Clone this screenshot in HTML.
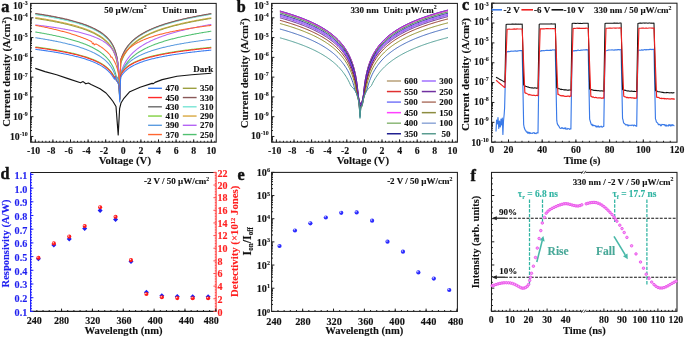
<!DOCTYPE html>
<html><head><meta charset="utf-8"><style>
html,body{margin:0;padding:0;background:#fff;}
svg{display:block;font-family:"Liberation Serif",serif;font-weight:bold;filter:blur(0.3px);}
</style></head><body>
<svg width="685" height="339" viewBox="0 0 685 339">
<defs>
<clipPath id="ca"><rect x="30.6" y="3.4" width="185.60" height="138.80"/></clipPath>
<clipPath id="cb"><rect x="271.6" y="3.4" width="185.80" height="138.80"/></clipPath>
<clipPath id="cc"><rect x="491.6" y="3.2" width="185.40" height="139.00"/></clipPath>
</defs>
<rect width="685" height="339" fill="#fff"/>
<g clip-path="url(#ca)">
<polyline points="35.3,13.9 36.18,14.03 37.06,14.17 37.94,14.3 38.82,14.44 39.7,14.58 40.58,14.71 41.46,14.86 42.34,15 43.22,15.14 44.1,15.29 44.98,15.44 45.86,15.59 46.74,15.74 47.62,15.89 48.5,16.04 49.38,16.2 50.26,16.36 51.14,16.52 52.02,16.68 52.9,16.85 53.78,17.02 54.66,17.19 55.54,17.36 56.42,17.53 57.3,17.71 58.18,17.89 59.06,18.07 59.94,18.25 60.82,18.44 61.7,18.63 62.58,18.82 63.46,19.02 64.34,19.22 65.22,19.42 66.1,19.63 66.98,19.84 67.86,20.05 68.74,20.26 69.62,20.48 70.5,20.71 71.38,20.93 72.26,21.17 73.14,21.4 74.02,21.64 74.9,21.89 75.78,22.14 76.66,22.4 77.54,22.66 78.42,22.92 79.3,23.19 80.18,23.47 81.06,23.76 81.94,24.05 82.82,24.35 83.7,24.65 84.58,24.96 85.46,25.28 86.34,25.61 87.22,25.95 88.1,26.3 88.98,26.65 89.86,27.02 90.74,27.4 91.62,27.79 92.5,28.19 93.38,28.61 94.26,29.04 95.14,29.48 96.02,29.94 96.9,30.42 97.78,30.92 98.66,31.44 99.54,31.98 100.42,32.54 101.3,33.14 102.18,33.76 103.06,34.41 103.94,35.1 104.82,35.83 105.7,36.6 106.58,37.42 107.46,38.3 108.34,39.25 109.22,40.28 110.1,41.39 110.98,42.61 111.86,43.97 112.74,45.49 113.62,47.22 114.5,49.22 115.38,51.6 116.26,54.55 117.14,58.39 118.02,63.96 118.9,74.17 119.78,97 120.66,60.41 121.54,57.82 122.42,55.6 123.3,53.65 124.18,51.92 125.06,50.36 125.94,48.94 126.82,47.64 127.7,46.44 128.58,45.33 129.46,44.29 130.34,43.31 131.22,42.4 132.1,41.53 132.98,40.71 133.86,39.93 134.74,39.18 135.62,38.47 136.5,37.8 137.38,37.15 138.26,36.52 139.14,35.92 140.02,35.34 140.9,34.78 141.78,34.25 142.66,33.73 143.54,33.22 144.42,32.73 145.3,32.26 146.18,31.8 147.06,31.36 147.94,30.92 148.82,30.5 149.7,30.09 150.58,29.69 151.46,29.3 152.34,28.92 153.22,28.54 154.1,28.18 154.98,27.83 155.86,27.48 156.74,27.14 157.62,26.81 158.5,26.48 159.38,26.16 160.26,25.85 161.14,25.54 162.02,25.24 162.9,24.95 163.78,24.66 164.66,24.38 165.54,24.1 166.42,23.82 167.3,23.55 168.18,23.29 169.06,23.03 169.94,22.77 170.82,22.52 171.7,22.27 172.58,22.03 173.46,21.79 174.34,21.55 175.22,21.32 176.1,21.09 176.98,20.86 177.86,20.64 178.74,20.42 179.62,20.2 180.5,19.99 181.38,19.78 182.26,19.57 183.14,19.36 184.02,19.16 184.9,18.96 185.78,18.76 186.66,18.56 187.54,18.37 188.42,18.18 189.3,17.99 190.18,17.81 191.06,17.62 191.94,17.44 192.82,17.26 193.7,17.08 194.58,16.91 195.46,16.73 196.34,16.56 197.22,16.39 198.1,16.23 198.98,16.06 199.86,15.89 200.74,15.73 201.62,15.57 202.5,15.41 203.38,15.25 204.26,15.1 205.14,14.94 206.02,14.79 206.9,14.64 207.78,14.49 208.66,14.34 209.54,14.19 210.42,14.04 211.3,13.9" fill="none" stroke="#6a6a6a" stroke-width="1.05" stroke-linejoin="round" />
<polyline points="35.3,14.6 36.18,14.73 37.06,14.87 37.94,15 38.82,15.14 39.7,15.28 40.58,15.41 41.46,15.56 42.34,15.7 43.22,15.84 44.1,15.99 44.98,16.14 45.86,16.29 46.74,16.44 47.62,16.59 48.5,16.74 49.38,16.9 50.26,17.06 51.14,17.22 52.02,17.38 52.9,17.55 53.78,17.72 54.66,17.89 55.54,18.06 56.42,18.23 57.3,18.41 58.18,18.59 59.06,18.77 59.94,18.95 60.82,19.14 61.7,19.33 62.58,19.52 63.46,19.72 64.34,19.92 65.22,20.12 66.1,20.33 66.98,20.54 67.86,20.75 68.74,20.96 69.62,21.18 70.5,21.41 71.38,21.63 72.26,21.87 73.14,22.1 74.02,22.34 74.9,22.59 75.78,22.84 76.66,23.1 77.54,23.36 78.42,23.62 79.3,23.89 80.18,24.17 81.06,24.46 81.94,24.75 82.82,25.05 83.7,25.35 84.58,25.66 85.46,25.98 86.34,26.31 87.22,26.65 88.1,27 88.98,27.35 89.86,27.72 90.74,28.1 91.62,28.49 92.5,28.89 93.38,29.31 94.26,29.74 95.14,30.18 96.02,30.64 96.9,31.12 97.78,31.62 98.66,32.14 99.54,32.68 100.42,33.24 101.3,33.84 102.18,34.46 103.06,35.11 103.94,35.8 104.82,36.53 105.7,37.3 106.58,38.12 107.46,39 108.34,39.95 109.22,40.98 110.1,42.09 110.98,43.31 111.86,44.67 112.74,46.19 113.62,47.92 114.5,49.92 115.38,52.3 116.26,55.25 117.14,59.09 118.02,64.66 118.9,74.87 119.78,98 120.66,60.81 121.54,58.22 122.42,56 123.3,54.05 124.18,52.32 125.06,50.76 125.94,49.34 126.82,48.04 127.7,46.84 128.58,45.73 129.46,44.69 130.34,43.71 131.22,42.8 132.1,41.93 132.98,41.11 133.86,40.33 134.74,39.58 135.62,38.87 136.5,38.2 137.38,37.55 138.26,36.92 139.14,36.32 140.02,35.74 140.9,35.18 141.78,34.65 142.66,34.13 143.54,33.62 144.42,33.13 145.3,32.66 146.18,32.2 147.06,31.76 147.94,31.32 148.82,30.9 149.7,30.49 150.58,30.09 151.46,29.7 152.34,29.32 153.22,28.94 154.1,28.58 154.98,28.23 155.86,27.88 156.74,27.54 157.62,27.21 158.5,26.88 159.38,26.56 160.26,26.25 161.14,25.94 162.02,25.64 162.9,25.35 163.78,25.06 164.66,24.78 165.54,24.5 166.42,24.22 167.3,23.95 168.18,23.69 169.06,23.43 169.94,23.17 170.82,22.92 171.7,22.67 172.58,22.43 173.46,22.19 174.34,21.95 175.22,21.72 176.1,21.49 176.98,21.26 177.86,21.04 178.74,20.82 179.62,20.6 180.5,20.39 181.38,20.18 182.26,19.97 183.14,19.76 184.02,19.56 184.9,19.36 185.78,19.16 186.66,18.96 187.54,18.77 188.42,18.58 189.3,18.39 190.18,18.21 191.06,18.02 191.94,17.84 192.82,17.66 193.7,17.48 194.58,17.31 195.46,17.13 196.34,16.96 197.22,16.79 198.1,16.63 198.98,16.46 199.86,16.29 200.74,16.13 201.62,15.97 202.5,15.81 203.38,15.65 204.26,15.5 205.14,15.34 206.02,15.19 206.9,15.04 207.78,14.89 208.66,14.74 209.54,14.59 210.42,14.44 211.3,14.3" fill="none" stroke="#78e4d4" stroke-width="1.05" stroke-linejoin="round" />
<polyline points="35.3,13.4 36.18,13.53 37.06,13.67 37.94,13.8 38.82,13.94 39.7,14.08 40.58,14.21 41.46,14.36 42.34,14.5 43.22,14.64 44.1,14.79 44.98,14.94 45.86,15.09 46.74,15.24 47.62,15.39 48.5,15.54 49.38,15.7 50.26,15.86 51.14,16.02 52.02,16.18 52.9,16.35 53.78,16.52 54.66,16.69 55.54,16.86 56.42,17.03 57.3,17.21 58.18,17.39 59.06,17.57 59.94,17.75 60.82,17.94 61.7,18.13 62.58,18.32 63.46,18.52 64.34,18.72 65.22,18.92 66.1,19.13 66.98,19.34 67.86,19.55 68.74,19.76 69.62,19.98 70.5,20.21 71.38,20.43 72.26,20.67 73.14,20.9 74.02,21.14 74.9,21.39 75.78,21.64 76.66,21.9 77.54,22.16 78.42,22.42 79.3,22.69 80.18,22.97 81.06,23.26 81.94,23.55 82.82,23.85 83.7,24.15 84.58,24.46 85.46,24.78 86.34,25.11 87.22,25.45 88.1,25.8 88.98,26.15 89.86,26.52 90.74,26.9 91.62,27.29 92.5,27.69 93.38,28.11 94.26,28.54 95.14,28.98 96.02,29.44 96.9,29.92 97.78,30.42 98.66,30.94 99.54,31.48 100.42,32.04 101.3,32.64 102.18,33.26 103.06,33.91 103.94,34.6 104.82,35.33 105.7,36.1 106.58,36.92 107.46,37.8 108.34,38.75 109.22,39.78 110.1,40.89 110.98,42.11 111.86,43.47 112.74,44.99 113.62,46.72 114.5,48.72 115.38,51.1 116.26,54.05 117.14,57.89 118.02,63.46 118.9,73.67 119.78,99 120.66,60.11 121.54,57.52 122.42,55.3 123.3,53.35 124.18,51.62 125.06,50.06 125.94,48.64 126.82,47.34 127.7,46.14 128.58,45.03 129.46,43.99 130.34,43.01 131.22,42.1 132.1,41.23 132.98,40.41 133.86,39.63 134.74,38.88 135.62,38.17 136.5,37.5 137.38,36.85 138.26,36.22 139.14,35.62 140.02,35.04 140.9,34.48 141.78,33.95 142.66,33.43 143.54,32.92 144.42,32.43 145.3,31.96 146.18,31.5 147.06,31.06 147.94,30.62 148.82,30.2 149.7,29.79 150.58,29.39 151.46,29 152.34,28.62 153.22,28.24 154.1,27.88 154.98,27.53 155.86,27.18 156.74,26.84 157.62,26.51 158.5,26.18 159.38,25.86 160.26,25.55 161.14,25.24 162.02,24.94 162.9,24.65 163.78,24.36 164.66,24.08 165.54,23.8 166.42,23.52 167.3,23.25 168.18,22.99 169.06,22.73 169.94,22.47 170.82,22.22 171.7,21.97 172.58,21.73 173.46,21.49 174.34,21.25 175.22,21.02 176.1,20.79 176.98,20.56 177.86,20.34 178.74,20.12 179.62,19.9 180.5,19.69 181.38,19.48 182.26,19.27 183.14,19.06 184.02,18.86 184.9,18.66 185.78,18.46 186.66,18.26 187.54,18.07 188.42,17.88 189.3,17.69 190.18,17.51 191.06,17.32 191.94,17.14 192.82,16.96 193.7,16.78 194.58,16.61 195.46,16.43 196.34,16.26 197.22,16.09 198.1,15.93 198.98,15.76 199.86,15.59 200.74,15.43 201.62,15.27 202.5,15.11 203.38,14.95 204.26,14.8 205.14,14.64 206.02,14.49 206.9,14.34 207.78,14.19 208.66,14.04 209.54,13.89 210.42,13.74 211.3,13.6" fill="none" stroke="#8a5858" stroke-width="1.05" stroke-linejoin="round" />
<polyline points="35.3,17.6 36.18,17.73 37.06,17.87 37.94,18 38.82,18.14 39.7,18.28 40.58,18.41 41.46,18.56 42.34,18.7 43.22,18.84 44.1,18.99 44.98,19.14 45.86,19.29 46.74,19.44 47.62,19.59 48.5,19.74 49.38,19.9 50.26,20.06 51.14,20.22 52.02,20.38 52.9,20.55 53.78,20.72 54.66,20.89 55.54,21.06 56.42,21.23 57.3,21.41 58.18,21.59 59.06,21.77 59.94,21.95 60.82,22.14 61.7,22.33 62.58,22.52 63.46,22.72 64.34,22.92 65.22,23.12 66.1,23.33 66.98,23.54 67.86,23.75 68.74,23.96 69.62,24.18 70.5,24.41 71.38,24.63 72.26,24.87 73.14,25.1 74.02,25.34 74.9,25.59 75.78,25.84 76.66,26.1 77.54,26.36 78.42,26.62 79.3,26.89 80.18,27.17 81.06,27.46 81.94,27.75 82.82,28.05 83.7,28.35 84.58,28.66 85.46,28.98 86.34,29.31 87.22,29.65 88.1,30 88.98,30.35 89.86,30.72 90.74,31.1 91.62,31.49 92.5,31.89 93.38,32.31 94.26,32.74 95.14,33.18 96.02,33.64 96.9,34.12 97.78,34.62 98.66,35.14 99.54,35.68 100.42,36.24 101.3,36.84 102.18,37.46 103.06,38.11 103.94,38.8 104.82,39.53 105.7,40.3 106.58,41.12 107.46,42 108.34,42.95 109.22,43.98 110.1,45.09 110.98,46.31 111.86,47.67 112.74,49.19 113.62,50.92 114.5,52.92 115.38,55.3 116.26,58.25 117.14,62.09 118.02,67.66 118.9,76.56 119.78,97 120.66,63.02 121.54,60.5 122.42,58.34 123.3,56.44 124.18,54.76 125.06,53.25 125.94,51.87 126.82,50.61 127.7,49.44 128.58,48.36 129.46,47.34 130.34,46.4 131.22,45.5 132.1,44.66 132.98,43.86 133.86,43.1 134.74,42.38 135.62,41.69 136.5,41.03 137.38,40.4 138.26,39.79 139.14,39.21 140.02,38.65 140.9,38.1 141.78,37.58 142.66,37.08 143.54,36.59 144.42,36.11 145.3,35.65 146.18,35.2 147.06,34.77 147.94,34.35 148.82,33.94 149.7,33.54 150.58,33.15 151.46,32.77 152.34,32.4 153.22,32.04 154.1,31.68 154.98,31.34 155.86,31 156.74,30.67 157.62,30.35 158.5,30.03 159.38,29.72 160.26,29.42 161.14,29.12 162.02,28.83 162.9,28.54 163.78,28.26 164.66,27.98 165.54,27.71 166.42,27.45 167.3,27.18 168.18,26.93 169.06,26.67 169.94,26.43 170.82,26.18 171.7,25.94 172.58,25.7 173.46,25.47 174.34,25.24 175.22,25.01 176.1,24.79 176.98,24.57 177.86,24.35 178.74,24.14 179.62,23.93 180.5,23.72 181.38,23.51 182.26,23.31 183.14,23.11 184.02,22.91 184.9,22.72 185.78,22.53 186.66,22.34 187.54,22.15 188.42,21.96 189.3,21.78 190.18,21.6 191.06,21.42 191.94,21.24 192.82,21.07 193.7,20.9 194.58,20.73 195.46,20.56 196.34,20.39 197.22,20.22 198.1,20.06 198.98,19.9 199.86,19.74 200.74,19.58 201.62,19.42 202.5,19.27 203.38,19.12 204.26,18.96 205.14,18.81 206.02,18.66 206.9,18.52 207.78,18.37 208.66,18.23 209.54,18.08 210.42,17.94 211.3,17.8" fill="none" stroke="#d8a840" stroke-width="1.05" stroke-linejoin="round" />
<polyline points="35.3,18.4 36.18,18.53 37.06,18.67 37.94,18.8 38.82,18.94 39.7,19.08 40.58,19.21 41.46,19.36 42.34,19.5 43.22,19.64 44.1,19.79 44.98,19.94 45.86,20.09 46.74,20.24 47.62,20.39 48.5,20.54 49.38,20.7 50.26,20.86 51.14,21.02 52.02,21.18 52.9,21.35 53.78,21.52 54.66,21.69 55.54,21.86 56.42,22.03 57.3,22.21 58.18,22.39 59.06,22.57 59.94,22.75 60.82,22.94 61.7,23.13 62.58,23.32 63.46,23.52 64.34,23.72 65.22,23.92 66.1,24.13 66.98,24.34 67.86,24.55 68.74,24.76 69.62,24.98 70.5,25.21 71.38,25.43 72.26,25.67 73.14,25.9 74.02,26.14 74.9,26.39 75.78,26.64 76.66,26.9 77.54,27.16 78.42,27.42 79.3,27.69 80.18,27.97 81.06,28.26 81.94,28.55 82.82,28.85 83.7,29.15 84.58,29.46 85.46,29.78 86.34,30.11 87.22,30.45 88.1,30.8 88.98,31.15 89.86,31.52 90.74,31.9 91.62,32.29 92.5,32.69 93.38,33.11 94.26,33.54 95.14,33.98 96.02,34.44 96.9,34.92 97.78,35.42 98.66,35.94 99.54,36.48 100.42,37.04 101.3,37.64 102.18,38.26 103.06,38.91 103.94,39.6 104.82,40.33 105.7,41.1 106.58,41.92 107.46,42.8 108.34,43.75 109.22,44.78 110.1,45.89 110.98,47.11 111.86,48.47 112.74,49.99 113.62,51.72 114.5,53.72 115.38,56.1 116.26,59.05 117.14,62.89 118.02,68.46 118.9,76.8 119.78,98 120.66,63.62 121.54,61.1 122.42,58.94 123.3,57.04 124.18,55.36 125.06,53.85 125.94,52.47 126.82,51.21 127.7,50.04 128.58,48.96 129.46,47.94 130.34,47 131.22,46.1 132.1,45.26 132.98,44.46 133.86,43.7 134.74,42.98 135.62,42.29 136.5,41.63 137.38,41 138.26,40.39 139.14,39.81 140.02,39.25 140.9,38.7 141.78,38.18 142.66,37.68 143.54,37.19 144.42,36.71 145.3,36.25 146.18,35.8 147.06,35.37 147.94,34.95 148.82,34.54 149.7,34.14 150.58,33.75 151.46,33.37 152.34,33 153.22,32.64 154.1,32.28 154.98,31.94 155.86,31.6 156.74,31.27 157.62,30.95 158.5,30.63 159.38,30.32 160.26,30.02 161.14,29.72 162.02,29.43 162.9,29.14 163.78,28.86 164.66,28.58 165.54,28.31 166.42,28.05 167.3,27.78 168.18,27.53 169.06,27.27 169.94,27.03 170.82,26.78 171.7,26.54 172.58,26.3 173.46,26.07 174.34,25.84 175.22,25.61 176.1,25.39 176.98,25.17 177.86,24.95 178.74,24.74 179.62,24.53 180.5,24.32 181.38,24.11 182.26,23.91 183.14,23.71 184.02,23.51 184.9,23.32 185.78,23.13 186.66,22.94 187.54,22.75 188.42,22.56 189.3,22.38 190.18,22.2 191.06,22.02 191.94,21.84 192.82,21.67 193.7,21.5 194.58,21.33 195.46,21.16 196.34,20.99 197.22,20.82 198.1,20.66 198.98,20.5 199.86,20.34 200.74,20.18 201.62,20.02 202.5,19.87 203.38,19.72 204.26,19.56 205.14,19.41 206.02,19.26 206.9,19.12 207.78,18.97 208.66,18.83 209.54,18.68 210.42,18.54 211.3,18.4" fill="none" stroke="#9ca040" stroke-width="1.05" stroke-linejoin="round" />
<polyline points="35.3,24.9 36.18,25 37.06,25.11 37.94,25.22 38.82,25.33 39.7,25.44 40.58,25.55 41.46,25.66 42.34,25.77 43.22,25.89 44.1,26 44.98,26.12 45.86,26.24 46.74,26.36 47.62,26.48 48.5,26.6 49.38,26.73 50.26,26.85 51.14,26.98 52.02,27.11 52.9,27.24 53.78,27.37 54.66,27.51 55.54,27.64 56.42,27.78 57.3,27.92 58.18,28.06 59.06,28.21 59.94,28.35 60.82,28.5 61.7,28.65 62.58,28.81 63.46,28.96 64.34,29.12 65.22,29.28 66.1,29.44 66.98,29.61 67.86,29.78 68.74,29.95 69.62,30.12 70.5,30.3 71.38,30.48 72.26,30.66 73.14,30.85 74.02,31.04 74.9,31.24 75.78,31.44 76.66,31.64 77.54,31.84 78.42,32.06 79.3,32.27 80.18,32.49 81.06,32.72 81.94,32.95 82.82,33.18 83.7,33.43 84.58,33.67 85.46,33.93 86.34,34.19 87.22,34.46 88.1,34.73 88.98,35.02 89.86,35.31 90.74,35.61 91.62,35.92 92.5,36.23 93.38,36.56 94.26,36.91 95.14,37.26 96.02,37.62 96.9,38 97.78,38.4 98.66,38.81 99.54,39.24 100.42,39.69 101.3,40.16 102.18,40.65 103.06,41.17 103.94,41.71 104.82,42.29 105.7,42.9 106.58,43.56 107.46,44.25 108.34,45.01 109.22,45.82 110.1,46.7 110.98,47.67 111.86,48.75 112.74,49.95 113.62,51.32 114.5,52.91 115.38,54.8 116.26,57.14 117.14,60.19 118.02,64.6 118.9,72.7 119.78,99 120.66,73.5 121.54,70.76 122.42,68.41 123.3,66.36 124.18,64.53 125.06,62.88 125.94,61.39 126.82,60.02 127.7,58.75 128.58,57.57 129.46,56.48 130.34,55.45 131.22,54.48 132.1,53.56 132.98,52.7 133.86,51.87 134.74,51.09 135.62,50.34 136.5,49.62 137.38,48.94 138.26,48.28 139.14,47.64 140.02,47.03 140.9,46.45 141.78,45.88 142.66,45.33 143.54,44.8 144.42,44.28 145.3,43.78 146.18,43.3 147.06,42.83 147.94,42.37 148.82,41.92 149.7,41.49 150.58,41.07 151.46,40.65 152.34,40.25 153.22,39.86 154.1,39.47 154.98,39.1 155.86,38.73 156.74,38.38 157.62,38.02 158.5,37.68 159.38,37.34 160.26,37.01 161.14,36.69 162.02,36.37 162.9,36.06 163.78,35.76 164.66,35.46 165.54,35.16 166.42,34.87 167.3,34.59 168.18,34.31 169.06,34.03 169.94,33.76 170.82,33.5 171.7,33.24 172.58,32.98 173.46,32.73 174.34,32.48 175.22,32.23 176.1,31.99 176.98,31.75 177.86,31.51 178.74,31.28 179.62,31.05 180.5,30.82 181.38,30.6 182.26,30.38 183.14,30.16 184.02,29.95 184.9,29.74 185.78,29.53 186.66,29.32 187.54,29.12 188.42,28.92 189.3,28.72 190.18,28.52 191.06,28.33 191.94,28.14 192.82,27.95 193.7,27.76 194.58,27.58 195.46,27.39 196.34,27.21 197.22,27.03 198.1,26.85 198.98,26.68 199.86,26.51 200.74,26.33 201.62,26.16 202.5,26 203.38,25.83 204.26,25.66 205.14,25.5 206.02,25.34 206.9,25.18 207.78,25.02 208.66,24.86 209.54,24.71 210.42,24.55 211.3,24.4" fill="none" stroke="#b464f4" stroke-width="1.05" stroke-linejoin="round" />
<polyline points="35.3,25.3 36.18,25.47 37.06,25.63 37.94,25.8 38.82,25.98 39.7,26.15 40.58,26.33 41.46,26.5 42.34,26.68 43.22,26.86 44.1,27.05 44.98,27.23 45.86,27.42 46.74,27.6 47.62,27.79 48.5,27.99 49.38,28.18 50.26,28.38 51.14,28.58 52.02,28.78 52.9,28.98 53.78,29.18 54.66,29.39 55.54,29.6 56.42,29.81 57.3,30.03 58.18,30.25 59.06,30.47 59.94,30.69 60.82,30.92 61.7,31.15 62.58,31.38 63.46,31.61 64.34,31.85 65.22,32.09 66.1,32.34 66.98,32.59 67.86,32.84 68.74,33.09 69.62,33.35 70.5,33.62 71.38,33.88 72.26,34.16 73.14,34.43 74.02,34.71 74.9,35 75.78,35.29 76.66,35.58 77.54,35.88 78.42,36.19 79.3,36.5 80.18,36.81 81.06,37.14 81.94,37.47 82.82,37.8 83.7,38.15 84.58,38.5 85.46,38.85 86.34,39.22 87.22,39.59 88.1,39.97 88.98,40.37 89.86,40.77 90.74,41.18 91.62,41.6 92.5,43.83 93.38,43.08 94.26,44.93 95.14,44.21 96.02,43.89 96.9,44.39 97.78,44.91 98.66,45.45 99.54,46 100.42,46.58 101.3,47.17 102.18,47.79 103.06,48.44 103.94,49.12 104.82,49.83 105.7,50.57 106.58,51.36 107.46,52.19 108.34,53.07 109.22,54.01 110.1,55.01 110.98,57.29 111.86,56.97 112.74,58.56 113.62,59.98 114.5,61.59 115.38,63.42 116.26,65.58 117.14,68.22 118.02,71.69 118.9,76.29 119.78,99 120.66,60.29 121.54,58.34 122.42,56.67 123.3,55.21 124.18,53.91 125.06,52.74 125.94,51.68 126.82,50.71 127.7,49.81 128.58,48.97 129.46,48.19 130.34,47.46 131.22,46.77 132.1,46.12 132.98,45.51 133.86,44.92 134.74,44.36 135.62,43.83 136.5,43.32 137.38,42.83 138.26,42.37 139.14,41.92 140.02,41.48 140.9,41.06 141.78,40.66 142.66,40.27 143.54,39.89 144.42,39.53 145.3,39.17 146.18,38.83 147.06,38.49 147.94,38.17 148.82,37.85 149.7,37.54 150.58,37.24 151.46,36.95 152.34,36.66 153.22,36.38 154.1,36.11 154.98,35.84 155.86,35.58 156.74,35.33 157.62,35.08 158.5,34.84 159.38,34.6 160.26,34.36 161.14,34.13 162.02,33.91 162.9,33.69 163.78,33.47 164.66,33.26 165.54,33.05 166.42,32.84 167.3,32.64 168.18,32.44 169.06,32.25 169.94,32.05 170.82,31.86 171.7,31.68 172.58,31.5 173.46,31.32 174.34,31.14 175.22,30.96 176.1,30.79 176.98,30.62 177.86,30.45 178.74,30.29 179.62,30.13 180.5,29.96 181.38,29.81 182.26,29.65 183.14,29.5 184.02,29.34 184.9,29.19 185.78,29.05 186.66,28.9 187.54,28.75 188.42,28.61 189.3,28.47 190.18,28.33 191.06,28.19 191.94,28.06 192.82,27.92 193.7,27.79 194.58,27.66 195.46,27.53 196.34,27.4 197.22,27.27 198.1,27.14 198.98,27.02 199.86,26.9 200.74,26.77 201.62,26.65 202.5,26.53 203.38,26.41 204.26,26.3 205.14,26.18 206.02,26.07 206.9,25.95 207.78,25.84 208.66,25.73 209.54,25.62 210.42,25.51 211.3,25.4" fill="none" stroke="#ff6630" stroke-width="1.05" stroke-linejoin="round" />
<polyline points="35.3,32 36.18,32.14 37.06,32.29 37.94,32.44 38.82,32.58 39.7,32.73 40.58,32.88 41.46,33.04 42.34,33.19 43.22,33.35 44.1,33.51 44.98,33.67 45.86,33.83 46.74,34 47.62,34.16 48.5,34.33 49.38,34.5 50.26,34.67 51.14,34.85 52.02,35.02 52.9,35.2 53.78,35.39 54.66,35.57 55.54,35.76 56.42,35.95 57.3,36.14 58.18,36.33 59.06,36.53 59.94,36.73 60.82,36.93 61.7,37.14 62.58,37.35 63.46,37.56 64.34,37.78 65.22,38 66.1,38.22 66.98,38.45 67.86,38.68 68.74,38.91 69.62,39.15 70.5,39.39 71.38,39.64 72.26,39.89 73.14,40.15 74.02,40.41 74.9,40.68 75.78,40.95 76.66,41.23 77.54,41.51 78.42,41.8 79.3,42.1 80.18,42.4 81.06,42.71 81.94,43.02 82.82,43.35 83.7,43.68 84.58,44.02 85.46,44.36 86.34,44.72 87.22,45.09 88.1,45.47 88.98,45.85 89.86,46.25 90.74,46.66 91.62,47.09 92.5,47.52 93.38,47.98 94.26,48.44 95.14,48.93 96.02,49.43 96.9,49.95 97.78,50.49 98.66,51.05 99.54,51.64 100.42,52.25 101.3,52.89 102.18,53.57 103.06,54.28 103.94,55.02 104.82,55.82 105.7,56.66 106.58,57.55 107.46,58.51 108.34,59.54 109.22,60.65 110.1,61.86 110.98,63.19 111.86,64.66 112.74,66.31 113.62,68.19 114.5,70.37 115.38,72.95 116.26,76.04 117.14,77.3 118.02,79.11 118.9,82.44 119.78,99 120.66,75.13 121.54,72.68 122.42,70.58 123.3,68.74 124.18,67.11 125.06,65.63 125.94,64.3 126.82,63.07 127.7,61.94 128.58,60.88 129.46,59.9 130.34,58.98 131.22,58.11 132.1,57.29 132.98,56.52 133.86,55.78 134.74,55.08 135.62,54.41 136.5,53.77 137.38,53.15 138.26,52.56 139.14,52 140.02,51.45 140.9,50.92 141.78,50.42 142.66,49.92 143.54,49.45 144.42,48.99 145.3,48.54 146.18,48.11 147.06,47.69 147.94,47.28 148.82,46.88 149.7,46.49 150.58,46.11 151.46,45.74 152.34,45.38 153.22,45.03 154.1,44.69 154.98,44.35 155.86,44.02 156.74,43.7 157.62,43.39 158.5,43.08 159.38,42.78 160.26,42.49 161.14,42.2 162.02,41.91 162.9,41.63 163.78,41.36 164.66,41.09 165.54,40.83 166.42,40.57 167.3,40.32 168.18,40.07 169.06,39.82 169.94,39.58 170.82,39.34 171.7,39.11 172.58,38.88 173.46,38.65 174.34,38.43 175.22,38.2 176.1,37.99 176.98,37.77 177.86,37.56 178.74,37.36 179.62,37.15 180.5,36.95 181.38,36.75 182.26,36.55 183.14,36.36 184.02,36.17 184.9,35.98 185.78,35.79 186.66,35.61 187.54,35.42 188.42,35.24 189.3,35.07 190.18,34.89 191.06,34.72 191.94,34.54 192.82,34.38 193.7,34.21 194.58,34.04 195.46,33.88 196.34,33.72 197.22,33.55 198.1,33.4 198.98,33.24 199.86,33.08 200.74,32.93 201.62,32.78 202.5,32.63 203.38,32.48 204.26,32.33 205.14,32.18 206.02,32.04 206.9,31.9 207.78,31.75 208.66,31.61 209.54,31.47 210.42,31.34 211.3,31.2" fill="none" stroke="#50c070" stroke-width="1.05" stroke-linejoin="round" />
<polyline points="35.3,37.7 36.18,37.83 37.06,37.97 37.94,38.11 38.82,38.24 39.7,38.38 40.58,38.53 41.46,38.67 42.34,38.81 43.22,38.96 44.1,39.11 44.98,39.26 45.86,39.41 46.74,39.56 47.62,39.72 48.5,39.87 49.38,40.03 50.26,40.19 51.14,40.36 52.02,40.52 52.9,40.69 53.78,40.86 54.66,41.03 55.54,41.21 56.42,41.38 57.3,41.56 58.18,41.74 59.06,41.93 59.94,42.11 60.82,42.3 61.7,42.5 62.58,42.69 63.46,42.89 64.34,43.09 65.22,43.3 66.1,43.51 66.98,43.72 67.86,43.93 68.74,44.15 69.62,44.37 70.5,44.6 71.38,44.83 72.26,45.07 73.14,45.31 74.02,45.55 74.9,45.8 75.78,46.05 76.66,46.31 77.54,46.58 78.42,46.85 79.3,47.12 80.18,47.4 81.06,47.69 81.94,47.99 82.82,48.29 83.7,48.6 84.58,48.92 85.46,49.24 86.34,49.57 87.22,49.92 88.1,50.27 88.98,50.63 89.86,51 90.74,51.39 91.62,51.78 92.5,52.19 93.38,52.61 94.26,53.05 95.14,53.5 96.02,53.96 96.9,54.45 97.78,54.96 98.66,55.48 99.54,56.03 100.42,56.6 101.3,57.2 102.18,57.83 103.06,58.49 103.94,59.19 104.82,59.93 105.7,60.71 106.58,61.55 107.46,62.44 108.34,63.4 109.22,64.44 110.1,65.57 110.98,66.81 111.86,68.18 112.74,69.72 113.62,71.48 114.5,73.51 115.38,75.92 116.26,76.87 117.14,78.04 118.02,79.73 118.9,82.84 119.78,100 120.66,74.19 121.54,72.24 122.42,70.57 123.3,69.11 124.18,67.81 125.06,66.64 125.94,65.58 126.82,64.61 127.7,63.71 128.58,62.87 129.46,62.09 130.34,61.36 131.22,60.67 132.1,60.02 132.98,59.41 133.86,58.82 134.74,58.26 135.62,57.73 136.5,57.22 137.38,56.73 138.26,56.27 139.14,55.82 140.02,55.38 140.9,54.96 141.78,54.56 142.66,54.17 143.54,53.79 144.42,53.43 145.3,53.07 146.18,52.73 147.06,52.39 147.94,52.07 148.82,51.75 149.7,51.44 150.58,51.14 151.46,50.85 152.34,50.56 153.22,50.28 154.1,50.01 154.98,49.74 155.86,49.48 156.74,49.23 157.62,48.98 158.5,48.74 159.38,48.5 160.26,48.26 161.14,48.03 162.02,47.81 162.9,47.59 163.78,47.37 164.66,47.16 165.54,46.95 166.42,46.74 167.3,46.54 168.18,46.34 169.06,46.15 169.94,45.95 170.82,45.76 171.7,45.58 172.58,45.4 173.46,45.22 174.34,45.04 175.22,44.86 176.1,44.69 176.98,44.52 177.86,44.35 178.74,44.19 179.62,44.03 180.5,43.86 181.38,43.71 182.26,43.55 183.14,43.4 184.02,43.24 184.9,43.09 185.78,42.95 186.66,42.8 187.54,42.65 188.42,42.51 189.3,42.37 190.18,42.23 191.06,42.09 191.94,41.96 192.82,41.82 193.7,41.69 194.58,41.56 195.46,41.43 196.34,41.3 197.22,41.17 198.1,41.04 198.98,40.92 199.86,40.8 200.74,40.67 201.62,40.55 202.5,40.43 203.38,40.31 204.26,40.2 205.14,40.08 206.02,39.97 206.9,39.85 207.78,39.74 208.66,39.63 209.54,39.52 210.42,39.41 211.3,39.3" fill="none" stroke="#5c9ce0" stroke-width="1.05" stroke-linejoin="round" />
<polyline points="35.3,46.9 36.18,47.01 37.06,47.13 37.94,47.25 38.82,47.36 39.7,47.48 40.58,47.6 41.46,47.72 42.34,47.85 43.22,47.97 44.1,48.1 44.98,48.22 45.86,48.35 46.74,48.48 47.62,48.62 48.5,48.75 49.38,48.88 50.26,49.02 51.14,49.16 52.02,49.3 52.9,49.44 53.78,49.59 54.66,49.73 55.54,49.88 56.42,50.03 57.3,50.18 58.18,50.34 59.06,50.49 59.94,50.65 60.82,50.81 61.7,50.98 62.58,51.14 63.46,51.31 64.34,51.49 65.22,51.66 66.1,51.84 66.98,52.02 67.86,52.2 68.74,52.39 69.62,52.58 70.5,52.77 71.38,52.96 72.26,53.16 73.14,53.37 74.02,53.58 74.9,53.79 75.78,54 76.66,54.22 77.54,54.45 78.42,54.68 79.3,54.91 80.18,55.15 81.06,55.4 81.94,55.65 82.82,55.9 83.7,56.17 84.58,56.44 85.46,56.71 86.34,57 87.22,57.29 88.1,57.59 88.98,57.89 89.86,58.21 90.74,58.54 91.62,58.87 92.5,59.22 93.38,59.58 94.26,59.95 95.14,60.33 96.02,60.73 96.9,61.14 97.78,61.57 98.66,62.02 99.54,62.49 100.42,62.97 101.3,63.48 102.18,64.02 103.06,64.58 103.94,65.17 104.82,65.8 105.7,66.47 106.58,67.18 107.46,67.94 108.34,68.75 109.22,69.64 110.1,70.6 110.98,71.65 111.86,72.82 112.74,74.13 113.62,75.62 114.5,77.35 115.38,76.12 116.26,79.88 117.14,80.88 118.02,82.32 118.9,84.96 119.78,100 120.66,74.43 121.54,72.92 122.42,71.62 123.3,70.49 124.18,69.48 125.06,68.57 125.94,67.74 126.82,66.98 127.7,66.28 128.58,65.63 129.46,65.03 130.34,64.46 131.22,63.92 132.1,63.42 132.98,62.94 133.86,62.48 134.74,62.05 135.62,61.64 136.5,61.24 137.38,60.86 138.26,60.5 139.14,60.15 140.02,59.81 140.9,59.48 141.78,59.17 142.66,58.87 143.54,58.57 144.42,58.29 145.3,58.01 146.18,57.74 147.06,57.48 147.94,57.23 148.82,56.98 149.7,56.74 150.58,56.51 151.46,56.28 152.34,56.06 153.22,55.84 154.1,55.63 154.98,55.42 155.86,55.22 156.74,55.02 157.62,54.83 158.5,54.64 159.38,54.45 160.26,54.27 161.14,54.09 162.02,53.92 162.9,53.75 163.78,53.58 164.66,53.41 165.54,53.25 166.42,53.09 167.3,52.93 168.18,52.78 169.06,52.62 169.94,52.48 170.82,52.33 171.7,52.18 172.58,52.04 173.46,51.9 174.34,51.76 175.22,51.63 176.1,51.49 176.98,51.36 177.86,51.23 178.74,51.1 179.62,50.98 180.5,50.85 181.38,50.73 182.26,50.61 183.14,50.49 184.02,50.37 184.9,50.25 185.78,50.14 186.66,50.02 187.54,49.91 188.42,49.8 189.3,49.69 190.18,49.58 191.06,49.47 191.94,49.37 192.82,49.26 193.7,49.16 194.58,49.06 195.46,48.95 196.34,48.85 197.22,48.75 198.1,48.66 198.98,48.56 199.86,48.46 200.74,48.37 201.62,48.27 202.5,48.18 203.38,48.09 204.26,48 205.14,47.91 206.02,47.82 206.9,47.73 207.78,47.64 208.66,47.56 209.54,47.47 210.42,47.38 211.3,47.3" fill="none" stroke="#80d040" stroke-width="1.05" stroke-linejoin="round" />
<polyline points="35.3,47.5 36.18,47.61 37.06,47.73 37.94,47.85 38.82,47.96 39.7,48.08 40.58,48.2 41.46,48.32 42.34,48.45 43.22,48.57 44.1,48.7 44.98,48.82 45.86,48.95 46.74,49.08 47.62,49.22 48.5,49.35 49.38,49.48 50.26,49.62 51.14,49.76 52.02,49.9 52.9,50.04 53.78,50.19 54.66,50.33 55.54,50.48 56.42,50.63 57.3,50.78 58.18,50.94 59.06,51.09 59.94,51.25 60.82,51.41 61.7,51.58 62.58,51.74 63.46,51.91 64.34,52.09 65.22,52.26 66.1,52.44 66.98,52.62 67.86,52.8 68.74,52.99 69.62,53.18 70.5,53.37 71.38,53.56 72.26,53.76 73.14,53.97 74.02,54.18 74.9,54.39 75.78,54.6 76.66,54.82 77.54,55.05 78.42,55.28 79.3,55.51 80.18,55.75 81.06,56 81.94,56.25 82.82,56.5 83.7,56.77 84.58,57.04 85.46,57.31 86.34,57.6 87.22,57.89 88.1,58.19 88.98,58.49 89.86,58.81 90.74,59.14 91.62,59.47 92.5,59.82 93.38,60.18 94.26,60.55 95.14,60.93 96.02,61.33 96.9,61.74 97.78,62.17 98.66,62.62 99.54,63.09 100.42,63.57 101.3,64.08 102.18,64.62 103.06,65.18 103.94,65.77 104.82,66.4 105.7,67.07 106.58,67.78 107.46,68.54 108.34,69.35 109.22,70.24 110.1,71.2 110.98,72.25 111.86,73.42 112.74,74.73 113.62,76.22 114.5,77.95 115.38,76.3 116.26,80.06 117.14,81.06 118.02,82.5 118.9,85.14 119.78,99 120.66,75.03 121.54,73.52 122.42,72.22 123.3,71.09 124.18,70.08 125.06,69.17 125.94,68.34 126.82,67.58 127.7,66.88 128.58,66.23 129.46,65.63 130.34,65.06 131.22,64.52 132.1,64.02 132.98,63.54 133.86,63.08 134.74,62.65 135.62,62.24 136.5,61.84 137.38,61.46 138.26,61.1 139.14,60.75 140.02,60.41 140.9,60.08 141.78,59.77 142.66,59.47 143.54,59.17 144.42,58.89 145.3,58.61 146.18,58.34 147.06,58.08 147.94,57.83 148.82,57.58 149.7,57.34 150.58,57.11 151.46,56.88 152.34,56.66 153.22,56.44 154.1,56.23 154.98,56.02 155.86,55.82 156.74,55.62 157.62,55.43 158.5,55.24 159.38,55.05 160.26,54.87 161.14,54.69 162.02,54.52 162.9,54.35 163.78,54.18 164.66,54.01 165.54,53.85 166.42,53.69 167.3,53.53 168.18,53.38 169.06,53.22 169.94,53.08 170.82,52.93 171.7,52.78 172.58,52.64 173.46,52.5 174.34,52.36 175.22,52.23 176.1,52.09 176.98,51.96 177.86,51.83 178.74,51.7 179.62,51.58 180.5,51.45 181.38,51.33 182.26,51.21 183.14,51.09 184.02,50.97 184.9,50.85 185.78,50.74 186.66,50.62 187.54,50.51 188.42,50.4 189.3,50.29 190.18,50.18 191.06,50.07 191.94,49.97 192.82,49.86 193.7,49.76 194.58,49.66 195.46,49.55 196.34,49.45 197.22,49.35 198.1,49.26 198.98,49.16 199.86,49.06 200.74,48.97 201.62,48.87 202.5,48.78 203.38,48.69 204.26,48.6 205.14,48.51 206.02,48.42 206.9,48.33 207.78,48.24 208.66,48.16 209.54,48.07 210.42,47.98 211.3,47.9" fill="none" stroke="#ff2a2a" stroke-width="1.05" stroke-linejoin="round" />
<polyline points="35.3,49.3 36.18,49.41 37.06,49.53 37.94,49.65 38.82,49.76 39.7,49.88 40.58,50 41.46,50.12 42.34,50.25 43.22,50.37 44.1,50.5 44.98,50.62 45.86,50.75 46.74,50.88 47.62,51.02 48.5,51.15 49.38,51.28 50.26,51.42 51.14,51.56 52.02,51.7 52.9,51.84 53.78,51.99 54.66,52.13 55.54,52.28 56.42,52.43 57.3,52.58 58.18,52.74 59.06,52.89 59.94,53.05 60.82,53.21 61.7,53.38 62.58,53.54 63.46,53.71 64.34,53.89 65.22,54.06 66.1,54.24 66.98,54.42 67.86,54.6 68.74,54.79 69.62,54.98 70.5,55.17 71.38,55.36 72.26,55.56 73.14,55.77 74.02,55.98 74.9,56.19 75.78,56.4 76.66,56.62 77.54,56.85 78.42,57.08 79.3,57.31 80.18,57.55 81.06,57.8 81.94,58.05 82.82,58.3 83.7,58.57 84.58,58.84 85.46,59.11 86.34,59.4 87.22,59.69 88.1,59.99 88.98,60.29 89.86,60.61 90.74,60.94 91.62,61.27 92.5,61.62 93.38,61.98 94.26,62.35 95.14,62.73 96.02,63.13 96.9,63.54 97.78,63.97 98.66,64.42 99.54,64.89 100.42,65.37 101.3,65.88 102.18,66.42 103.06,66.98 103.94,67.57 104.82,68.2 105.7,68.87 106.58,69.58 107.46,70.34 108.34,71.15 109.22,72.04 110.1,73 110.98,74.05 111.86,75.22 112.74,76.53 113.62,78.02 114.5,79.22 115.38,76.84 116.26,80.6 117.14,81.6 118.02,83.04 118.9,85.68 119.78,102 120.66,77.23 121.54,75.72 122.42,74.42 123.3,73.29 124.18,72.28 125.06,71.37 125.94,70.54 126.82,69.78 127.7,69.08 128.58,68.43 129.46,67.83 130.34,67.26 131.22,66.72 132.1,66.22 132.98,65.74 133.86,65.28 134.74,64.85 135.62,64.44 136.5,64.04 137.38,63.66 138.26,63.3 139.14,62.95 140.02,62.61 140.9,62.28 141.78,61.97 142.66,61.67 143.54,61.37 144.42,61.09 145.3,60.81 146.18,60.54 147.06,60.28 147.94,60.03 148.82,59.78 149.7,59.54 150.58,59.31 151.46,59.08 152.34,58.86 153.22,58.64 154.1,58.43 154.98,58.22 155.86,58.02 156.74,57.82 157.62,57.63 158.5,57.44 159.38,57.25 160.26,57.07 161.14,56.89 162.02,56.72 162.9,56.55 163.78,56.38 164.66,56.21 165.54,56.05 166.42,55.89 167.3,55.73 168.18,55.58 169.06,55.42 169.94,55.28 170.82,55.13 171.7,54.98 172.58,54.84 173.46,54.7 174.34,54.56 175.22,54.43 176.1,54.29 176.98,54.16 177.86,54.03 178.74,53.9 179.62,53.78 180.5,53.65 181.38,53.53 182.26,53.41 183.14,53.29 184.02,53.17 184.9,53.05 185.78,52.94 186.66,52.82 187.54,52.71 188.42,52.6 189.3,52.49 190.18,52.38 191.06,52.27 191.94,52.17 192.82,52.06 193.7,51.96 194.58,51.86 195.46,51.75 196.34,51.65 197.22,51.55 198.1,51.46 198.98,51.36 199.86,51.26 200.74,51.17 201.62,51.07 202.5,50.98 203.38,50.89 204.26,50.8 205.14,50.71 206.02,50.62 206.9,50.53 207.78,50.44 208.66,50.36 209.54,50.27 210.42,50.18 211.3,50.1" fill="none" stroke="#3c7cf0" stroke-width="1.05" stroke-linejoin="round" />
<polyline points="35.3,68.4 45,71.6 56.6,74.8 68,78.6 80.5,82.8 83.1,81.6 85.8,83.8 88.4,83 91.1,84.5 100,88.8 106,93 110,97.7 113,101.5 116,106.5 118.2,134.9 119.6,108.7 121,103 123.9,98.3 129.8,91.7 140.1,87.3 152,83.4 153.5,83.6 155,82.4 162.2,79.6 177,76.3 191.7,74.7 211.3,73.2" fill="none" stroke="#151515" stroke-width="1.15" stroke-linejoin="round" />
</g>
<rect x="30.6" y="3.4" width="185.6" height="138.8" fill="none" stroke="#1e1e1e" stroke-width="1.05"/>
<line x1="30.6" y1="140.87" x2="32" y2="140.87" stroke="#1e1e1e" stroke-width="1.0" />
<line x1="30.6" y1="139.54" x2="32" y2="139.54" stroke="#1e1e1e" stroke-width="1.0" />
<line x1="30.6" y1="138.4" x2="32" y2="138.4" stroke="#1e1e1e" stroke-width="1.0" />
<line x1="30.6" y1="137.39" x2="32" y2="137.39" stroke="#1e1e1e" stroke-width="1.0" />
<line x1="30.6" y1="136.48" x2="33.4" y2="136.48" stroke="#1e1e1e" stroke-width="1.0" />
<line x1="30.6" y1="130.53" x2="32" y2="130.53" stroke="#1e1e1e" stroke-width="1.0" />
<line x1="30.6" y1="127.04" x2="32" y2="127.04" stroke="#1e1e1e" stroke-width="1.0" />
<line x1="30.6" y1="124.57" x2="32" y2="124.57" stroke="#1e1e1e" stroke-width="1.0" />
<line x1="30.6" y1="122.65" x2="32" y2="122.65" stroke="#1e1e1e" stroke-width="1.0" />
<line x1="30.6" y1="121.09" x2="32" y2="121.09" stroke="#1e1e1e" stroke-width="1.0" />
<line x1="30.6" y1="119.76" x2="32" y2="119.76" stroke="#1e1e1e" stroke-width="1.0" />
<line x1="30.6" y1="118.62" x2="32" y2="118.62" stroke="#1e1e1e" stroke-width="1.0" />
<line x1="30.6" y1="117.61" x2="32" y2="117.61" stroke="#1e1e1e" stroke-width="1.0" />
<line x1="30.6" y1="116.7" x2="33.4" y2="116.7" stroke="#1e1e1e" stroke-width="1.0" />
<line x1="30.6" y1="110.75" x2="32" y2="110.75" stroke="#1e1e1e" stroke-width="1.0" />
<line x1="30.6" y1="107.26" x2="32" y2="107.26" stroke="#1e1e1e" stroke-width="1.0" />
<line x1="30.6" y1="104.79" x2="32" y2="104.79" stroke="#1e1e1e" stroke-width="1.0" />
<line x1="30.6" y1="102.87" x2="32" y2="102.87" stroke="#1e1e1e" stroke-width="1.0" />
<line x1="30.6" y1="101.31" x2="32" y2="101.31" stroke="#1e1e1e" stroke-width="1.0" />
<line x1="30.6" y1="99.98" x2="32" y2="99.98" stroke="#1e1e1e" stroke-width="1.0" />
<line x1="30.6" y1="98.84" x2="32" y2="98.84" stroke="#1e1e1e" stroke-width="1.0" />
<line x1="30.6" y1="97.83" x2="32" y2="97.83" stroke="#1e1e1e" stroke-width="1.0" />
<line x1="30.6" y1="96.92" x2="33.4" y2="96.92" stroke="#1e1e1e" stroke-width="1.0" />
<line x1="30.6" y1="90.97" x2="32" y2="90.97" stroke="#1e1e1e" stroke-width="1.0" />
<line x1="30.6" y1="87.48" x2="32" y2="87.48" stroke="#1e1e1e" stroke-width="1.0" />
<line x1="30.6" y1="85.01" x2="32" y2="85.01" stroke="#1e1e1e" stroke-width="1.0" />
<line x1="30.6" y1="83.09" x2="32" y2="83.09" stroke="#1e1e1e" stroke-width="1.0" />
<line x1="30.6" y1="81.53" x2="32" y2="81.53" stroke="#1e1e1e" stroke-width="1.0" />
<line x1="30.6" y1="80.2" x2="32" y2="80.2" stroke="#1e1e1e" stroke-width="1.0" />
<line x1="30.6" y1="79.06" x2="32" y2="79.06" stroke="#1e1e1e" stroke-width="1.0" />
<line x1="30.6" y1="78.05" x2="32" y2="78.05" stroke="#1e1e1e" stroke-width="1.0" />
<line x1="30.6" y1="77.14" x2="33.4" y2="77.14" stroke="#1e1e1e" stroke-width="1.0" />
<line x1="30.6" y1="71.19" x2="32" y2="71.19" stroke="#1e1e1e" stroke-width="1.0" />
<line x1="30.6" y1="67.7" x2="32" y2="67.7" stroke="#1e1e1e" stroke-width="1.0" />
<line x1="30.6" y1="65.23" x2="32" y2="65.23" stroke="#1e1e1e" stroke-width="1.0" />
<line x1="30.6" y1="63.31" x2="32" y2="63.31" stroke="#1e1e1e" stroke-width="1.0" />
<line x1="30.6" y1="61.75" x2="32" y2="61.75" stroke="#1e1e1e" stroke-width="1.0" />
<line x1="30.6" y1="60.42" x2="32" y2="60.42" stroke="#1e1e1e" stroke-width="1.0" />
<line x1="30.6" y1="59.28" x2="32" y2="59.28" stroke="#1e1e1e" stroke-width="1.0" />
<line x1="30.6" y1="58.27" x2="32" y2="58.27" stroke="#1e1e1e" stroke-width="1.0" />
<line x1="30.6" y1="57.36" x2="33.4" y2="57.36" stroke="#1e1e1e" stroke-width="1.0" />
<line x1="30.6" y1="51.41" x2="32" y2="51.41" stroke="#1e1e1e" stroke-width="1.0" />
<line x1="30.6" y1="47.92" x2="32" y2="47.92" stroke="#1e1e1e" stroke-width="1.0" />
<line x1="30.6" y1="45.45" x2="32" y2="45.45" stroke="#1e1e1e" stroke-width="1.0" />
<line x1="30.6" y1="43.53" x2="32" y2="43.53" stroke="#1e1e1e" stroke-width="1.0" />
<line x1="30.6" y1="41.97" x2="32" y2="41.97" stroke="#1e1e1e" stroke-width="1.0" />
<line x1="30.6" y1="40.64" x2="32" y2="40.64" stroke="#1e1e1e" stroke-width="1.0" />
<line x1="30.6" y1="39.5" x2="32" y2="39.5" stroke="#1e1e1e" stroke-width="1.0" />
<line x1="30.6" y1="38.49" x2="32" y2="38.49" stroke="#1e1e1e" stroke-width="1.0" />
<line x1="30.6" y1="37.58" x2="33.4" y2="37.58" stroke="#1e1e1e" stroke-width="1.0" />
<line x1="30.6" y1="31.63" x2="32" y2="31.63" stroke="#1e1e1e" stroke-width="1.0" />
<line x1="30.6" y1="28.14" x2="32" y2="28.14" stroke="#1e1e1e" stroke-width="1.0" />
<line x1="30.6" y1="25.67" x2="32" y2="25.67" stroke="#1e1e1e" stroke-width="1.0" />
<line x1="30.6" y1="23.75" x2="32" y2="23.75" stroke="#1e1e1e" stroke-width="1.0" />
<line x1="30.6" y1="22.19" x2="32" y2="22.19" stroke="#1e1e1e" stroke-width="1.0" />
<line x1="30.6" y1="20.86" x2="32" y2="20.86" stroke="#1e1e1e" stroke-width="1.0" />
<line x1="30.6" y1="19.72" x2="32" y2="19.72" stroke="#1e1e1e" stroke-width="1.0" />
<line x1="30.6" y1="18.71" x2="32" y2="18.71" stroke="#1e1e1e" stroke-width="1.0" />
<line x1="30.6" y1="17.8" x2="33.4" y2="17.8" stroke="#1e1e1e" stroke-width="1.0" />
<line x1="30.6" y1="11.85" x2="32" y2="11.85" stroke="#1e1e1e" stroke-width="1.0" />
<line x1="30.6" y1="8.36" x2="32" y2="8.36" stroke="#1e1e1e" stroke-width="1.0" />
<line x1="30.6" y1="5.89" x2="32" y2="5.89" stroke="#1e1e1e" stroke-width="1.0" />
<line x1="30.6" y1="3.97" x2="32" y2="3.97" stroke="#1e1e1e" stroke-width="1.0" />
<line x1="31.78" y1="142.2" x2="31.78" y2="140.8" stroke="#1e1e1e" stroke-width="1.0" />
<line x1="35.3" y1="142.2" x2="35.3" y2="140.8" stroke="#1e1e1e" stroke-width="1.0" />
<line x1="38.82" y1="142.2" x2="38.82" y2="140.8" stroke="#1e1e1e" stroke-width="1.0" />
<line x1="42.34" y1="142.2" x2="42.34" y2="140.8" stroke="#1e1e1e" stroke-width="1.0" />
<line x1="45.86" y1="142.2" x2="45.86" y2="140.8" stroke="#1e1e1e" stroke-width="1.0" />
<line x1="49.38" y1="142.2" x2="49.38" y2="140.8" stroke="#1e1e1e" stroke-width="1.0" />
<line x1="52.9" y1="142.2" x2="52.9" y2="140.8" stroke="#1e1e1e" stroke-width="1.0" />
<line x1="56.42" y1="142.2" x2="56.42" y2="140.8" stroke="#1e1e1e" stroke-width="1.0" />
<line x1="59.94" y1="142.2" x2="59.94" y2="140.8" stroke="#1e1e1e" stroke-width="1.0" />
<line x1="63.46" y1="142.2" x2="63.46" y2="140.8" stroke="#1e1e1e" stroke-width="1.0" />
<line x1="66.98" y1="142.2" x2="66.98" y2="140.8" stroke="#1e1e1e" stroke-width="1.0" />
<line x1="70.5" y1="142.2" x2="70.5" y2="140.8" stroke="#1e1e1e" stroke-width="1.0" />
<line x1="74.02" y1="142.2" x2="74.02" y2="140.8" stroke="#1e1e1e" stroke-width="1.0" />
<line x1="77.54" y1="142.2" x2="77.54" y2="140.8" stroke="#1e1e1e" stroke-width="1.0" />
<line x1="81.06" y1="142.2" x2="81.06" y2="140.8" stroke="#1e1e1e" stroke-width="1.0" />
<line x1="84.58" y1="142.2" x2="84.58" y2="140.8" stroke="#1e1e1e" stroke-width="1.0" />
<line x1="88.1" y1="142.2" x2="88.1" y2="140.8" stroke="#1e1e1e" stroke-width="1.0" />
<line x1="91.62" y1="142.2" x2="91.62" y2="140.8" stroke="#1e1e1e" stroke-width="1.0" />
<line x1="95.14" y1="142.2" x2="95.14" y2="140.8" stroke="#1e1e1e" stroke-width="1.0" />
<line x1="98.66" y1="142.2" x2="98.66" y2="140.8" stroke="#1e1e1e" stroke-width="1.0" />
<line x1="102.18" y1="142.2" x2="102.18" y2="140.8" stroke="#1e1e1e" stroke-width="1.0" />
<line x1="105.7" y1="142.2" x2="105.7" y2="140.8" stroke="#1e1e1e" stroke-width="1.0" />
<line x1="109.22" y1="142.2" x2="109.22" y2="140.8" stroke="#1e1e1e" stroke-width="1.0" />
<line x1="112.74" y1="142.2" x2="112.74" y2="140.8" stroke="#1e1e1e" stroke-width="1.0" />
<line x1="116.26" y1="142.2" x2="116.26" y2="140.8" stroke="#1e1e1e" stroke-width="1.0" />
<line x1="119.78" y1="142.2" x2="119.78" y2="140.8" stroke="#1e1e1e" stroke-width="1.0" />
<line x1="123.3" y1="142.2" x2="123.3" y2="140.8" stroke="#1e1e1e" stroke-width="1.0" />
<line x1="126.82" y1="142.2" x2="126.82" y2="140.8" stroke="#1e1e1e" stroke-width="1.0" />
<line x1="130.34" y1="142.2" x2="130.34" y2="140.8" stroke="#1e1e1e" stroke-width="1.0" />
<line x1="133.86" y1="142.2" x2="133.86" y2="140.8" stroke="#1e1e1e" stroke-width="1.0" />
<line x1="137.38" y1="142.2" x2="137.38" y2="140.8" stroke="#1e1e1e" stroke-width="1.0" />
<line x1="140.9" y1="142.2" x2="140.9" y2="140.8" stroke="#1e1e1e" stroke-width="1.0" />
<line x1="144.42" y1="142.2" x2="144.42" y2="140.8" stroke="#1e1e1e" stroke-width="1.0" />
<line x1="147.94" y1="142.2" x2="147.94" y2="140.8" stroke="#1e1e1e" stroke-width="1.0" />
<line x1="151.46" y1="142.2" x2="151.46" y2="140.8" stroke="#1e1e1e" stroke-width="1.0" />
<line x1="154.98" y1="142.2" x2="154.98" y2="140.8" stroke="#1e1e1e" stroke-width="1.0" />
<line x1="158.5" y1="142.2" x2="158.5" y2="140.8" stroke="#1e1e1e" stroke-width="1.0" />
<line x1="162.02" y1="142.2" x2="162.02" y2="140.8" stroke="#1e1e1e" stroke-width="1.0" />
<line x1="165.54" y1="142.2" x2="165.54" y2="140.8" stroke="#1e1e1e" stroke-width="1.0" />
<line x1="169.06" y1="142.2" x2="169.06" y2="140.8" stroke="#1e1e1e" stroke-width="1.0" />
<line x1="172.58" y1="142.2" x2="172.58" y2="140.8" stroke="#1e1e1e" stroke-width="1.0" />
<line x1="176.1" y1="142.2" x2="176.1" y2="140.8" stroke="#1e1e1e" stroke-width="1.0" />
<line x1="179.62" y1="142.2" x2="179.62" y2="140.8" stroke="#1e1e1e" stroke-width="1.0" />
<line x1="183.14" y1="142.2" x2="183.14" y2="140.8" stroke="#1e1e1e" stroke-width="1.0" />
<line x1="186.66" y1="142.2" x2="186.66" y2="140.8" stroke="#1e1e1e" stroke-width="1.0" />
<line x1="190.18" y1="142.2" x2="190.18" y2="140.8" stroke="#1e1e1e" stroke-width="1.0" />
<line x1="193.7" y1="142.2" x2="193.7" y2="140.8" stroke="#1e1e1e" stroke-width="1.0" />
<line x1="197.22" y1="142.2" x2="197.22" y2="140.8" stroke="#1e1e1e" stroke-width="1.0" />
<line x1="200.74" y1="142.2" x2="200.74" y2="140.8" stroke="#1e1e1e" stroke-width="1.0" />
<line x1="204.26" y1="142.2" x2="204.26" y2="140.8" stroke="#1e1e1e" stroke-width="1.0" />
<line x1="207.78" y1="142.2" x2="207.78" y2="140.8" stroke="#1e1e1e" stroke-width="1.0" />
<line x1="211.3" y1="142.2" x2="211.3" y2="140.8" stroke="#1e1e1e" stroke-width="1.0" />
<line x1="214.82" y1="142.2" x2="214.82" y2="140.8" stroke="#1e1e1e" stroke-width="1.0" />
<line x1="35.3" y1="142.2" x2="35.3" y2="139.4" stroke="#1e1e1e" stroke-width="1.0" />
<line x1="52.9" y1="142.2" x2="52.9" y2="139.4" stroke="#1e1e1e" stroke-width="1.0" />
<line x1="70.5" y1="142.2" x2="70.5" y2="139.4" stroke="#1e1e1e" stroke-width="1.0" />
<line x1="88.1" y1="142.2" x2="88.1" y2="139.4" stroke="#1e1e1e" stroke-width="1.0" />
<line x1="105.7" y1="142.2" x2="105.7" y2="139.4" stroke="#1e1e1e" stroke-width="1.0" />
<line x1="123.3" y1="142.2" x2="123.3" y2="139.4" stroke="#1e1e1e" stroke-width="1.0" />
<line x1="140.9" y1="142.2" x2="140.9" y2="139.4" stroke="#1e1e1e" stroke-width="1.0" />
<line x1="158.5" y1="142.2" x2="158.5" y2="139.4" stroke="#1e1e1e" stroke-width="1.0" />
<line x1="176.1" y1="142.2" x2="176.1" y2="139.4" stroke="#1e1e1e" stroke-width="1.0" />
<line x1="193.7" y1="142.2" x2="193.7" y2="139.4" stroke="#1e1e1e" stroke-width="1.0" />
<line x1="211.3" y1="142.2" x2="211.3" y2="139.4" stroke="#1e1e1e" stroke-width="1.0" />
<text x="27.6" y="21.11" font-size="9.8" text-anchor="end" fill="#111" stroke="#111" stroke-width="0.12">10<tspan font-size="5.88" dy="-3.9">-4</tspan></text>
<text x="27.6" y="40.89" font-size="9.8" text-anchor="end" fill="#111" stroke="#111" stroke-width="0.12">10<tspan font-size="5.88" dy="-3.9">-5</tspan></text>
<text x="27.6" y="60.67" font-size="9.8" text-anchor="end" fill="#111" stroke="#111" stroke-width="0.12">10<tspan font-size="5.88" dy="-3.9">-6</tspan></text>
<text x="27.6" y="80.45" font-size="9.8" text-anchor="end" fill="#111" stroke="#111" stroke-width="0.12">10<tspan font-size="5.88" dy="-3.9">-7</tspan></text>
<text x="27.6" y="100.23" font-size="9.8" text-anchor="end" fill="#111" stroke="#111" stroke-width="0.12">10<tspan font-size="5.88" dy="-3.9">-8</tspan></text>
<text x="27.6" y="120.01" font-size="9.8" text-anchor="end" fill="#111" stroke="#111" stroke-width="0.12">10<tspan font-size="5.88" dy="-3.9">-9</tspan></text>
<text x="27.6" y="139.79" font-size="9.8" text-anchor="end" fill="#111" stroke="#111" stroke-width="0.12">10<tspan font-size="5.88" dy="-3.9">-10</tspan></text>
<text x="27.6" y="8.91" font-size="9.8" text-anchor="end" fill="#111" stroke="#111" stroke-width="0.12">10<tspan font-size="5.88" dy="-3.9">-3</tspan></text>
<text x="35.3" y="154.2" font-size="9.8" text-anchor="middle" fill="#111" stroke="#111" stroke-width="0.12" >10</text>
<text x="30.2" y="154.2" font-size="9.8" text-anchor="end" fill="#111" stroke="#111" stroke-width="0.12" >-</text>
<text x="52.9" y="154.2" font-size="9.8" text-anchor="middle" fill="#111" stroke="#111" stroke-width="0.12" >8</text>
<text x="50.25" y="154.2" font-size="9.8" text-anchor="end" fill="#111" stroke="#111" stroke-width="0.12" >-</text>
<text x="70.5" y="154.2" font-size="9.8" text-anchor="middle" fill="#111" stroke="#111" stroke-width="0.12" >6</text>
<text x="67.85" y="154.2" font-size="9.8" text-anchor="end" fill="#111" stroke="#111" stroke-width="0.12" >-</text>
<text x="88.1" y="154.2" font-size="9.8" text-anchor="middle" fill="#111" stroke="#111" stroke-width="0.12" >4</text>
<text x="85.45" y="154.2" font-size="9.8" text-anchor="end" fill="#111" stroke="#111" stroke-width="0.12" >-</text>
<text x="105.7" y="154.2" font-size="9.8" text-anchor="middle" fill="#111" stroke="#111" stroke-width="0.12" >2</text>
<text x="103.05" y="154.2" font-size="9.8" text-anchor="end" fill="#111" stroke="#111" stroke-width="0.12" >-</text>
<text x="123.3" y="154.2" font-size="9.8" text-anchor="middle" fill="#111" stroke="#111" stroke-width="0.12" >0</text>
<text x="140.9" y="154.2" font-size="9.8" text-anchor="middle" fill="#111" stroke="#111" stroke-width="0.12" >2</text>
<text x="158.5" y="154.2" font-size="9.8" text-anchor="middle" fill="#111" stroke="#111" stroke-width="0.12" >4</text>
<text x="176.1" y="154.2" font-size="9.8" text-anchor="middle" fill="#111" stroke="#111" stroke-width="0.12" >6</text>
<text x="193.7" y="154.2" font-size="9.8" text-anchor="middle" fill="#111" stroke="#111" stroke-width="0.12" >8</text>
<text x="211.3" y="154.2" font-size="9.8" text-anchor="middle" fill="#111" stroke="#111" stroke-width="0.12" >10</text>
<text x="124.9" y="163.7" font-size="10.85" text-anchor="middle" fill="#111" stroke="#111" stroke-width="0.12" >Voltage (V)</text>
<text x="0" y="0" font-size="10.7" text-anchor="middle" fill="#111" stroke="#111" stroke-width="0.12" transform="translate(10,71.7) rotate(-90)">Current density (A/cm<tspan font-size="6.5" dy="-3.6">2</tspan><tspan dy="3.6">)</tspan></text>
<text x="1.2" y="11.9" font-size="16.2" text-anchor="start" fill="#111" stroke="#111" stroke-width="0.45" >a</text>
<text x="104.2" y="12.7" font-size="9" text-anchor="start" fill="#111" stroke="#111" stroke-width="0.12" >50 µW/cm<tspan font-size="5.8" dy="-3.4">2</tspan></text>
<text x="162.3" y="12.7" font-size="9" text-anchor="start" fill="#111" stroke="#111" stroke-width="0.12" >Unit: nm</text>
<text x="213.2" y="71.6" font-size="9" text-anchor="end" fill="#111" stroke="#111" stroke-width="0.12" >Dark</text>
<line x1="148.1" y1="88.3" x2="161.9" y2="88.3" stroke="#3c7cf0" stroke-width="1.4" />
<text x="165.4" y="91.4" font-size="9" text-anchor="start" fill="#111" stroke="#111" stroke-width="0.12" >470</text>
<line x1="148.1" y1="97.55" x2="161.9" y2="97.55" stroke="#ff2a2a" stroke-width="1.4" />
<text x="165.4" y="100.65" font-size="9" text-anchor="start" fill="#111" stroke="#111" stroke-width="0.12" >450</text>
<line x1="148.1" y1="106.8" x2="161.9" y2="106.8" stroke="#6a6a6a" stroke-width="1.4" />
<text x="165.4" y="109.9" font-size="9" text-anchor="start" fill="#111" stroke="#111" stroke-width="0.12" >430</text>
<line x1="148.1" y1="116.05" x2="161.9" y2="116.05" stroke="#80d040" stroke-width="1.4" />
<text x="165.4" y="119.15" font-size="9" text-anchor="start" fill="#111" stroke="#111" stroke-width="0.12" >410</text>
<line x1="148.1" y1="125.3" x2="161.9" y2="125.3" stroke="#5c9ce0" stroke-width="1.4" />
<text x="165.4" y="128.4" font-size="9" text-anchor="start" fill="#111" stroke="#111" stroke-width="0.12" >390</text>
<line x1="148.1" y1="134.55" x2="161.9" y2="134.55" stroke="#ff6630" stroke-width="1.4" />
<text x="165.4" y="137.65" font-size="9" text-anchor="start" fill="#111" stroke="#111" stroke-width="0.12" >370</text>
<line x1="182.8" y1="88.3" x2="196.6" y2="88.3" stroke="#9ca040" stroke-width="1.4" />
<text x="200.1" y="91.4" font-size="9" text-anchor="start" fill="#111" stroke="#111" stroke-width="0.12" >350</text>
<line x1="182.8" y1="97.55" x2="196.6" y2="97.55" stroke="#8a5858" stroke-width="1.4" />
<text x="200.1" y="100.65" font-size="9" text-anchor="start" fill="#111" stroke="#111" stroke-width="0.12" >330</text>
<line x1="182.8" y1="106.8" x2="196.6" y2="106.8" stroke="#78e4d4" stroke-width="1.4" />
<text x="200.1" y="109.9" font-size="9" text-anchor="start" fill="#111" stroke="#111" stroke-width="0.12" >310</text>
<line x1="182.8" y1="116.05" x2="196.6" y2="116.05" stroke="#d8a840" stroke-width="1.4" />
<text x="200.1" y="119.15" font-size="9" text-anchor="start" fill="#111" stroke="#111" stroke-width="0.12" >290</text>
<line x1="182.8" y1="125.3" x2="196.6" y2="125.3" stroke="#b464f4" stroke-width="1.4" />
<text x="200.1" y="128.4" font-size="9" text-anchor="start" fill="#111" stroke="#111" stroke-width="0.12" >270</text>
<line x1="182.8" y1="134.55" x2="196.6" y2="134.55" stroke="#50c070" stroke-width="1.4" />
<text x="200.1" y="137.65" font-size="9" text-anchor="start" fill="#111" stroke="#111" stroke-width="0.12" >250</text>
<g clip-path="url(#cb)">
<polyline points="279.92,11.2 280.8,11.44 281.68,11.69 282.56,11.94 283.44,12.2 284.32,12.45 285.2,12.71 286.08,12.97 286.96,13.24 287.84,13.51 288.72,13.78 289.6,14.05 290.48,14.33 291.36,14.61 292.24,14.9 293.12,15.19 294,15.48 294.88,15.78 295.76,16.08 296.64,16.39 297.52,16.7 298.4,17.01 299.28,17.33 300.16,17.65 301.04,17.98 301.92,18.31 302.8,18.65 303.68,19 304.56,19.34 305.44,19.7 306.32,20.06 307.2,20.43 308.08,20.8 308.96,21.18 309.84,21.56 310.72,21.95 311.6,22.35 312.48,22.76 313.36,23.17 314.24,23.59 315.12,24.03 316,24.46 316.88,24.91 317.76,25.37 318.64,25.83 319.52,26.31 320.4,26.8 321.28,27.3 322.16,27.8 323.04,28.33 323.92,28.86 324.8,29.41 325.68,29.97 326.56,30.54 327.44,31.13 328.32,31.74 329.2,32.36 330.08,33.01 330.96,33.67 331.84,34.35 332.72,35.05 333.6,35.78 334.48,36.53 335.36,37.31 336.24,38.11 337.12,38.95 338,39.82 338.88,40.72 339.76,41.66 340.64,42.65 341.52,43.68 342.4,44.76 343.28,45.89 344.16,47.09 345.04,48.36 345.92,49.7 346.8,51.13 347.68,52.66 348.56,54.3 349.44,56.07 350.32,58 351.2,60.11 352.08,62.44 352.96,65.05 353.84,68.01 354.72,71.43 355.6,75.46 356.48,80.41 357.36,86.78 358.24,95.27 359.12,100.64 360,104 360.88,102.61 361.76,102.61 362.64,99.47 363.52,94.33 364.4,86.04 365.28,80.01 366.16,75.28 367.04,71.39 367.92,68.07 368.8,65.19 369.68,62.64 370.56,60.36 371.44,58.29 372.32,56.39 373.2,54.65 374.08,53.03 374.96,51.52 375.84,50.11 376.72,48.79 377.6,47.53 378.48,46.35 379.36,45.22 380.24,44.15 381.12,43.13 382,42.16 382.88,41.22 383.76,40.33 384.64,39.46 385.52,38.63 386.4,37.83 387.28,37.06 388.16,36.32 389.04,35.6 389.92,34.9 390.8,34.22 391.68,33.56 392.56,32.92 393.44,32.3 394.32,31.7 395.2,31.11 396.08,30.54 396.96,29.98 397.84,29.44 398.72,28.91 399.6,28.39 400.48,27.88 401.36,27.39 402.24,26.9 403.12,26.43 404,25.96 404.88,25.51 405.76,25.06 406.64,24.62 407.52,24.2 408.4,23.78 409.28,23.36 410.16,22.96 411.04,22.56 411.92,22.17 412.8,21.79 413.68,21.41 414.56,21.04 415.44,20.67 416.32,20.31 417.2,19.96 418.08,19.61 418.96,19.27 419.84,18.93 420.72,18.6 421.6,18.27 422.48,17.95 423.36,17.63 424.24,17.32 425.12,17.01 426,16.71 426.88,16.41 427.76,16.11 428.64,15.82 429.52,15.53 430.4,15.24 431.28,14.96 432.16,14.68 433.04,14.41 433.92,14.14 434.8,13.87 435.68,13.61 436.56,13.35 437.44,13.09 438.32,12.83 439.2,12.58 440.08,12.33 440.96,12.08 441.84,11.84 442.72,11.6 443.6,11.36 444.48,11.12 445.36,10.89 446.24,10.66 447.12,10.43 448,10.2" fill="none" stroke="#b8a078" stroke-width="0.95" stroke-linejoin="round" />
<polyline points="279.92,11.1 280.8,11.34 281.68,11.59 282.56,11.84 283.44,12.1 284.32,12.35 285.2,12.61 286.08,12.87 286.96,13.14 287.84,13.41 288.72,13.68 289.6,13.95 290.48,14.23 291.36,14.51 292.24,14.8 293.12,15.09 294,15.38 294.88,15.68 295.76,15.98 296.64,16.29 297.52,16.6 298.4,16.91 299.28,17.23 300.16,17.55 301.04,17.88 301.92,18.21 302.8,18.55 303.68,18.9 304.56,19.24 305.44,19.6 306.32,19.96 307.2,20.33 308.08,20.7 308.96,21.08 309.84,21.46 310.72,21.85 311.6,22.25 312.48,22.66 313.36,23.07 314.24,23.49 315.12,23.93 316,24.36 316.88,24.81 317.76,25.27 318.64,25.73 319.52,26.21 320.4,26.7 321.28,27.2 322.16,27.7 323.04,28.23 323.92,28.76 324.8,29.31 325.68,29.87 326.56,30.44 327.44,31.03 328.32,31.64 329.2,32.26 330.08,32.91 330.96,33.57 331.84,34.25 332.72,34.95 333.6,35.68 334.48,36.43 335.36,37.21 336.24,38.01 337.12,38.85 338,39.72 338.88,40.62 339.76,41.56 340.64,42.55 341.52,43.58 342.4,44.66 343.28,45.79 344.16,46.99 345.04,48.26 345.92,49.6 346.8,51.03 347.68,52.56 348.56,54.2 349.44,55.97 350.32,57.9 351.2,60.01 352.08,62.34 352.96,64.95 353.84,67.91 354.72,71.33 355.6,75.36 356.48,80.31 357.36,86.68 358.24,95.23 359.12,100.6 360,105.2 360.88,102.57 361.76,102.57 362.64,99.43 363.52,94.23 364.4,85.94 365.28,79.91 366.16,75.18 367.04,71.29 367.92,67.97 368.8,65.09 369.68,62.54 370.56,60.26 371.44,58.19 372.32,56.29 373.2,54.55 374.08,52.93 374.96,51.42 375.84,50.01 376.72,48.69 377.6,47.43 378.48,46.25 379.36,45.12 380.24,44.05 381.12,43.03 382,42.06 382.88,41.12 383.76,40.23 384.64,39.36 385.52,38.53 386.4,37.73 387.28,36.96 388.16,36.22 389.04,35.5 389.92,34.8 390.8,34.12 391.68,33.46 392.56,32.82 393.44,32.2 394.32,31.6 395.2,31.01 396.08,30.44 396.96,29.88 397.84,29.34 398.72,28.81 399.6,28.29 400.48,27.78 401.36,27.29 402.24,26.8 403.12,26.33 404,25.86 404.88,25.41 405.76,24.96 406.64,24.52 407.52,24.1 408.4,23.68 409.28,23.26 410.16,22.86 411.04,22.46 411.92,22.07 412.8,21.69 413.68,21.31 414.56,20.94 415.44,20.57 416.32,20.21 417.2,19.86 418.08,19.51 418.96,19.17 419.84,18.83 420.72,18.5 421.6,18.17 422.48,17.85 423.36,17.53 424.24,17.22 425.12,16.91 426,16.61 426.88,16.31 427.76,16.01 428.64,15.72 429.52,15.43 430.4,15.14 431.28,14.86 432.16,14.58 433.04,14.31 433.92,14.04 434.8,13.77 435.68,13.51 436.56,13.25 437.44,12.99 438.32,12.73 439.2,12.48 440.08,12.23 440.96,11.98 441.84,11.74 442.72,11.5 443.6,11.26 444.48,11.02 445.36,10.79 446.24,10.56 447.12,10.33 448,10.1" fill="none" stroke="#e03030" stroke-width="0.95" stroke-linejoin="round" />
<polyline points="279.92,11 280.8,11.24 281.68,11.49 282.56,11.74 283.44,12 284.32,12.25 285.2,12.51 286.08,12.77 286.96,13.04 287.84,13.31 288.72,13.58 289.6,13.85 290.48,14.13 291.36,14.41 292.24,14.7 293.12,14.99 294,15.28 294.88,15.58 295.76,15.88 296.64,16.19 297.52,16.5 298.4,16.81 299.28,17.13 300.16,17.45 301.04,17.78 301.92,18.11 302.8,18.45 303.68,18.8 304.56,19.14 305.44,19.5 306.32,19.86 307.2,20.23 308.08,20.6 308.96,20.98 309.84,21.36 310.72,21.75 311.6,22.15 312.48,22.56 313.36,22.97 314.24,23.39 315.12,23.83 316,24.26 316.88,24.71 317.76,25.17 318.64,25.63 319.52,26.11 320.4,26.6 321.28,27.1 322.16,27.6 323.04,28.13 323.92,28.66 324.8,29.21 325.68,29.77 326.56,30.34 327.44,30.93 328.32,31.54 329.2,32.16 330.08,32.81 330.96,33.47 331.84,34.15 332.72,34.85 333.6,35.58 334.48,36.33 335.36,37.11 336.24,37.91 337.12,38.75 338,39.62 338.88,40.52 339.76,41.46 340.64,42.45 341.52,43.48 342.4,44.56 343.28,45.69 344.16,46.89 345.04,48.16 345.92,49.5 346.8,50.93 347.68,52.46 348.56,54.1 349.44,55.87 350.32,57.8 351.2,59.91 352.08,62.24 352.96,64.85 353.84,67.81 354.72,71.23 355.6,75.26 356.48,80.21 357.36,86.58 358.24,95.2 359.12,100.57 360,106.4 360.88,102.54 361.76,102.54 362.64,99.4 363.52,94.13 364.4,85.84 365.28,79.81 366.16,75.08 367.04,71.19 367.92,67.87 368.8,64.99 369.68,62.44 370.56,60.16 371.44,58.09 372.32,56.19 373.2,54.45 374.08,52.83 374.96,51.32 375.84,49.91 376.72,48.59 377.6,47.33 378.48,46.15 379.36,45.02 380.24,43.95 381.12,42.93 382,41.96 382.88,41.02 383.76,40.13 384.64,39.26 385.52,38.43 386.4,37.63 387.28,36.86 388.16,36.12 389.04,35.4 389.92,34.7 390.8,34.02 391.68,33.36 392.56,32.72 393.44,32.1 394.32,31.5 395.2,30.91 396.08,30.34 396.96,29.78 397.84,29.24 398.72,28.71 399.6,28.19 400.48,27.68 401.36,27.19 402.24,26.7 403.12,26.23 404,25.76 404.88,25.31 405.76,24.86 406.64,24.42 407.52,24 408.4,23.58 409.28,23.16 410.16,22.76 411.04,22.36 411.92,21.97 412.8,21.59 413.68,21.21 414.56,20.84 415.44,20.47 416.32,20.11 417.2,19.76 418.08,19.41 418.96,19.07 419.84,18.73 420.72,18.4 421.6,18.07 422.48,17.75 423.36,17.43 424.24,17.12 425.12,16.81 426,16.51 426.88,16.21 427.76,15.91 428.64,15.62 429.52,15.33 430.4,15.04 431.28,14.76 432.16,14.48 433.04,14.21 433.92,13.94 434.8,13.67 435.68,13.41 436.56,13.15 437.44,12.89 438.32,12.63 439.2,12.38 440.08,12.13 440.96,11.88 441.84,11.64 442.72,11.4 443.6,11.16 444.48,10.92 445.36,10.69 446.24,10.46 447.12,10.23 448,10" fill="none" stroke="#5a3cff" stroke-width="0.95" stroke-linejoin="round" />
<polyline points="279.92,11.7 280.8,11.94 281.68,12.19 282.56,12.44 283.44,12.7 284.32,12.95 285.2,13.21 286.08,13.47 286.96,13.74 287.84,14.01 288.72,14.28 289.6,14.55 290.48,14.83 291.36,15.11 292.24,15.4 293.12,15.69 294,15.98 294.88,16.28 295.76,16.58 296.64,16.89 297.52,17.2 298.4,17.51 299.28,17.83 300.16,18.15 301.04,18.48 301.92,18.81 302.8,19.15 303.68,19.5 304.56,19.84 305.44,20.2 306.32,20.56 307.2,20.93 308.08,21.3 308.96,21.68 309.84,22.06 310.72,22.45 311.6,22.85 312.48,23.26 313.36,23.67 314.24,24.09 315.12,24.53 316,24.96 316.88,25.41 317.76,25.87 318.64,26.33 319.52,26.81 320.4,27.3 321.28,27.8 322.16,28.3 323.04,28.83 323.92,29.36 324.8,29.91 325.68,30.47 326.56,31.04 327.44,31.63 328.32,32.24 329.2,32.86 330.08,33.51 330.96,34.17 331.84,34.85 332.72,35.55 333.6,36.28 334.48,37.03 335.36,37.81 336.24,38.61 337.12,39.45 338,40.32 338.88,41.22 339.76,42.16 340.64,43.15 341.52,44.18 342.4,45.26 343.28,46.39 344.16,47.59 345.04,48.86 345.92,50.2 346.8,51.63 347.68,53.16 348.56,54.8 349.44,56.57 350.32,58.5 351.2,60.61 352.08,62.94 352.96,65.55 353.84,68.51 354.72,71.93 355.6,75.96 356.48,80.91 357.36,87.28 358.24,95.44 359.12,100.81 360,107.6 360.88,102.78 361.76,102.78 362.64,99.64 363.52,94.83 364.4,86.54 365.28,80.51 366.16,75.78 367.04,71.89 367.92,68.57 368.8,65.69 369.68,63.14 370.56,60.86 371.44,58.79 372.32,56.89 373.2,55.15 374.08,53.53 374.96,52.02 375.84,50.61 376.72,49.29 377.6,48.03 378.48,46.85 379.36,45.72 380.24,44.65 381.12,43.63 382,42.66 382.88,41.72 383.76,40.83 384.64,39.96 385.52,39.13 386.4,38.33 387.28,37.56 388.16,36.82 389.04,36.1 389.92,35.4 390.8,34.72 391.68,34.06 392.56,33.42 393.44,32.8 394.32,32.2 395.2,31.61 396.08,31.04 396.96,30.48 397.84,29.94 398.72,29.41 399.6,28.89 400.48,28.38 401.36,27.89 402.24,27.4 403.12,26.93 404,26.46 404.88,26.01 405.76,25.56 406.64,25.12 407.52,24.7 408.4,24.28 409.28,23.86 410.16,23.46 411.04,23.06 411.92,22.67 412.8,22.29 413.68,21.91 414.56,21.54 415.44,21.17 416.32,20.81 417.2,20.46 418.08,20.11 418.96,19.77 419.84,19.43 420.72,19.1 421.6,18.77 422.48,18.45 423.36,18.13 424.24,17.82 425.12,17.51 426,17.21 426.88,16.91 427.76,16.61 428.64,16.32 429.52,16.03 430.4,15.74 431.28,15.46 432.16,15.18 433.04,14.91 433.92,14.64 434.8,14.37 435.68,14.11 436.56,13.85 437.44,13.59 438.32,13.33 439.2,13.08 440.08,12.83 440.96,12.58 441.84,12.34 442.72,12.1 443.6,11.86 444.48,11.62 445.36,11.39 446.24,11.16 447.12,10.93 448,10.7" fill="none" stroke="#e020e0" stroke-width="0.95" stroke-linejoin="round" />
<polyline points="279.92,12.8 280.8,13.04 281.68,13.29 282.56,13.54 283.44,13.8 284.32,14.05 285.2,14.31 286.08,14.57 286.96,14.84 287.84,15.11 288.72,15.38 289.6,15.65 290.48,15.93 291.36,16.21 292.24,16.5 293.12,16.79 294,17.08 294.88,17.38 295.76,17.68 296.64,17.99 297.52,18.3 298.4,18.61 299.28,18.93 300.16,19.25 301.04,19.58 301.92,19.91 302.8,20.25 303.68,20.6 304.56,20.94 305.44,21.3 306.32,21.66 307.2,22.03 308.08,22.4 308.96,22.78 309.84,23.16 310.72,23.55 311.6,23.95 312.48,24.36 313.36,24.77 314.24,25.19 315.12,25.63 316,26.06 316.88,26.51 317.76,26.97 318.64,27.43 319.52,27.91 320.4,28.4 321.28,28.9 322.16,29.4 323.04,29.93 323.92,30.46 324.8,31.01 325.68,31.57 326.56,32.14 327.44,32.73 328.32,33.34 329.2,33.96 330.08,34.61 330.96,35.27 331.84,35.95 332.72,36.65 333.6,37.38 334.48,38.13 335.36,38.91 336.24,39.71 337.12,40.55 338,41.42 338.88,42.32 339.76,43.26 340.64,44.25 341.52,45.28 342.4,46.36 343.28,47.49 344.16,48.69 345.04,49.96 345.92,51.3 346.8,52.73 347.68,54.26 348.56,55.9 349.44,57.67 350.32,59.6 351.2,61.71 352.08,64.04 352.96,66.65 353.84,69.61 354.72,73.03 355.6,77.06 356.48,82.01 357.36,88.38 358.24,95.83 359.12,101.2 360,108.8 360.88,103.2 361.76,103.2 362.64,100.06 363.52,95.36 364.4,87.74 365.28,81.71 366.16,76.98 367.04,73.09 367.92,69.77 368.8,66.89 369.68,64.34 370.56,62.06 371.44,59.99 372.32,58.09 373.2,56.35 374.08,54.73 374.96,53.22 375.84,51.81 376.72,50.49 377.6,49.23 378.48,48.05 379.36,46.92 380.24,45.85 381.12,44.83 382,43.86 382.88,42.92 383.76,42.03 384.64,41.16 385.52,40.33 386.4,39.53 387.28,38.76 388.16,38.02 389.04,37.3 389.92,36.6 390.8,35.92 391.68,35.26 392.56,34.62 393.44,34 394.32,33.4 395.2,32.81 396.08,32.24 396.96,31.68 397.84,31.14 398.72,30.61 399.6,30.09 400.48,29.58 401.36,29.09 402.24,28.6 403.12,28.13 404,27.66 404.88,27.21 405.76,26.76 406.64,26.32 407.52,25.9 408.4,25.48 409.28,25.06 410.16,24.66 411.04,24.26 411.92,23.87 412.8,23.49 413.68,23.11 414.56,22.74 415.44,22.37 416.32,22.01 417.2,21.66 418.08,21.31 418.96,20.97 419.84,20.63 420.72,20.3 421.6,19.97 422.48,19.65 423.36,19.33 424.24,19.02 425.12,18.71 426,18.41 426.88,18.11 427.76,17.81 428.64,17.52 429.52,17.23 430.4,16.94 431.28,16.66 432.16,16.38 433.04,16.11 433.92,15.84 434.8,15.57 435.68,15.31 436.56,15.05 437.44,14.79 438.32,14.53 439.2,14.28 440.08,14.03 440.96,13.78 441.84,13.54 442.72,13.3 443.6,13.06 444.48,12.82 445.36,12.59 446.24,12.36 447.12,12.13 448,11.9" fill="none" stroke="#2a7a2a" stroke-width="0.95" stroke-linejoin="round" />
<polyline points="279.92,14.2 280.8,14.44 281.68,14.69 282.56,14.94 283.44,15.2 284.32,15.45 285.2,15.71 286.08,15.97 286.96,16.24 287.84,16.51 288.72,16.78 289.6,17.05 290.48,17.33 291.36,17.61 292.24,17.9 293.12,18.19 294,18.48 294.88,18.78 295.76,19.08 296.64,19.39 297.52,19.7 298.4,20.01 299.28,20.33 300.16,20.65 301.04,20.98 301.92,21.31 302.8,21.65 303.68,22 304.56,22.34 305.44,22.7 306.32,23.06 307.2,23.43 308.08,23.8 308.96,24.18 309.84,24.56 310.72,24.95 311.6,25.35 312.48,25.76 313.36,26.17 314.24,26.59 315.12,27.03 316,27.46 316.88,27.91 317.76,28.37 318.64,28.83 319.52,29.31 320.4,29.8 321.28,30.3 322.16,30.8 323.04,31.33 323.92,31.86 324.8,32.41 325.68,32.97 326.56,33.54 327.44,34.13 328.32,34.74 329.2,35.36 330.08,36.01 330.96,36.67 331.84,37.35 332.72,38.05 333.6,38.78 334.48,39.53 335.36,40.31 336.24,41.11 337.12,41.95 338,42.82 338.88,43.72 339.76,44.66 340.64,45.65 341.52,46.68 342.4,47.76 343.28,48.89 344.16,50.09 345.04,51.36 345.92,52.7 346.8,54.13 347.68,55.66 348.56,57.3 349.44,59.07 350.32,61 351.2,63.11 352.08,65.44 352.96,68.05 353.84,71.01 354.72,74.43 355.6,78.46 356.48,83.41 357.36,89.78 358.24,96.32 359.12,101.69 360,110 360.88,103.66 361.76,103.66 362.64,100.52 363.52,95.82 364.4,89.04 365.28,83.01 366.16,78.28 367.04,74.39 367.92,71.07 368.8,68.19 369.68,65.64 370.56,63.36 371.44,61.29 372.32,59.39 373.2,57.65 374.08,56.03 374.96,54.52 375.84,53.11 376.72,51.79 377.6,50.53 378.48,49.35 379.36,48.22 380.24,47.15 381.12,46.13 382,45.16 382.88,44.22 383.76,43.33 384.64,42.46 385.52,41.63 386.4,40.83 387.28,40.06 388.16,39.32 389.04,38.6 389.92,37.9 390.8,37.22 391.68,36.56 392.56,35.92 393.44,35.3 394.32,34.7 395.2,34.11 396.08,33.54 396.96,32.98 397.84,32.44 398.72,31.91 399.6,31.39 400.48,30.88 401.36,30.39 402.24,29.9 403.12,29.43 404,28.96 404.88,28.51 405.76,28.06 406.64,27.62 407.52,27.2 408.4,26.78 409.28,26.36 410.16,25.96 411.04,25.56 411.92,25.17 412.8,24.79 413.68,24.41 414.56,24.04 415.44,23.67 416.32,23.31 417.2,22.96 418.08,22.61 418.96,22.27 419.84,21.93 420.72,21.6 421.6,21.27 422.48,20.95 423.36,20.63 424.24,20.32 425.12,20.01 426,19.71 426.88,19.41 427.76,19.11 428.64,18.82 429.52,18.53 430.4,18.24 431.28,17.96 432.16,17.68 433.04,17.41 433.92,17.14 434.8,16.87 435.68,16.61 436.56,16.35 437.44,16.09 438.32,15.83 439.2,15.58 440.08,15.33 440.96,15.08 441.84,14.84 442.72,14.6 443.6,14.36 444.48,14.12 445.36,13.89 446.24,13.66 447.12,13.43 448,13.2" fill="none" stroke="#1a1a80" stroke-width="0.95" stroke-linejoin="round" />
<polyline points="279.92,15.3 280.8,15.54 281.68,15.79 282.56,16.04 283.44,16.3 284.32,16.55 285.2,16.81 286.08,17.07 286.96,17.34 287.84,17.61 288.72,17.88 289.6,18.15 290.48,18.43 291.36,18.71 292.24,19 293.12,19.29 294,19.58 294.88,19.88 295.76,20.18 296.64,20.49 297.52,20.8 298.4,21.11 299.28,21.43 300.16,21.75 301.04,22.08 301.92,22.41 302.8,22.75 303.68,23.1 304.56,23.44 305.44,23.8 306.32,24.16 307.2,24.53 308.08,24.9 308.96,25.28 309.84,25.66 310.72,26.05 311.6,26.45 312.48,26.86 313.36,27.27 314.24,27.69 315.12,28.13 316,28.56 316.88,29.01 317.76,29.47 318.64,29.93 319.52,30.41 320.4,30.9 321.28,31.4 322.16,31.9 323.04,32.43 323.92,32.96 324.8,33.51 325.68,34.07 326.56,34.64 327.44,35.23 328.32,35.84 329.2,36.46 330.08,37.11 330.96,37.77 331.84,38.45 332.72,39.15 333.6,39.88 334.48,40.63 335.36,41.41 336.24,42.21 337.12,43.05 338,43.92 338.88,44.82 339.76,45.76 340.64,46.75 341.52,47.78 342.4,48.86 343.28,49.99 344.16,51.19 345.04,52.46 345.92,53.8 346.8,55.23 347.68,56.76 348.56,58.4 349.44,60.17 350.32,62.1 351.2,64.21 352.08,66.54 352.96,69.15 353.84,72.11 354.72,75.53 355.6,79.56 356.48,84.51 357.36,90.88 358.24,96.7 359.12,102.07 360,111.2 360.88,104.04 361.76,104.04 362.64,100.9 363.52,96.2 364.4,90.14 365.28,84.11 366.16,79.38 367.04,75.49 367.92,72.17 368.8,69.29 369.68,66.74 370.56,64.46 371.44,62.39 372.32,60.49 373.2,58.75 374.08,57.13 374.96,55.62 375.84,54.21 376.72,52.89 377.6,51.63 378.48,50.45 379.36,49.32 380.24,48.25 381.12,47.23 382,46.26 382.88,45.32 383.76,44.43 384.64,43.56 385.52,42.73 386.4,41.93 387.28,41.16 388.16,40.42 389.04,39.7 389.92,39 390.8,38.32 391.68,37.66 392.56,37.02 393.44,36.4 394.32,35.8 395.2,35.21 396.08,34.64 396.96,34.08 397.84,33.54 398.72,33.01 399.6,32.49 400.48,31.98 401.36,31.49 402.24,31 403.12,30.53 404,30.06 404.88,29.61 405.76,29.16 406.64,28.72 407.52,28.3 408.4,27.88 409.28,27.46 410.16,27.06 411.04,26.66 411.92,26.27 412.8,25.89 413.68,25.51 414.56,25.14 415.44,24.77 416.32,24.41 417.2,24.06 418.08,23.71 418.96,23.37 419.84,23.03 420.72,22.7 421.6,22.37 422.48,22.05 423.36,21.73 424.24,21.42 425.12,21.11 426,20.81 426.88,20.51 427.76,20.21 428.64,19.92 429.52,19.63 430.4,19.34 431.28,19.06 432.16,18.78 433.04,18.51 433.92,18.24 434.8,17.97 435.68,17.71 436.56,17.45 437.44,17.19 438.32,16.93 439.2,16.68 440.08,16.43 440.96,16.18 441.84,15.94 442.72,15.7 443.6,15.46 444.48,15.22 445.36,14.99 446.24,14.76 447.12,14.53 448,14.3" fill="none" stroke="#8a40ff" stroke-width="0.95" stroke-linejoin="round" />
<polyline points="279.92,16.4 280.8,16.64 281.68,16.89 282.56,17.14 283.44,17.4 284.32,17.65 285.2,17.91 286.08,18.17 286.96,18.44 287.84,18.71 288.72,18.98 289.6,19.25 290.48,19.53 291.36,19.81 292.24,20.1 293.12,20.39 294,20.68 294.88,20.98 295.76,21.28 296.64,21.59 297.52,21.9 298.4,22.21 299.28,22.53 300.16,22.85 301.04,23.18 301.92,23.51 302.8,23.85 303.68,24.2 304.56,24.54 305.44,24.9 306.32,25.26 307.2,25.63 308.08,26 308.96,26.38 309.84,26.76 310.72,27.15 311.6,27.55 312.48,27.96 313.36,28.37 314.24,28.79 315.12,29.23 316,29.66 316.88,30.11 317.76,30.57 318.64,31.03 319.52,31.51 320.4,32 321.28,32.5 322.16,33 323.04,33.53 323.92,34.06 324.8,34.61 325.68,35.17 326.56,35.74 327.44,36.33 328.32,36.94 329.2,37.56 330.08,38.21 330.96,38.87 331.84,39.55 332.72,40.25 333.6,40.98 334.48,41.73 335.36,42.51 336.24,43.31 337.12,44.15 338,45.02 338.88,45.92 339.76,46.86 340.64,47.85 341.52,48.88 342.4,49.96 343.28,51.09 344.16,52.29 345.04,53.56 345.92,54.9 346.8,56.33 347.68,57.86 348.56,59.5 349.44,61.27 350.32,63.2 351.2,65.31 352.08,67.64 352.96,70.25 353.84,73.21 354.72,76.63 355.6,80.66 356.48,85.61 357.36,91.98 358.24,97.09 359.12,102.46 360,112.4 360.88,104.39 361.76,104.39 362.64,101.25 363.52,96.55 364.4,91.14 365.28,85.11 366.16,80.38 367.04,76.49 367.92,73.17 368.8,70.29 369.68,67.74 370.56,65.46 371.44,63.39 372.32,61.49 373.2,59.75 374.08,58.13 374.96,56.62 375.84,55.21 376.72,53.89 377.6,52.63 378.48,51.45 379.36,50.32 380.24,49.25 381.12,48.23 382,47.26 382.88,46.32 383.76,45.43 384.64,44.56 385.52,43.73 386.4,42.93 387.28,42.16 388.16,41.42 389.04,40.7 389.92,40 390.8,39.32 391.68,38.66 392.56,38.02 393.44,37.4 394.32,36.8 395.2,36.21 396.08,35.64 396.96,35.08 397.84,34.54 398.72,34.01 399.6,33.49 400.48,32.98 401.36,32.49 402.24,32 403.12,31.53 404,31.06 404.88,30.61 405.76,30.16 406.64,29.72 407.52,29.3 408.4,28.88 409.28,28.46 410.16,28.06 411.04,27.66 411.92,27.27 412.8,26.89 413.68,26.51 414.56,26.14 415.44,25.77 416.32,25.41 417.2,25.06 418.08,24.71 418.96,24.37 419.84,24.03 420.72,23.7 421.6,23.37 422.48,23.05 423.36,22.73 424.24,22.42 425.12,22.11 426,21.81 426.88,21.51 427.76,21.21 428.64,20.92 429.52,20.63 430.4,20.34 431.28,20.06 432.16,19.78 433.04,19.51 433.92,19.24 434.8,18.97 435.68,18.71 436.56,18.45 437.44,18.19 438.32,17.93 439.2,17.68 440.08,17.43 440.96,17.18 441.84,16.94 442.72,16.7 443.6,16.46 444.48,16.22 445.36,15.99 446.24,15.76 447.12,15.53 448,15.3" fill="none" stroke="#7a30f0" stroke-width="0.95" stroke-linejoin="round" />
<polyline points="279.92,17.8 280.8,18.04 281.68,18.29 282.56,18.54 283.44,18.8 284.32,19.05 285.2,19.31 286.08,19.57 286.96,19.84 287.84,20.11 288.72,20.38 289.6,20.65 290.48,20.93 291.36,21.21 292.24,21.5 293.12,21.79 294,22.08 294.88,22.38 295.76,22.68 296.64,22.99 297.52,23.3 298.4,23.61 299.28,23.93 300.16,24.25 301.04,24.58 301.92,24.91 302.8,25.25 303.68,25.6 304.56,25.94 305.44,26.3 306.32,26.66 307.2,27.03 308.08,27.4 308.96,27.78 309.84,28.16 310.72,28.55 311.6,28.95 312.48,29.36 313.36,29.77 314.24,30.19 315.12,30.63 316,31.06 316.88,31.51 317.76,31.97 318.64,32.43 319.52,32.91 320.4,33.4 321.28,33.9 322.16,34.4 323.04,34.93 323.92,35.46 324.8,36.01 325.68,36.57 326.56,37.14 327.44,37.73 328.32,38.34 329.2,38.96 330.08,39.61 330.96,40.27 331.84,40.95 332.72,41.65 333.6,42.38 334.48,43.13 335.36,43.91 336.24,44.71 337.12,45.55 338,46.42 338.88,47.32 339.76,48.26 340.64,49.25 341.52,50.28 342.4,51.36 343.28,52.49 344.16,53.69 345.04,54.96 345.92,56.3 346.8,57.73 347.68,59.26 348.56,60.9 349.44,62.67 350.32,64.6 351.2,66.71 352.08,69.04 352.96,71.65 353.84,74.61 354.72,78.03 355.6,82.06 356.48,87.01 357.36,93.38 358.24,97.58 359.12,102.95 360,113.6 360.88,104.85 361.76,104.85 362.64,101.71 363.52,97.01 364.4,92.44 365.28,86.41 366.16,81.68 367.04,77.79 367.92,74.47 368.8,71.59 369.68,69.04 370.56,66.76 371.44,64.69 372.32,62.79 373.2,61.05 374.08,59.43 374.96,57.92 375.84,56.51 376.72,55.19 377.6,53.93 378.48,52.75 379.36,51.62 380.24,50.55 381.12,49.53 382,48.56 382.88,47.62 383.76,46.73 384.64,45.86 385.52,45.03 386.4,44.23 387.28,43.46 388.16,42.72 389.04,42 389.92,41.3 390.8,40.62 391.68,39.96 392.56,39.32 393.44,38.7 394.32,38.1 395.2,37.51 396.08,36.94 396.96,36.38 397.84,35.84 398.72,35.31 399.6,34.79 400.48,34.28 401.36,33.79 402.24,33.3 403.12,32.83 404,32.36 404.88,31.91 405.76,31.46 406.64,31.02 407.52,30.6 408.4,30.18 409.28,29.76 410.16,29.36 411.04,28.96 411.92,28.57 412.8,28.19 413.68,27.81 414.56,27.44 415.44,27.07 416.32,26.71 417.2,26.36 418.08,26.01 418.96,25.67 419.84,25.33 420.72,25 421.6,24.67 422.48,24.35 423.36,24.03 424.24,23.72 425.12,23.41 426,23.11 426.88,22.81 427.76,22.51 428.64,22.22 429.52,21.93 430.4,21.64 431.28,21.36 432.16,21.08 433.04,20.81 433.92,20.54 434.8,20.27 435.68,20.01 436.56,19.75 437.44,19.49 438.32,19.23 439.2,18.98 440.08,18.73 440.96,18.48 441.84,18.24 442.72,18 443.6,17.76 444.48,17.52 445.36,17.29 446.24,17.06 447.12,16.83 448,16.6" fill="none" stroke="#5a1a8a" stroke-width="0.95" stroke-linejoin="round" />
<polyline points="279.92,20.3 280.8,20.54 281.68,20.79 282.56,21.04 283.44,21.3 284.32,21.55 285.2,21.81 286.08,22.07 286.96,22.34 287.84,22.61 288.72,22.88 289.6,23.15 290.48,23.43 291.36,23.71 292.24,24 293.12,24.29 294,24.58 294.88,24.88 295.76,25.18 296.64,25.49 297.52,25.8 298.4,26.11 299.28,26.43 300.16,26.75 301.04,27.08 301.92,27.41 302.8,27.75 303.68,28.1 304.56,28.44 305.44,28.8 306.32,29.16 307.2,29.53 308.08,29.9 308.96,30.28 309.84,30.66 310.72,31.05 311.6,31.45 312.48,31.86 313.36,32.27 314.24,32.69 315.12,33.13 316,33.56 316.88,34.01 317.76,34.47 318.64,34.93 319.52,35.41 320.4,35.9 321.28,36.4 322.16,36.9 323.04,37.43 323.92,37.96 324.8,38.51 325.68,39.07 326.56,39.64 327.44,40.23 328.32,40.84 329.2,41.46 330.08,42.11 330.96,42.77 331.84,43.45 332.72,44.15 333.6,44.88 334.48,45.63 335.36,46.41 336.24,47.21 337.12,48.05 338,48.92 338.88,49.82 339.76,50.76 340.64,51.75 341.52,52.78 342.4,53.86 343.28,54.99 344.16,56.19 345.04,57.46 345.92,58.8 346.8,60.23 347.68,61.76 348.56,63.4 349.44,65.17 350.32,67.1 351.2,69.21 352.08,71.54 352.96,74.15 353.84,77.11 354.72,80.53 355.6,84.56 356.48,89.51 357.36,95.31 358.24,98.45 359.12,103.82 360,114.8 360.88,105.65 361.76,105.65 362.64,102.51 363.52,97.81 364.4,94.74 365.28,88.71 366.16,83.98 367.04,80.09 367.92,76.77 368.8,73.89 369.68,71.34 370.56,69.06 371.44,66.99 372.32,65.09 373.2,63.35 374.08,61.73 374.96,60.22 375.84,58.81 376.72,57.49 377.6,56.23 378.48,55.05 379.36,53.92 380.24,52.85 381.12,51.83 382,50.86 382.88,49.92 383.76,49.03 384.64,48.16 385.52,47.33 386.4,46.53 387.28,45.76 388.16,45.02 389.04,44.3 389.92,43.6 390.8,42.92 391.68,42.26 392.56,41.62 393.44,41 394.32,40.4 395.2,39.81 396.08,39.24 396.96,38.68 397.84,38.14 398.72,37.61 399.6,37.09 400.48,36.58 401.36,36.09 402.24,35.6 403.12,35.13 404,34.66 404.88,34.21 405.76,33.76 406.64,33.32 407.52,32.9 408.4,32.48 409.28,32.06 410.16,31.66 411.04,31.26 411.92,30.87 412.8,30.49 413.68,30.11 414.56,29.74 415.44,29.37 416.32,29.01 417.2,28.66 418.08,28.31 418.96,27.97 419.84,27.63 420.72,27.3 421.6,26.97 422.48,26.65 423.36,26.33 424.24,26.02 425.12,25.71 426,25.41 426.88,25.11 427.76,24.81 428.64,24.52 429.52,24.23 430.4,23.94 431.28,23.66 432.16,23.38 433.04,23.11 433.92,22.84 434.8,22.57 435.68,22.31 436.56,22.05 437.44,21.79 438.32,21.53 439.2,21.28 440.08,21.03 440.96,20.78 441.84,20.54 442.72,20.3 443.6,20.06 444.48,19.82 445.36,19.59 446.24,19.36 447.12,19.13 448,18.9" fill="none" stroke="#8c2c1c" stroke-width="0.95" stroke-linejoin="round" />
<polyline points="279.92,23.5 280.8,23.74 281.68,23.99 282.56,24.24 283.44,24.5 284.32,24.75 285.2,25.01 286.08,25.27 286.96,25.54 287.84,25.81 288.72,26.08 289.6,26.35 290.48,26.63 291.36,26.91 292.24,27.2 293.12,27.49 294,27.78 294.88,28.08 295.76,28.38 296.64,28.69 297.52,29 298.4,29.31 299.28,29.63 300.16,29.95 301.04,30.28 301.92,30.61 302.8,30.95 303.68,31.3 304.56,31.64 305.44,32 306.32,32.36 307.2,32.73 308.08,33.1 308.96,33.48 309.84,33.86 310.72,34.25 311.6,34.65 312.48,35.06 313.36,35.47 314.24,35.89 315.12,36.33 316,36.76 316.88,37.21 317.76,37.67 318.64,38.13 319.52,38.61 320.4,39.1 321.28,39.6 322.16,40.1 323.04,40.63 323.92,41.16 324.8,41.71 325.68,42.27 326.56,42.84 327.44,43.43 328.32,44.04 329.2,44.66 330.08,45.31 330.96,45.97 331.84,46.65 332.72,47.35 333.6,48.08 334.48,48.83 335.36,49.61 336.24,50.41 337.12,51.25 338,52.12 338.88,53.02 339.76,53.96 340.64,54.95 341.52,55.98 342.4,57.06 343.28,58.19 344.16,59.39 345.04,60.66 345.92,62 346.8,63.43 347.68,64.96 348.56,66.6 349.44,68.37 350.32,70.3 351.2,72.41 352.08,74.74 352.96,77.35 353.84,80.31 354.72,83.73 355.6,87.76 356.48,92.71 357.36,96.43 358.24,99.57 359.12,104.94 360,116 360.88,107.02 361.76,107.02 362.64,103.88 363.52,99.18 364.4,96.27 365.28,92.61 366.16,87.88 367.04,83.99 367.92,80.67 368.8,77.79 369.68,75.24 370.56,72.96 371.44,70.89 372.32,68.99 373.2,67.25 374.08,65.63 374.96,64.12 375.84,62.71 376.72,61.39 377.6,60.13 378.48,58.95 379.36,57.82 380.24,56.75 381.12,55.73 382,54.76 382.88,53.82 383.76,52.93 384.64,52.06 385.52,51.23 386.4,50.43 387.28,49.66 388.16,48.92 389.04,48.2 389.92,47.5 390.8,46.82 391.68,46.16 392.56,45.52 393.44,44.9 394.32,44.3 395.2,43.71 396.08,43.14 396.96,42.58 397.84,42.04 398.72,41.51 399.6,40.99 400.48,40.48 401.36,39.99 402.24,39.5 403.12,39.03 404,38.56 404.88,38.11 405.76,37.66 406.64,37.22 407.52,36.8 408.4,36.38 409.28,35.96 410.16,35.56 411.04,35.16 411.92,34.77 412.8,34.39 413.68,34.01 414.56,33.64 415.44,33.27 416.32,32.91 417.2,32.56 418.08,32.21 418.96,31.87 419.84,31.53 420.72,31.2 421.6,30.87 422.48,30.55 423.36,30.23 424.24,29.92 425.12,29.61 426,29.31 426.88,29.01 427.76,28.71 428.64,28.42 429.52,28.13 430.4,27.84 431.28,27.56 432.16,27.28 433.04,27.01 433.92,26.74 434.8,26.47 435.68,26.21 436.56,25.95 437.44,25.69 438.32,25.43 439.2,25.18 440.08,24.93 440.96,24.68 441.84,24.44 442.72,24.2 443.6,23.96 444.48,23.72 445.36,23.49 446.24,23.26 447.12,23.03 448,22.8" fill="none" stroke="#8a8a20" stroke-width="0.95" stroke-linejoin="round" />
<polyline points="279.92,29 280.8,29.24 281.68,29.49 282.56,29.74 283.44,30 284.32,30.25 285.2,30.51 286.08,30.77 286.96,31.04 287.84,31.31 288.72,31.58 289.6,31.85 290.48,32.13 291.36,32.41 292.24,32.7 293.12,32.99 294,33.28 294.88,33.58 295.76,33.88 296.64,34.19 297.52,34.5 298.4,34.81 299.28,35.13 300.16,35.45 301.04,35.78 301.92,36.11 302.8,36.45 303.68,36.8 304.56,37.14 305.44,37.5 306.32,37.86 307.2,38.23 308.08,38.6 308.96,38.98 309.84,39.36 310.72,39.75 311.6,40.15 312.48,40.56 313.36,40.97 314.24,41.39 315.12,41.83 316,42.26 316.88,42.71 317.76,43.17 318.64,43.63 319.52,44.11 320.4,44.6 321.28,45.1 322.16,45.6 323.04,46.13 323.92,46.66 324.8,47.21 325.68,47.77 326.56,48.34 327.44,48.93 328.32,49.54 329.2,50.16 330.08,50.81 330.96,51.47 331.84,52.15 332.72,52.85 333.6,53.58 334.48,54.33 335.36,55.11 336.24,55.91 337.12,56.75 338,57.62 338.88,58.52 339.76,59.46 340.64,60.45 341.52,61.48 342.4,62.56 343.28,63.69 344.16,64.89 345.04,66.16 345.92,67.5 346.8,68.93 347.68,70.46 348.56,72.1 349.44,73.87 350.32,75.8 351.2,77.91 352.08,80.24 352.96,82.85 353.84,85.81 354.72,89.23 355.6,91.79 356.48,93.52 357.36,95.75 358.24,98.9 359.12,104.27 360,117.2 360.88,106.27 361.76,106.27 362.64,103.13 363.52,98.43 364.4,95.53 365.28,93.42 366.16,91.76 367.04,89.29 367.92,85.97 368.8,83.09 369.68,80.54 370.56,78.26 371.44,76.19 372.32,74.29 373.2,72.55 374.08,70.93 374.96,69.42 375.84,68.01 376.72,66.69 377.6,65.43 378.48,64.25 379.36,63.12 380.24,62.05 381.12,61.03 382,60.06 382.88,59.12 383.76,58.23 384.64,57.36 385.52,56.53 386.4,55.73 387.28,54.96 388.16,54.22 389.04,53.5 389.92,52.8 390.8,52.12 391.68,51.46 392.56,50.82 393.44,50.2 394.32,49.6 395.2,49.01 396.08,48.44 396.96,47.88 397.84,47.34 398.72,46.81 399.6,46.29 400.48,45.78 401.36,45.29 402.24,44.8 403.12,44.33 404,43.86 404.88,43.41 405.76,42.96 406.64,42.52 407.52,42.1 408.4,41.68 409.28,41.26 410.16,40.86 411.04,40.46 411.92,40.07 412.8,39.69 413.68,39.31 414.56,38.94 415.44,38.57 416.32,38.21 417.2,37.86 418.08,37.51 418.96,37.17 419.84,36.83 420.72,36.5 421.6,36.17 422.48,35.85 423.36,35.53 424.24,35.22 425.12,34.91 426,34.61 426.88,34.31 427.76,34.01 428.64,33.72 429.52,33.43 430.4,33.14 431.28,32.86 432.16,32.58 433.04,32.31 433.92,32.04 434.8,31.77 435.68,31.51 436.56,31.25 437.44,30.99 438.32,30.73 439.2,30.48 440.08,30.23 440.96,29.98 441.84,29.74 442.72,29.5 443.6,29.26 444.48,29.02 445.36,28.79 446.24,28.56 447.12,28.33 448,28.1" fill="none" stroke="#3c64b8" stroke-width="0.95" stroke-linejoin="round" />
<polyline points="279.92,37.8 280.8,38.04 281.68,38.29 282.56,38.54 283.44,38.8 284.32,39.05 285.2,39.31 286.08,39.57 286.96,39.84 287.84,40.11 288.72,40.38 289.6,40.65 290.48,40.93 291.36,41.21 292.24,41.5 293.12,41.79 294,42.08 294.88,42.38 295.76,42.68 296.64,42.99 297.52,43.3 298.4,43.61 299.28,43.93 300.16,44.25 301.04,44.58 301.92,44.91 302.8,45.25 303.68,45.6 304.56,45.94 305.44,46.3 306.32,46.66 307.2,47.03 308.08,47.4 308.96,47.78 309.84,48.16 310.72,48.55 311.6,48.95 312.48,49.36 313.36,49.77 314.24,50.19 315.12,50.63 316,51.06 316.88,51.51 317.76,51.97 318.64,52.43 319.52,52.91 320.4,53.4 321.28,53.9 322.16,54.4 323.04,54.93 323.92,55.46 324.8,56.01 325.68,56.57 326.56,57.14 327.44,57.73 328.32,58.34 329.2,58.96 330.08,59.61 330.96,60.27 331.84,60.95 332.72,61.65 333.6,62.38 334.48,63.13 335.36,63.91 336.24,64.71 337.12,65.55 338,66.42 338.88,67.32 339.76,68.26 340.64,69.25 341.52,70.28 342.4,71.36 343.28,72.49 344.16,73.69 345.04,74.96 345.92,76.3 346.8,77.73 347.68,79.26 348.56,80.9 349.44,82.67 350.32,84.6 351.2,86.25 352.08,87.07 352.96,87.98 353.84,89.01 354.72,90.21 355.6,91.62 356.48,93.35 357.36,95.58 358.24,98.73 359.12,104.1 360,118.4 360.88,106.31 361.76,106.31 362.64,103.17 363.52,98.47 364.4,95.57 365.28,93.46 366.16,91.8 367.04,90.44 367.92,89.28 368.8,88.27 369.68,87.38 370.56,86.58 371.44,85.59 372.32,83.69 373.2,81.95 374.08,80.33 374.96,78.82 375.84,77.41 376.72,76.09 377.6,74.83 378.48,73.65 379.36,72.52 380.24,71.45 381.12,70.43 382,69.46 382.88,68.52 383.76,67.63 384.64,66.76 385.52,65.93 386.4,65.13 387.28,64.36 388.16,63.62 389.04,62.9 389.92,62.2 390.8,61.52 391.68,60.86 392.56,60.22 393.44,59.6 394.32,59 395.2,58.41 396.08,57.84 396.96,57.28 397.84,56.74 398.72,56.21 399.6,55.69 400.48,55.18 401.36,54.69 402.24,54.2 403.12,53.73 404,53.26 404.88,52.81 405.76,52.36 406.64,51.92 407.52,51.5 408.4,51.08 409.28,50.66 410.16,50.26 411.04,49.86 411.92,49.47 412.8,49.09 413.68,48.71 414.56,48.34 415.44,47.97 416.32,47.61 417.2,47.26 418.08,46.91 418.96,46.57 419.84,46.23 420.72,45.9 421.6,45.57 422.48,45.25 423.36,44.93 424.24,44.62 425.12,44.31 426,44.01 426.88,43.71 427.76,43.41 428.64,43.12 429.52,42.83 430.4,42.54 431.28,42.26 432.16,41.98 433.04,41.71 433.92,41.44 434.8,41.17 435.68,40.91 436.56,40.65 437.44,40.39 438.32,40.13 439.2,39.88 440.08,39.63 440.96,39.38 441.84,39.14 442.72,38.9 443.6,38.66 444.48,38.42 445.36,38.19 446.24,37.96 447.12,37.73 448,37.5" fill="none" stroke="#4a9a90" stroke-width="0.95" stroke-linejoin="round" />
</g>
<rect x="271.6" y="3.4" width="185.8" height="138.8" fill="none" stroke="#1e1e1e" stroke-width="1.05"/>
<line x1="271.6" y1="140.87" x2="273" y2="140.87" stroke="#1e1e1e" stroke-width="1.0" />
<line x1="271.6" y1="139.54" x2="273" y2="139.54" stroke="#1e1e1e" stroke-width="1.0" />
<line x1="271.6" y1="138.4" x2="273" y2="138.4" stroke="#1e1e1e" stroke-width="1.0" />
<line x1="271.6" y1="137.39" x2="273" y2="137.39" stroke="#1e1e1e" stroke-width="1.0" />
<line x1="271.6" y1="136.48" x2="274.4" y2="136.48" stroke="#1e1e1e" stroke-width="1.0" />
<line x1="271.6" y1="130.53" x2="273" y2="130.53" stroke="#1e1e1e" stroke-width="1.0" />
<line x1="271.6" y1="127.04" x2="273" y2="127.04" stroke="#1e1e1e" stroke-width="1.0" />
<line x1="271.6" y1="124.57" x2="273" y2="124.57" stroke="#1e1e1e" stroke-width="1.0" />
<line x1="271.6" y1="122.65" x2="273" y2="122.65" stroke="#1e1e1e" stroke-width="1.0" />
<line x1="271.6" y1="121.09" x2="273" y2="121.09" stroke="#1e1e1e" stroke-width="1.0" />
<line x1="271.6" y1="119.76" x2="273" y2="119.76" stroke="#1e1e1e" stroke-width="1.0" />
<line x1="271.6" y1="118.62" x2="273" y2="118.62" stroke="#1e1e1e" stroke-width="1.0" />
<line x1="271.6" y1="117.61" x2="273" y2="117.61" stroke="#1e1e1e" stroke-width="1.0" />
<line x1="271.6" y1="116.7" x2="274.4" y2="116.7" stroke="#1e1e1e" stroke-width="1.0" />
<line x1="271.6" y1="110.75" x2="273" y2="110.75" stroke="#1e1e1e" stroke-width="1.0" />
<line x1="271.6" y1="107.26" x2="273" y2="107.26" stroke="#1e1e1e" stroke-width="1.0" />
<line x1="271.6" y1="104.79" x2="273" y2="104.79" stroke="#1e1e1e" stroke-width="1.0" />
<line x1="271.6" y1="102.87" x2="273" y2="102.87" stroke="#1e1e1e" stroke-width="1.0" />
<line x1="271.6" y1="101.31" x2="273" y2="101.31" stroke="#1e1e1e" stroke-width="1.0" />
<line x1="271.6" y1="99.98" x2="273" y2="99.98" stroke="#1e1e1e" stroke-width="1.0" />
<line x1="271.6" y1="98.84" x2="273" y2="98.84" stroke="#1e1e1e" stroke-width="1.0" />
<line x1="271.6" y1="97.83" x2="273" y2="97.83" stroke="#1e1e1e" stroke-width="1.0" />
<line x1="271.6" y1="96.92" x2="274.4" y2="96.92" stroke="#1e1e1e" stroke-width="1.0" />
<line x1="271.6" y1="90.97" x2="273" y2="90.97" stroke="#1e1e1e" stroke-width="1.0" />
<line x1="271.6" y1="87.48" x2="273" y2="87.48" stroke="#1e1e1e" stroke-width="1.0" />
<line x1="271.6" y1="85.01" x2="273" y2="85.01" stroke="#1e1e1e" stroke-width="1.0" />
<line x1="271.6" y1="83.09" x2="273" y2="83.09" stroke="#1e1e1e" stroke-width="1.0" />
<line x1="271.6" y1="81.53" x2="273" y2="81.53" stroke="#1e1e1e" stroke-width="1.0" />
<line x1="271.6" y1="80.2" x2="273" y2="80.2" stroke="#1e1e1e" stroke-width="1.0" />
<line x1="271.6" y1="79.06" x2="273" y2="79.06" stroke="#1e1e1e" stroke-width="1.0" />
<line x1="271.6" y1="78.05" x2="273" y2="78.05" stroke="#1e1e1e" stroke-width="1.0" />
<line x1="271.6" y1="77.14" x2="274.4" y2="77.14" stroke="#1e1e1e" stroke-width="1.0" />
<line x1="271.6" y1="71.19" x2="273" y2="71.19" stroke="#1e1e1e" stroke-width="1.0" />
<line x1="271.6" y1="67.7" x2="273" y2="67.7" stroke="#1e1e1e" stroke-width="1.0" />
<line x1="271.6" y1="65.23" x2="273" y2="65.23" stroke="#1e1e1e" stroke-width="1.0" />
<line x1="271.6" y1="63.31" x2="273" y2="63.31" stroke="#1e1e1e" stroke-width="1.0" />
<line x1="271.6" y1="61.75" x2="273" y2="61.75" stroke="#1e1e1e" stroke-width="1.0" />
<line x1="271.6" y1="60.42" x2="273" y2="60.42" stroke="#1e1e1e" stroke-width="1.0" />
<line x1="271.6" y1="59.28" x2="273" y2="59.28" stroke="#1e1e1e" stroke-width="1.0" />
<line x1="271.6" y1="58.27" x2="273" y2="58.27" stroke="#1e1e1e" stroke-width="1.0" />
<line x1="271.6" y1="57.36" x2="274.4" y2="57.36" stroke="#1e1e1e" stroke-width="1.0" />
<line x1="271.6" y1="51.41" x2="273" y2="51.41" stroke="#1e1e1e" stroke-width="1.0" />
<line x1="271.6" y1="47.92" x2="273" y2="47.92" stroke="#1e1e1e" stroke-width="1.0" />
<line x1="271.6" y1="45.45" x2="273" y2="45.45" stroke="#1e1e1e" stroke-width="1.0" />
<line x1="271.6" y1="43.53" x2="273" y2="43.53" stroke="#1e1e1e" stroke-width="1.0" />
<line x1="271.6" y1="41.97" x2="273" y2="41.97" stroke="#1e1e1e" stroke-width="1.0" />
<line x1="271.6" y1="40.64" x2="273" y2="40.64" stroke="#1e1e1e" stroke-width="1.0" />
<line x1="271.6" y1="39.5" x2="273" y2="39.5" stroke="#1e1e1e" stroke-width="1.0" />
<line x1="271.6" y1="38.49" x2="273" y2="38.49" stroke="#1e1e1e" stroke-width="1.0" />
<line x1="271.6" y1="37.58" x2="274.4" y2="37.58" stroke="#1e1e1e" stroke-width="1.0" />
<line x1="271.6" y1="31.63" x2="273" y2="31.63" stroke="#1e1e1e" stroke-width="1.0" />
<line x1="271.6" y1="28.14" x2="273" y2="28.14" stroke="#1e1e1e" stroke-width="1.0" />
<line x1="271.6" y1="25.67" x2="273" y2="25.67" stroke="#1e1e1e" stroke-width="1.0" />
<line x1="271.6" y1="23.75" x2="273" y2="23.75" stroke="#1e1e1e" stroke-width="1.0" />
<line x1="271.6" y1="22.19" x2="273" y2="22.19" stroke="#1e1e1e" stroke-width="1.0" />
<line x1="271.6" y1="20.86" x2="273" y2="20.86" stroke="#1e1e1e" stroke-width="1.0" />
<line x1="271.6" y1="19.72" x2="273" y2="19.72" stroke="#1e1e1e" stroke-width="1.0" />
<line x1="271.6" y1="18.71" x2="273" y2="18.71" stroke="#1e1e1e" stroke-width="1.0" />
<line x1="271.6" y1="17.8" x2="274.4" y2="17.8" stroke="#1e1e1e" stroke-width="1.0" />
<line x1="271.6" y1="11.85" x2="273" y2="11.85" stroke="#1e1e1e" stroke-width="1.0" />
<line x1="271.6" y1="8.36" x2="273" y2="8.36" stroke="#1e1e1e" stroke-width="1.0" />
<line x1="271.6" y1="5.89" x2="273" y2="5.89" stroke="#1e1e1e" stroke-width="1.0" />
<line x1="271.6" y1="3.97" x2="273" y2="3.97" stroke="#1e1e1e" stroke-width="1.0" />
<line x1="272.88" y1="142.2" x2="272.88" y2="140.8" stroke="#1e1e1e" stroke-width="1.0" />
<line x1="276.4" y1="142.2" x2="276.4" y2="140.8" stroke="#1e1e1e" stroke-width="1.0" />
<line x1="279.92" y1="142.2" x2="279.92" y2="140.8" stroke="#1e1e1e" stroke-width="1.0" />
<line x1="283.44" y1="142.2" x2="283.44" y2="140.8" stroke="#1e1e1e" stroke-width="1.0" />
<line x1="286.96" y1="142.2" x2="286.96" y2="140.8" stroke="#1e1e1e" stroke-width="1.0" />
<line x1="290.48" y1="142.2" x2="290.48" y2="140.8" stroke="#1e1e1e" stroke-width="1.0" />
<line x1="294" y1="142.2" x2="294" y2="140.8" stroke="#1e1e1e" stroke-width="1.0" />
<line x1="297.52" y1="142.2" x2="297.52" y2="140.8" stroke="#1e1e1e" stroke-width="1.0" />
<line x1="301.04" y1="142.2" x2="301.04" y2="140.8" stroke="#1e1e1e" stroke-width="1.0" />
<line x1="304.56" y1="142.2" x2="304.56" y2="140.8" stroke="#1e1e1e" stroke-width="1.0" />
<line x1="308.08" y1="142.2" x2="308.08" y2="140.8" stroke="#1e1e1e" stroke-width="1.0" />
<line x1="311.6" y1="142.2" x2="311.6" y2="140.8" stroke="#1e1e1e" stroke-width="1.0" />
<line x1="315.12" y1="142.2" x2="315.12" y2="140.8" stroke="#1e1e1e" stroke-width="1.0" />
<line x1="318.64" y1="142.2" x2="318.64" y2="140.8" stroke="#1e1e1e" stroke-width="1.0" />
<line x1="322.16" y1="142.2" x2="322.16" y2="140.8" stroke="#1e1e1e" stroke-width="1.0" />
<line x1="325.68" y1="142.2" x2="325.68" y2="140.8" stroke="#1e1e1e" stroke-width="1.0" />
<line x1="329.2" y1="142.2" x2="329.2" y2="140.8" stroke="#1e1e1e" stroke-width="1.0" />
<line x1="332.72" y1="142.2" x2="332.72" y2="140.8" stroke="#1e1e1e" stroke-width="1.0" />
<line x1="336.24" y1="142.2" x2="336.24" y2="140.8" stroke="#1e1e1e" stroke-width="1.0" />
<line x1="339.76" y1="142.2" x2="339.76" y2="140.8" stroke="#1e1e1e" stroke-width="1.0" />
<line x1="343.28" y1="142.2" x2="343.28" y2="140.8" stroke="#1e1e1e" stroke-width="1.0" />
<line x1="346.8" y1="142.2" x2="346.8" y2="140.8" stroke="#1e1e1e" stroke-width="1.0" />
<line x1="350.32" y1="142.2" x2="350.32" y2="140.8" stroke="#1e1e1e" stroke-width="1.0" />
<line x1="353.84" y1="142.2" x2="353.84" y2="140.8" stroke="#1e1e1e" stroke-width="1.0" />
<line x1="357.36" y1="142.2" x2="357.36" y2="140.8" stroke="#1e1e1e" stroke-width="1.0" />
<line x1="360.88" y1="142.2" x2="360.88" y2="140.8" stroke="#1e1e1e" stroke-width="1.0" />
<line x1="364.4" y1="142.2" x2="364.4" y2="140.8" stroke="#1e1e1e" stroke-width="1.0" />
<line x1="367.92" y1="142.2" x2="367.92" y2="140.8" stroke="#1e1e1e" stroke-width="1.0" />
<line x1="371.44" y1="142.2" x2="371.44" y2="140.8" stroke="#1e1e1e" stroke-width="1.0" />
<line x1="374.96" y1="142.2" x2="374.96" y2="140.8" stroke="#1e1e1e" stroke-width="1.0" />
<line x1="378.48" y1="142.2" x2="378.48" y2="140.8" stroke="#1e1e1e" stroke-width="1.0" />
<line x1="382" y1="142.2" x2="382" y2="140.8" stroke="#1e1e1e" stroke-width="1.0" />
<line x1="385.52" y1="142.2" x2="385.52" y2="140.8" stroke="#1e1e1e" stroke-width="1.0" />
<line x1="389.04" y1="142.2" x2="389.04" y2="140.8" stroke="#1e1e1e" stroke-width="1.0" />
<line x1="392.56" y1="142.2" x2="392.56" y2="140.8" stroke="#1e1e1e" stroke-width="1.0" />
<line x1="396.08" y1="142.2" x2="396.08" y2="140.8" stroke="#1e1e1e" stroke-width="1.0" />
<line x1="399.6" y1="142.2" x2="399.6" y2="140.8" stroke="#1e1e1e" stroke-width="1.0" />
<line x1="403.12" y1="142.2" x2="403.12" y2="140.8" stroke="#1e1e1e" stroke-width="1.0" />
<line x1="406.64" y1="142.2" x2="406.64" y2="140.8" stroke="#1e1e1e" stroke-width="1.0" />
<line x1="410.16" y1="142.2" x2="410.16" y2="140.8" stroke="#1e1e1e" stroke-width="1.0" />
<line x1="413.68" y1="142.2" x2="413.68" y2="140.8" stroke="#1e1e1e" stroke-width="1.0" />
<line x1="417.2" y1="142.2" x2="417.2" y2="140.8" stroke="#1e1e1e" stroke-width="1.0" />
<line x1="420.72" y1="142.2" x2="420.72" y2="140.8" stroke="#1e1e1e" stroke-width="1.0" />
<line x1="424.24" y1="142.2" x2="424.24" y2="140.8" stroke="#1e1e1e" stroke-width="1.0" />
<line x1="427.76" y1="142.2" x2="427.76" y2="140.8" stroke="#1e1e1e" stroke-width="1.0" />
<line x1="431.28" y1="142.2" x2="431.28" y2="140.8" stroke="#1e1e1e" stroke-width="1.0" />
<line x1="434.8" y1="142.2" x2="434.8" y2="140.8" stroke="#1e1e1e" stroke-width="1.0" />
<line x1="438.32" y1="142.2" x2="438.32" y2="140.8" stroke="#1e1e1e" stroke-width="1.0" />
<line x1="441.84" y1="142.2" x2="441.84" y2="140.8" stroke="#1e1e1e" stroke-width="1.0" />
<line x1="445.36" y1="142.2" x2="445.36" y2="140.8" stroke="#1e1e1e" stroke-width="1.0" />
<line x1="448.88" y1="142.2" x2="448.88" y2="140.8" stroke="#1e1e1e" stroke-width="1.0" />
<line x1="452.4" y1="142.2" x2="452.4" y2="140.8" stroke="#1e1e1e" stroke-width="1.0" />
<line x1="455.92" y1="142.2" x2="455.92" y2="140.8" stroke="#1e1e1e" stroke-width="1.0" />
<line x1="276.4" y1="142.2" x2="276.4" y2="139.4" stroke="#1e1e1e" stroke-width="1.0" />
<line x1="294" y1="142.2" x2="294" y2="139.4" stroke="#1e1e1e" stroke-width="1.0" />
<line x1="311.6" y1="142.2" x2="311.6" y2="139.4" stroke="#1e1e1e" stroke-width="1.0" />
<line x1="329.2" y1="142.2" x2="329.2" y2="139.4" stroke="#1e1e1e" stroke-width="1.0" />
<line x1="346.8" y1="142.2" x2="346.8" y2="139.4" stroke="#1e1e1e" stroke-width="1.0" />
<line x1="364.4" y1="142.2" x2="364.4" y2="139.4" stroke="#1e1e1e" stroke-width="1.0" />
<line x1="382" y1="142.2" x2="382" y2="139.4" stroke="#1e1e1e" stroke-width="1.0" />
<line x1="399.6" y1="142.2" x2="399.6" y2="139.4" stroke="#1e1e1e" stroke-width="1.0" />
<line x1="417.2" y1="142.2" x2="417.2" y2="139.4" stroke="#1e1e1e" stroke-width="1.0" />
<line x1="434.8" y1="142.2" x2="434.8" y2="139.4" stroke="#1e1e1e" stroke-width="1.0" />
<line x1="452.4" y1="142.2" x2="452.4" y2="139.4" stroke="#1e1e1e" stroke-width="1.0" />
<text x="268.6" y="20.71" font-size="9.8" text-anchor="end" fill="#111" stroke="#111" stroke-width="0.12">10<tspan font-size="5.88" dy="-3.9">-4</tspan></text>
<text x="268.6" y="40.49" font-size="9.8" text-anchor="end" fill="#111" stroke="#111" stroke-width="0.12">10<tspan font-size="5.88" dy="-3.9">-5</tspan></text>
<text x="268.6" y="60.27" font-size="9.8" text-anchor="end" fill="#111" stroke="#111" stroke-width="0.12">10<tspan font-size="5.88" dy="-3.9">-6</tspan></text>
<text x="268.6" y="80.05" font-size="9.8" text-anchor="end" fill="#111" stroke="#111" stroke-width="0.12">10<tspan font-size="5.88" dy="-3.9">-7</tspan></text>
<text x="268.6" y="99.83" font-size="9.8" text-anchor="end" fill="#111" stroke="#111" stroke-width="0.12">10<tspan font-size="5.88" dy="-3.9">-8</tspan></text>
<text x="268.6" y="119.61" font-size="9.8" text-anchor="end" fill="#111" stroke="#111" stroke-width="0.12">10<tspan font-size="5.88" dy="-3.9">-9</tspan></text>
<text x="268.6" y="139.39" font-size="9.8" text-anchor="end" fill="#111" stroke="#111" stroke-width="0.12">10<tspan font-size="5.88" dy="-3.9">-10</tspan></text>
<text x="268.6" y="8.71" font-size="9.8" text-anchor="end" fill="#111" stroke="#111" stroke-width="0.12">10<tspan font-size="5.88" dy="-3.9">-3</tspan></text>
<text x="276.4" y="154.2" font-size="9.8" text-anchor="middle" fill="#111" stroke="#111" stroke-width="0.12" >10</text>
<text x="271.3" y="154.2" font-size="9.8" text-anchor="end" fill="#111" stroke="#111" stroke-width="0.12" >-</text>
<text x="294" y="154.2" font-size="9.8" text-anchor="middle" fill="#111" stroke="#111" stroke-width="0.12" >8</text>
<text x="291.35" y="154.2" font-size="9.8" text-anchor="end" fill="#111" stroke="#111" stroke-width="0.12" >-</text>
<text x="311.6" y="154.2" font-size="9.8" text-anchor="middle" fill="#111" stroke="#111" stroke-width="0.12" >6</text>
<text x="308.95" y="154.2" font-size="9.8" text-anchor="end" fill="#111" stroke="#111" stroke-width="0.12" >-</text>
<text x="329.2" y="154.2" font-size="9.8" text-anchor="middle" fill="#111" stroke="#111" stroke-width="0.12" >4</text>
<text x="326.55" y="154.2" font-size="9.8" text-anchor="end" fill="#111" stroke="#111" stroke-width="0.12" >-</text>
<text x="346.8" y="154.2" font-size="9.8" text-anchor="middle" fill="#111" stroke="#111" stroke-width="0.12" >2</text>
<text x="344.15" y="154.2" font-size="9.8" text-anchor="end" fill="#111" stroke="#111" stroke-width="0.12" >-</text>
<text x="364.4" y="154.2" font-size="9.8" text-anchor="middle" fill="#111" stroke="#111" stroke-width="0.12" >0</text>
<text x="382" y="154.2" font-size="9.8" text-anchor="middle" fill="#111" stroke="#111" stroke-width="0.12" >2</text>
<text x="399.6" y="154.2" font-size="9.8" text-anchor="middle" fill="#111" stroke="#111" stroke-width="0.12" >4</text>
<text x="417.2" y="154.2" font-size="9.8" text-anchor="middle" fill="#111" stroke="#111" stroke-width="0.12" >6</text>
<text x="434.8" y="154.2" font-size="9.8" text-anchor="middle" fill="#111" stroke="#111" stroke-width="0.12" >8</text>
<text x="452.4" y="154.2" font-size="9.8" text-anchor="middle" fill="#111" stroke="#111" stroke-width="0.12" >10</text>
<text x="362.9" y="163.7" font-size="10.85" text-anchor="middle" fill="#111" stroke="#111" stroke-width="0.12" >Voltage (V)</text>
<text x="0" y="0" font-size="10.7" text-anchor="middle" fill="#111" stroke="#111" stroke-width="0.12" transform="translate(247.8,73.25) rotate(-90)">Current density (A/cm<tspan font-size="6.5" dy="-3.6">2</tspan><tspan dy="3.6">)</tspan></text>
<text x="236.8" y="12.2" font-size="16.2" text-anchor="start" fill="#111" stroke="#111" stroke-width="0.45" >b</text>
<text x="350.6" y="12.7" font-size="9" text-anchor="start" fill="#111" stroke="#111" stroke-width="0.12" xml:space="preserve">330 nm  Unit: µW/cm<tspan font-size="5.8" dy="-3.4">2</tspan></text>
<line x1="386.9" y1="81" x2="401" y2="81" stroke="#b8a078" stroke-width="1.5" />
<text x="404.3" y="84.1" font-size="9" text-anchor="start" fill="#111" stroke="#111" stroke-width="0.12" xml:space="preserve">600</text>
<line x1="386.9" y1="91.55" x2="401" y2="91.55" stroke="#e03030" stroke-width="1.5" />
<text x="404.3" y="94.65" font-size="9" text-anchor="start" fill="#111" stroke="#111" stroke-width="0.12" xml:space="preserve">550</text>
<line x1="386.9" y1="102.1" x2="401" y2="102.1" stroke="#7878f8" stroke-width="1.5" />
<text x="404.3" y="105.2" font-size="9" text-anchor="start" fill="#111" stroke="#111" stroke-width="0.12" xml:space="preserve">500</text>
<line x1="386.9" y1="112.65" x2="401" y2="112.65" stroke="#ff40ff" stroke-width="1.5" />
<text x="404.3" y="115.75" font-size="9" text-anchor="start" fill="#111" stroke="#111" stroke-width="0.12" xml:space="preserve">450</text>
<line x1="386.9" y1="123.2" x2="401" y2="123.2" stroke="#8cb878" stroke-width="1.5" />
<text x="404.3" y="126.3" font-size="9" text-anchor="start" fill="#111" stroke="#111" stroke-width="0.12" xml:space="preserve">400</text>
<line x1="386.9" y1="133.75" x2="401" y2="133.75" stroke="#202090" stroke-width="1.5" />
<text x="404.3" y="136.85" font-size="9" text-anchor="start" fill="#111" stroke="#111" stroke-width="0.12" xml:space="preserve">350</text>
<line x1="421.8" y1="81" x2="435.9" y2="81" stroke="#a070ff" stroke-width="1.5" />
<text x="439.2" y="84.1" font-size="9" text-anchor="start" fill="#111" stroke="#111" stroke-width="0.12" xml:space="preserve">300</text>
<line x1="421.8" y1="91.55" x2="435.9" y2="91.55" stroke="#7030a0" stroke-width="1.5" />
<text x="439.2" y="94.65" font-size="9" text-anchor="start" fill="#111" stroke="#111" stroke-width="0.12" xml:space="preserve">250</text>
<line x1="421.8" y1="102.1" x2="435.9" y2="102.1" stroke="#b07868" stroke-width="1.5" />
<text x="439.2" y="105.2" font-size="9" text-anchor="start" fill="#111" stroke="#111" stroke-width="0.12" xml:space="preserve">200</text>
<line x1="421.8" y1="112.65" x2="435.9" y2="112.65" stroke="#8c8c40" stroke-width="1.5" />
<text x="439.2" y="115.75" font-size="9" text-anchor="start" fill="#111" stroke="#111" stroke-width="0.12" xml:space="preserve">150</text>
<line x1="421.8" y1="123.2" x2="435.9" y2="123.2" stroke="#90a8d8" stroke-width="1.5" />
<text x="439.2" y="126.3" font-size="9" text-anchor="start" fill="#111" stroke="#111" stroke-width="0.12" xml:space="preserve">100</text>
<line x1="421.8" y1="133.75" x2="435.9" y2="133.75" stroke="#5a9c90" stroke-width="1.5" />
<text x="439.2" y="136.85" font-size="9" text-anchor="start" fill="#111" stroke="#111" stroke-width="0.12" xml:space="preserve"> 50</text>
<g clip-path="url(#cc)">
<polyline points="496,131.5 496.6,120 497.3,124 498,117.5 498.8,128.5 499.5,121 500.3,127 501,119 501.7,125 502.3,118 502.9,134.5 503.5,121 504.2,114 504.6,108 506.1,52.2 507.1,51.89 508.1,51.44 509.1,51.58 510.1,51.48 511.1,51.12 512.1,51.27 513.1,51.19 514.1,51.22 515.1,50.83 516.1,51.07 517.1,51.13 518.1,50.91 519.1,50.77 520.1,50.47 521.1,50.65 522.2,50.6 523.64,124.34 524.14,127.24 524.64,128.87 525.14,129.93 525.64,130.22 526.14,131.63 526.64,132.09 527.14,131.72 527.64,133.12 528.14,132.93 528.64,132.22 529.14,133.61 529.64,132.42 530.14,132.78 530.64,133.44 531.14,133.28 531.64,133.23 532.14,133.39 532.64,133.1 533.14,132.88 533.64,132.67 534.14,132.5 534.64,133.54 535.14,133.6 535.64,133.26 536.14,133.58 536.64,132.97 537.14,132.82 537.64,133.01 538,133.01 539.2,51.6 540.2,51.25 541.2,50.64 542.2,50.81 543.2,50.57 544.2,50.8 545.2,50.48 546.2,50.4 547.2,50.38 548.2,50.4 549.2,50.48 550.2,50.17 551.2,50.41 552.2,49.92 553.2,49.96 554.2,49.81 555.3,50 556.74,120.42 557.24,123.51 557.74,124.92 558.24,125.13 558.74,125.94 559.24,126.88 559.74,127.83 560.24,128.26 560.74,128.38 561.24,128.29 561.74,127.7 562.24,128.19 562.74,127.93 563.24,128.51 563.74,128.61 564.24,128.05 564.74,128.15 565.24,129.01 565.74,127.82 566.24,129.07 566.74,129.21 567.24,129.31 567.74,128.41 568.24,128.68 568.74,128.73 569.24,128.81 569.74,129.36 570.24,128.9 570.9,128.9 572.1,51.4 573.1,50.71 574.1,50.93 575.1,50.6 576.1,50.58 577.1,50.58 578.1,50.07 579.1,50.46 580.1,50.33 581.1,50.17 582.1,50.13 583.1,50.03 584.1,49.82 585.1,49.97 586.1,49.62 587.1,49.85 588.2,49.8 589.64,119.15 590.14,120.84 590.64,122.5 591.14,124.2 591.64,124.88 592.14,124.25 592.64,125.72 593.14,125.76 593.64,125.07 594.14,125.73 594.64,125.64 595.14,125.48 595.64,126.29 596.14,126.96 596.64,126.02 597.14,126.92 597.64,126.66 598.14,125.78 598.64,126.95 599.14,126.54 599.64,127.07 600.14,126.73 600.64,126.78 601.14,126.14 601.64,126.89 602.14,127.09 602.64,126.98 603.14,126.3 603.8,126.3 605,51.2 606,50.78 607,50.5 608,50.18 609,50.05 610,49.99 611,49.99 612,49.89 613,50.03 614,50.09 615,49.94 616,49.81 617,49.89 618,49.63 619,49.68 620,49.81 621.1,49.6 622.54,118.41 623.04,119.99 623.54,122.57 624.04,123.32 624.54,123.51 625.04,124.08 625.54,124.74 626.04,125.14 626.54,124.76 627.04,124.57 627.54,125.02 628.04,126.02 628.54,125.06 629.04,125.61 629.54,125.22 630.04,125.27 630.54,125.22 631.04,125.61 631.54,125.24 632.04,125.02 632.54,125.16 633.04,125.26 633.54,125.78 634.04,125.09 634.54,125.03 635.04,125.71 635.54,125.65 636.04,126.12 636.7,126.12 637.9,51 638.9,50.16 639.9,50.25 640.9,50.15 641.9,49.84 642.9,50.32 643.9,49.8 644.9,49.66 645.9,49.82 646.9,49.57 647.9,49.79 648.9,49.56 649.9,49.38 650.9,49.28 651.9,49.64 652.9,49.32 654,49.4 655.44,118.73 655.94,120.1 656.44,122.23 656.94,122.23 657.44,122.88 657.94,123.45 658.44,124.72 658.94,124.72 659.44,124.47 659.94,124.23 660.44,125.28 660.94,125.82 661.44,125.28 661.94,124.38 662.44,124.46 662.94,124.58 663.44,124.73 663.94,124.52 664.44,124.56 664.94,125.53 665.44,125.93 665.94,124.81 666.44,126.05 666.94,125.26 667.44,125.78 667.94,125.96 668.44,126 668.94,124.55 669.44,124.99 669.94,125.47 670.44,126.01 670.94,124.64 671.44,124.97 671.94,125.86 672.44,124.68 672.94,125.12 673.44,125.03 673.94,125.59 674.44,125.99" fill="none" stroke="#3a7ae8" stroke-width="1.15" stroke-linejoin="round" />
<polyline points="496,77.2 496.5,77.48 497,77.76 497.5,78.04 498,78.32 498.5,78.6 499,78.89 499.5,79.17 500,79.45 500.5,79.73 501,80.01 501.5,80.29 502,80.57 502.5,80.85 503,81.13 503.5,81.41 504,81.69 504.5,81.98 504.9,81.98 506.1,24.5 507.1,24.28 508.1,24.34 509.1,24.26 510.1,24.31 511.1,24.3 512.1,24.11 513.1,24.08 514.1,24.31 515.1,24.12 516.1,24.1 517.1,24.31 518.1,24.14 519.1,24.24 520.1,24.12 521.1,24.15 522.2,24.1 523.64,84.75 524.14,85.37 524.64,85.83 525.14,85.96 525.64,86.33 526.14,86.53 526.64,86.43 527.14,86.96 527.64,87.04 528.14,87.04 528.64,87.03 529.14,87.55 529.64,87.45 530.14,87.66 530.64,87.82 531.14,87.8 531.64,87.97 532.14,87.76 532.64,88 533.14,87.87 533.64,88.15 534.14,88.15 534.64,87.79 535.14,87.83 535.64,87.9 536.14,88.29 536.64,88.04 537.14,88.15 537.64,88 538,88 539.2,24.2 540.2,24.06 541.2,23.99 542.2,23.96 543.2,24.01 544.2,23.99 545.2,24.06 546.2,23.98 547.2,24.04 548.2,24 549.2,24.03 550.2,23.92 551.2,23.75 552.2,23.95 553.2,23.96 554.2,23.93 555.3,23.8 556.74,87.65 557.24,88.03 557.74,88.05 558.24,88.59 558.74,88.67 559.24,88.71 559.74,88.76 560.24,89.3 560.74,89.5 561.24,89.16 561.74,89.61 562.24,89.5 562.74,89.45 563.24,89.59 563.74,89.89 564.24,89.99 564.74,89.62 565.24,89.95 565.74,89.7 566.24,90.07 566.74,89.9 567.24,90.2 567.74,90.28 568.24,90.06 568.74,90.32 569.24,89.99 569.74,89.89 570.24,90.16 570.9,90.16 572.1,23.6 573.1,23.32 574.1,23.34 575.1,23.38 576.1,23.41 577.1,23.26 578.1,23.2 579.1,23.43 580.1,23.25 581.1,23.43 582.1,23.4 583.1,23.23 584.1,23.24 585.1,23.24 586.1,23.27 587.1,23.24 588.2,23.2 589.64,88.94 590.14,89.21 590.64,89.59 591.14,89.56 591.64,89.7 592.14,89.99 592.64,89.88 593.14,90.03 593.64,90.47 594.14,90.33 594.64,90.42 595.14,90.23 595.64,90.49 596.14,90.63 596.64,90.4 597.14,90.74 597.64,90.78 598.14,90.53 598.64,90.84 599.14,90.79 599.64,90.92 600.14,90.77 600.64,90.97 601.14,91 601.64,90.66 602.14,90.69 602.64,91.01 603.14,91.16 603.8,91.16 605,23.5 606,23.28 607,23.31 608,23.33 609,23.23 610,23.22 611,23.19 612,23.19 613,23.24 614,23.13 615,23.14 616,23.25 617,23.01 618,23.16 619,23.2 620,23.06 621.1,23.1 622.54,89.27 623.04,89.8 623.54,89.74 624.04,89.91 624.54,90.2 625.04,90.48 625.54,90.31 626.04,90.54 626.54,90.65 627.04,90.99 627.54,90.87 628.04,91.15 628.54,90.87 629.04,91.01 629.54,91.21 630.04,91.37 630.54,91.19 631.04,91.11 631.54,91.09 632.04,91.32 632.54,91.17 633.04,91.5 633.54,91.54 634.04,91.22 634.54,91.29 635.04,91.56 635.54,91.49 636.04,91.58 636.7,91.58 637.9,23.4 638.9,23.21 639.9,23.12 640.9,23.14 641.9,23.27 642.9,23.09 643.9,23.1 644.9,23.1 645.9,23.08 646.9,23.07 647.9,23.2 648.9,22.96 649.9,22.9 650.9,23.17 651.9,23.14 652.9,23.16 654,23 655.44,90.33 655.94,90.87 656.44,91.11 656.94,90.98 657.44,91.44 657.94,91.66 658.44,91.73 658.94,91.79 659.44,91.8 659.94,91.93 660.44,91.96 660.94,91.97 661.44,92.3 661.94,92.21 662.44,92.53 662.94,92.2 663.44,92.67 663.94,92.61 664.44,92.75 664.94,92.77 665.44,92.8 665.94,92.66 666.44,92.4 666.94,92.78 667.44,92.51 667.94,92.59 668.44,92.79 668.94,92.73 669.44,92.68 669.94,92.95 670.44,92.8 670.94,92.67 671.44,92.63 671.94,92.94 672.44,92.75 672.94,92.91 673.44,92.7 673.94,92.62 674.44,92.8" fill="none" stroke="#111" stroke-width="1.05" stroke-linejoin="round" />
<polyline points="496,80.2 496.5,80.63 497,81.05 497.5,81.48 498,81.91 498.5,82.33 499,82.76 499.5,83.19 500,83.62 500.5,84.04 501,84.47 501.5,84.9 502,85.32 502.5,85.75 503,86.18 503.5,86.6 504,87.03 504.5,87.46 504.9,87.46 507.1,29.3 508.1,29.27 509.1,29.05 510.1,29.22 511.1,29.25 512.1,29.2 513.1,29.19 514.1,28.93 515.1,29.11 516.1,29.17 517.1,28.91 518.1,28.97 519.1,28.96 520.1,29.03 521.1,28.99 522.2,29 524.84,92.52 525.34,93.12 525.84,92.92 526.34,93.25 526.84,93.56 527.34,93.79 527.84,93.96 528.34,94.77 528.84,94.85 529.34,94.45 529.84,94.87 530.34,94.85 530.84,94.94 531.34,95.05 531.84,95.34 532.34,95.36 532.84,95.26 533.34,95.19 533.84,95.34 534.34,95.23 534.84,95.57 535.34,95.72 535.84,95.51 536.34,95.32 536.84,95.41 537.34,95.57 538,95.57 540.2,28.9 541.2,28.8 542.2,28.84 543.2,28.7 544.2,28.81 545.2,28.74 546.2,28.67 547.2,28.64 548.2,28.67 549.2,28.72 550.2,28.62 551.2,28.7 552.2,28.62 553.2,28.54 554.2,28.62 555.3,28.6 557.94,94.47 558.44,94.28 558.94,94.76 559.44,94.96 559.94,95.45 560.44,95.64 560.94,95.39 561.44,95.87 561.94,95.91 562.44,95.63 562.94,95.85 563.44,95.69 563.94,96.23 564.44,96.19 564.94,96.39 565.44,96.37 565.94,96.32 566.44,96.4 566.94,96.32 567.44,96.02 567.94,96.38 568.44,96 568.94,96.11 569.44,96.57 569.94,96.07 570.44,96.12 570.9,96.12 573.1,28.5 574.1,28.25 575.1,28.47 576.1,28.24 577.1,28.18 578.1,28.41 579.1,28.18 580.1,28.38 581.1,28.32 582.1,28.36 583.1,28.38 584.1,28.26 585.1,28.32 586.1,28.08 587.1,28.29 588.2,28.2 590.84,96.3 591.34,96.66 591.84,96.44 592.34,97.06 592.84,97.34 593.34,96.87 593.84,97.17 594.34,97.45 594.84,97.73 595.34,97.4 595.84,97.43 596.34,97.54 596.84,97.85 597.34,98 597.84,97.79 598.34,97.81 598.84,97.87 599.34,97.87 599.84,97.94 600.34,97.73 600.84,98.04 601.34,98.39 601.84,98.02 602.34,98.27 602.84,97.87 603.34,98.25 603.8,98.25 606,28.3 607,28.25 608,28.2 609,28.14 610,28.12 611,28.15 612,28.21 613,27.98 614,27.95 615,28.13 616,28.17 617,28.04 618,28.01 619,28.08 620,27.92 621.1,28 623.74,96.28 624.24,96.44 624.74,96.89 625.24,96.86 625.74,96.95 626.24,97.39 626.74,97.69 627.24,97.32 627.74,97.7 628.24,97.57 628.74,97.94 629.24,97.81 629.74,97.64 630.24,97.66 630.74,97.56 631.24,97.92 631.74,97.88 632.24,97.76 632.74,97.92 633.24,97.91 633.74,98.25 634.24,97.82 634.74,98.43 635.24,98.09 635.74,98.18 636.24,98.1 636.7,98.1 638.9,28.3 639.9,28.27 640.9,28.25 641.9,28.15 642.9,28.11 643.9,28.17 644.9,28.2 645.9,28.05 646.9,28.14 647.9,28.2 648.9,28.04 649.9,27.96 650.9,27.95 651.9,28.08 652.9,28.06 654,28 656.64,97.25 657.14,97.42 657.64,97.21 658.14,97.36 658.64,97.58 659.14,97.67 659.64,98.17 660.14,98.39 660.64,98.52 661.14,98.16 661.64,98.66 662.14,98.35 662.64,98.49 663.14,98.75 663.64,98.35 664.14,98.4 664.64,98.95 665.14,98.61 665.64,98.68 666.14,98.86 666.64,98.95 667.14,98.51 667.64,98.75 668.14,98.84 668.64,98.89 669.14,98.71 669.64,98.98 670.14,99.25 670.64,98.86 671.14,98.98 671.64,98.68 672.14,98.8 672.64,99.08 673.14,98.7 673.64,99.24 674.14,99.26 674.64,98.69" fill="none" stroke="#f02020" stroke-width="1.15" stroke-linejoin="round" />
</g>
<rect x="491.6" y="3.2" width="185.4" height="139" fill="none" stroke="#1e1e1e" stroke-width="1.05"/>
<line x1="491.6" y1="142.2" x2="494.4" y2="142.2" stroke="#1e1e1e" stroke-width="1.0" />
<line x1="491.6" y1="136.22" x2="493" y2="136.22" stroke="#1e1e1e" stroke-width="1.0" />
<line x1="491.6" y1="132.72" x2="493" y2="132.72" stroke="#1e1e1e" stroke-width="1.0" />
<line x1="491.6" y1="130.24" x2="493" y2="130.24" stroke="#1e1e1e" stroke-width="1.0" />
<line x1="491.6" y1="128.32" x2="493" y2="128.32" stroke="#1e1e1e" stroke-width="1.0" />
<line x1="491.6" y1="126.75" x2="493" y2="126.75" stroke="#1e1e1e" stroke-width="1.0" />
<line x1="491.6" y1="125.42" x2="493" y2="125.42" stroke="#1e1e1e" stroke-width="1.0" />
<line x1="491.6" y1="124.26" x2="493" y2="124.26" stroke="#1e1e1e" stroke-width="1.0" />
<line x1="491.6" y1="123.25" x2="493" y2="123.25" stroke="#1e1e1e" stroke-width="1.0" />
<line x1="491.6" y1="122.34" x2="494.4" y2="122.34" stroke="#1e1e1e" stroke-width="1.0" />
<line x1="491.6" y1="116.36" x2="493" y2="116.36" stroke="#1e1e1e" stroke-width="1.0" />
<line x1="491.6" y1="112.86" x2="493" y2="112.86" stroke="#1e1e1e" stroke-width="1.0" />
<line x1="491.6" y1="110.38" x2="493" y2="110.38" stroke="#1e1e1e" stroke-width="1.0" />
<line x1="491.6" y1="108.46" x2="493" y2="108.46" stroke="#1e1e1e" stroke-width="1.0" />
<line x1="491.6" y1="106.89" x2="493" y2="106.89" stroke="#1e1e1e" stroke-width="1.0" />
<line x1="491.6" y1="105.56" x2="493" y2="105.56" stroke="#1e1e1e" stroke-width="1.0" />
<line x1="491.6" y1="104.4" x2="493" y2="104.4" stroke="#1e1e1e" stroke-width="1.0" />
<line x1="491.6" y1="103.39" x2="493" y2="103.39" stroke="#1e1e1e" stroke-width="1.0" />
<line x1="491.6" y1="102.48" x2="494.4" y2="102.48" stroke="#1e1e1e" stroke-width="1.0" />
<line x1="491.6" y1="96.5" x2="493" y2="96.5" stroke="#1e1e1e" stroke-width="1.0" />
<line x1="491.6" y1="93" x2="493" y2="93" stroke="#1e1e1e" stroke-width="1.0" />
<line x1="491.6" y1="90.52" x2="493" y2="90.52" stroke="#1e1e1e" stroke-width="1.0" />
<line x1="491.6" y1="88.6" x2="493" y2="88.6" stroke="#1e1e1e" stroke-width="1.0" />
<line x1="491.6" y1="87.03" x2="493" y2="87.03" stroke="#1e1e1e" stroke-width="1.0" />
<line x1="491.6" y1="85.7" x2="493" y2="85.7" stroke="#1e1e1e" stroke-width="1.0" />
<line x1="491.6" y1="84.54" x2="493" y2="84.54" stroke="#1e1e1e" stroke-width="1.0" />
<line x1="491.6" y1="83.53" x2="493" y2="83.53" stroke="#1e1e1e" stroke-width="1.0" />
<line x1="491.6" y1="82.62" x2="494.4" y2="82.62" stroke="#1e1e1e" stroke-width="1.0" />
<line x1="491.6" y1="76.64" x2="493" y2="76.64" stroke="#1e1e1e" stroke-width="1.0" />
<line x1="491.6" y1="73.14" x2="493" y2="73.14" stroke="#1e1e1e" stroke-width="1.0" />
<line x1="491.6" y1="70.66" x2="493" y2="70.66" stroke="#1e1e1e" stroke-width="1.0" />
<line x1="491.6" y1="68.74" x2="493" y2="68.74" stroke="#1e1e1e" stroke-width="1.0" />
<line x1="491.6" y1="67.17" x2="493" y2="67.17" stroke="#1e1e1e" stroke-width="1.0" />
<line x1="491.6" y1="65.84" x2="493" y2="65.84" stroke="#1e1e1e" stroke-width="1.0" />
<line x1="491.6" y1="64.68" x2="493" y2="64.68" stroke="#1e1e1e" stroke-width="1.0" />
<line x1="491.6" y1="63.67" x2="493" y2="63.67" stroke="#1e1e1e" stroke-width="1.0" />
<line x1="491.6" y1="62.76" x2="494.4" y2="62.76" stroke="#1e1e1e" stroke-width="1.0" />
<line x1="491.6" y1="56.78" x2="493" y2="56.78" stroke="#1e1e1e" stroke-width="1.0" />
<line x1="491.6" y1="53.28" x2="493" y2="53.28" stroke="#1e1e1e" stroke-width="1.0" />
<line x1="491.6" y1="50.8" x2="493" y2="50.8" stroke="#1e1e1e" stroke-width="1.0" />
<line x1="491.6" y1="48.88" x2="493" y2="48.88" stroke="#1e1e1e" stroke-width="1.0" />
<line x1="491.6" y1="47.31" x2="493" y2="47.31" stroke="#1e1e1e" stroke-width="1.0" />
<line x1="491.6" y1="45.98" x2="493" y2="45.98" stroke="#1e1e1e" stroke-width="1.0" />
<line x1="491.6" y1="44.82" x2="493" y2="44.82" stroke="#1e1e1e" stroke-width="1.0" />
<line x1="491.6" y1="43.81" x2="493" y2="43.81" stroke="#1e1e1e" stroke-width="1.0" />
<line x1="491.6" y1="42.9" x2="494.4" y2="42.9" stroke="#1e1e1e" stroke-width="1.0" />
<line x1="491.6" y1="36.92" x2="493" y2="36.92" stroke="#1e1e1e" stroke-width="1.0" />
<line x1="491.6" y1="33.42" x2="493" y2="33.42" stroke="#1e1e1e" stroke-width="1.0" />
<line x1="491.6" y1="30.94" x2="493" y2="30.94" stroke="#1e1e1e" stroke-width="1.0" />
<line x1="491.6" y1="29.02" x2="493" y2="29.02" stroke="#1e1e1e" stroke-width="1.0" />
<line x1="491.6" y1="27.45" x2="493" y2="27.45" stroke="#1e1e1e" stroke-width="1.0" />
<line x1="491.6" y1="26.12" x2="493" y2="26.12" stroke="#1e1e1e" stroke-width="1.0" />
<line x1="491.6" y1="24.96" x2="493" y2="24.96" stroke="#1e1e1e" stroke-width="1.0" />
<line x1="491.6" y1="23.95" x2="493" y2="23.95" stroke="#1e1e1e" stroke-width="1.0" />
<line x1="491.6" y1="23.04" x2="494.4" y2="23.04" stroke="#1e1e1e" stroke-width="1.0" />
<line x1="491.6" y1="17.06" x2="493" y2="17.06" stroke="#1e1e1e" stroke-width="1.0" />
<line x1="491.6" y1="13.56" x2="493" y2="13.56" stroke="#1e1e1e" stroke-width="1.0" />
<line x1="491.6" y1="11.08" x2="493" y2="11.08" stroke="#1e1e1e" stroke-width="1.0" />
<line x1="491.6" y1="9.16" x2="493" y2="9.16" stroke="#1e1e1e" stroke-width="1.0" />
<line x1="491.6" y1="7.59" x2="493" y2="7.59" stroke="#1e1e1e" stroke-width="1.0" />
<line x1="491.6" y1="6.26" x2="493" y2="6.26" stroke="#1e1e1e" stroke-width="1.0" />
<line x1="491.6" y1="5.1" x2="493" y2="5.1" stroke="#1e1e1e" stroke-width="1.0" />
<line x1="491.6" y1="4.09" x2="493" y2="4.09" stroke="#1e1e1e" stroke-width="1.0" />
<line x1="491.6" y1="3.18" x2="494.4" y2="3.18" stroke="#1e1e1e" stroke-width="1.0" />
<line x1="495.02" y1="142.2" x2="495.02" y2="140.8" stroke="#1e1e1e" stroke-width="1.0" />
<line x1="501.76" y1="142.2" x2="501.76" y2="140.8" stroke="#1e1e1e" stroke-width="1.0" />
<line x1="508.5" y1="142.2" x2="508.5" y2="140.8" stroke="#1e1e1e" stroke-width="1.0" />
<line x1="515.24" y1="142.2" x2="515.24" y2="140.8" stroke="#1e1e1e" stroke-width="1.0" />
<line x1="521.98" y1="142.2" x2="521.98" y2="140.8" stroke="#1e1e1e" stroke-width="1.0" />
<line x1="528.72" y1="142.2" x2="528.72" y2="140.8" stroke="#1e1e1e" stroke-width="1.0" />
<line x1="535.46" y1="142.2" x2="535.46" y2="140.8" stroke="#1e1e1e" stroke-width="1.0" />
<line x1="542.2" y1="142.2" x2="542.2" y2="140.8" stroke="#1e1e1e" stroke-width="1.0" />
<line x1="548.94" y1="142.2" x2="548.94" y2="140.8" stroke="#1e1e1e" stroke-width="1.0" />
<line x1="555.68" y1="142.2" x2="555.68" y2="140.8" stroke="#1e1e1e" stroke-width="1.0" />
<line x1="562.42" y1="142.2" x2="562.42" y2="140.8" stroke="#1e1e1e" stroke-width="1.0" />
<line x1="569.16" y1="142.2" x2="569.16" y2="140.8" stroke="#1e1e1e" stroke-width="1.0" />
<line x1="575.9" y1="142.2" x2="575.9" y2="140.8" stroke="#1e1e1e" stroke-width="1.0" />
<line x1="582.64" y1="142.2" x2="582.64" y2="140.8" stroke="#1e1e1e" stroke-width="1.0" />
<line x1="589.38" y1="142.2" x2="589.38" y2="140.8" stroke="#1e1e1e" stroke-width="1.0" />
<line x1="596.12" y1="142.2" x2="596.12" y2="140.8" stroke="#1e1e1e" stroke-width="1.0" />
<line x1="602.86" y1="142.2" x2="602.86" y2="140.8" stroke="#1e1e1e" stroke-width="1.0" />
<line x1="609.6" y1="142.2" x2="609.6" y2="140.8" stroke="#1e1e1e" stroke-width="1.0" />
<line x1="616.34" y1="142.2" x2="616.34" y2="140.8" stroke="#1e1e1e" stroke-width="1.0" />
<line x1="623.08" y1="142.2" x2="623.08" y2="140.8" stroke="#1e1e1e" stroke-width="1.0" />
<line x1="629.82" y1="142.2" x2="629.82" y2="140.8" stroke="#1e1e1e" stroke-width="1.0" />
<line x1="636.56" y1="142.2" x2="636.56" y2="140.8" stroke="#1e1e1e" stroke-width="1.0" />
<line x1="643.3" y1="142.2" x2="643.3" y2="140.8" stroke="#1e1e1e" stroke-width="1.0" />
<line x1="650.04" y1="142.2" x2="650.04" y2="140.8" stroke="#1e1e1e" stroke-width="1.0" />
<line x1="656.78" y1="142.2" x2="656.78" y2="140.8" stroke="#1e1e1e" stroke-width="1.0" />
<line x1="663.52" y1="142.2" x2="663.52" y2="140.8" stroke="#1e1e1e" stroke-width="1.0" />
<line x1="670.26" y1="142.2" x2="670.26" y2="140.8" stroke="#1e1e1e" stroke-width="1.0" />
<line x1="508.5" y1="142.2" x2="508.5" y2="139.4" stroke="#1e1e1e" stroke-width="1.0" />
<line x1="542.2" y1="142.2" x2="542.2" y2="139.4" stroke="#1e1e1e" stroke-width="1.0" />
<line x1="575.9" y1="142.2" x2="575.9" y2="139.4" stroke="#1e1e1e" stroke-width="1.0" />
<line x1="609.6" y1="142.2" x2="609.6" y2="139.4" stroke="#1e1e1e" stroke-width="1.0" />
<line x1="643.3" y1="142.2" x2="643.3" y2="139.4" stroke="#1e1e1e" stroke-width="1.0" />
<text x="488.8" y="25.35" font-size="9.8" text-anchor="end" fill="#111" stroke="#111" stroke-width="0.12">10<tspan font-size="5.88" dy="-3.9">-4</tspan></text>
<text x="488.8" y="45.21" font-size="9.8" text-anchor="end" fill="#111" stroke="#111" stroke-width="0.12">10<tspan font-size="5.88" dy="-3.9">-5</tspan></text>
<text x="488.8" y="65.07" font-size="9.8" text-anchor="end" fill="#111" stroke="#111" stroke-width="0.12">10<tspan font-size="5.88" dy="-3.9">-6</tspan></text>
<text x="488.8" y="84.93" font-size="9.8" text-anchor="end" fill="#111" stroke="#111" stroke-width="0.12">10<tspan font-size="5.88" dy="-3.9">-7</tspan></text>
<text x="488.8" y="104.79" font-size="9.8" text-anchor="end" fill="#111" stroke="#111" stroke-width="0.12">10<tspan font-size="5.88" dy="-3.9">-8</tspan></text>
<text x="488.8" y="124.65" font-size="9.8" text-anchor="end" fill="#111" stroke="#111" stroke-width="0.12">10<tspan font-size="5.88" dy="-3.9">-9</tspan></text>
<text x="488.8" y="9.71" font-size="9.8" text-anchor="end" fill="#111" stroke="#111" stroke-width="0.12">10<tspan font-size="5.88" dy="-3.9">-3</tspan></text>
<text x="488.8" y="145.91" font-size="9.8" text-anchor="end" fill="#111" stroke="#111" stroke-width="0.12">10<tspan font-size="5.88" dy="-3.9">-10</tspan></text>
<text x="491.8" y="152.6" font-size="9.8" text-anchor="middle" fill="#111" stroke="#111" stroke-width="0.12" >0</text>
<text x="508.5" y="152.6" font-size="9.8" text-anchor="middle" fill="#111" stroke="#111" stroke-width="0.12" >20</text>
<text x="542.2" y="152.6" font-size="9.8" text-anchor="middle" fill="#111" stroke="#111" stroke-width="0.12" >40</text>
<text x="575.9" y="152.6" font-size="9.8" text-anchor="middle" fill="#111" stroke="#111" stroke-width="0.12" >60</text>
<text x="609.6" y="152.6" font-size="9.8" text-anchor="middle" fill="#111" stroke="#111" stroke-width="0.12" >80</text>
<text x="643.3" y="152.6" font-size="9.8" text-anchor="middle" fill="#111" stroke="#111" stroke-width="0.12" >100</text>
<text x="677" y="152.6" font-size="9.8" text-anchor="middle" fill="#111" stroke="#111" stroke-width="0.12" >120</text>
<text x="582.2" y="163.6" font-size="10.5" text-anchor="middle" fill="#111" stroke="#111" stroke-width="0.12" >Time (s)</text>
<text x="0" y="0" font-size="11.0" text-anchor="middle" fill="#111" stroke="#111" stroke-width="0.12" transform="translate(469.4,74.5) rotate(-90)">Current density (A/cm<tspan font-size="6.5" dy="-3.6">2</tspan><tspan dy="3.6">)</tspan></text>
<text x="462" y="9.8" font-size="16.2" text-anchor="start" fill="#111" stroke="#111" stroke-width="0.45" >c</text>
<line x1="491.6" y1="9.8" x2="502" y2="9.8" stroke="#3a7ae8" stroke-width="1.6" />
<text x="503.6" y="13" font-size="9" text-anchor="start" fill="#111" stroke="#111" stroke-width="0.12" >-2 V</text>
<line x1="521.4" y1="9.8" x2="533" y2="9.8" stroke="#f02020" stroke-width="1.6" />
<text x="534.1" y="13" font-size="9" text-anchor="start" fill="#111" stroke="#111" stroke-width="0.12" >-6 V</text>
<line x1="551.5" y1="9.8" x2="563.2" y2="9.8" stroke="#111" stroke-width="1.6" />
<text x="563.6" y="13" font-size="9" text-anchor="start" fill="#111" stroke="#111" stroke-width="0.12" >-10 V</text>
<text x="593.9" y="13" font-size="9" text-anchor="start" fill="#111" stroke="#111" stroke-width="0.12" >330 nm / 50 µW/cm<tspan font-size="5.8" dy="-3.4">2</tspan></text>
<path d="M38.41,256.3L40.91,258.8L38.41,261.3L35.91,258.8Z" fill="#1f1ff0"/>
<path d="M53.84,242.5L56.34,245L53.84,247.5L51.34,245Z" fill="#1f1ff0"/>
<path d="M69.27,236.5L71.77,239L69.27,241.5L66.77,239Z" fill="#1f1ff0"/>
<path d="M84.7,226L87.2,228.5L84.7,231L82.2,228.5Z" fill="#1f1ff0"/>
<path d="M100.13,208L102.63,210.5L100.13,213L97.63,210.5Z" fill="#1f1ff0"/>
<path d="M115.55,217L118.05,219.5L115.55,222L113.05,219.5Z" fill="#1f1ff0"/>
<path d="M130.98,259.1L133.48,261.6L130.98,264.1L128.48,261.6Z" fill="#1f1ff0"/>
<path d="M146.41,289.8L148.91,292.3L146.41,294.8L143.91,292.3Z" fill="#1f1ff0"/>
<path d="M161.84,293.2L164.34,295.7L161.84,298.2L159.34,295.7Z" fill="#1f1ff0"/>
<path d="M177.27,294.1L179.77,296.6L177.27,299.1L174.77,296.6Z" fill="#1f1ff0"/>
<path d="M192.69,294.2L195.19,296.7L192.69,299.2L190.19,296.7Z" fill="#1f1ff0"/>
<path d="M208.12,294.2L210.62,296.7L208.12,299.2L205.62,296.7Z" fill="#1f1ff0"/>
<circle cx="38.41" cy="257.7" r="2.05" fill="#ff1a1a"/>
<circle cx="37.81" cy="257.1" r="0.72" fill="#fff" opacity="0.8"/>
<circle cx="53.84" cy="243.4" r="2.05" fill="#ff1a1a"/>
<circle cx="53.24" cy="242.8" r="0.72" fill="#fff" opacity="0.8"/>
<circle cx="69.27" cy="236.6" r="2.05" fill="#ff1a1a"/>
<circle cx="68.67" cy="236" r="0.72" fill="#fff" opacity="0.8"/>
<circle cx="84.7" cy="226" r="2.05" fill="#ff1a1a"/>
<circle cx="84.1" cy="225.4" r="0.72" fill="#fff" opacity="0.8"/>
<circle cx="100.13" cy="207.3" r="2.05" fill="#ff1a1a"/>
<circle cx="99.53" cy="206.7" r="0.72" fill="#fff" opacity="0.8"/>
<circle cx="115.55" cy="216.8" r="2.05" fill="#ff1a1a"/>
<circle cx="114.95" cy="216.2" r="0.72" fill="#fff" opacity="0.8"/>
<circle cx="130.98" cy="260.1" r="2.05" fill="#ff1a1a"/>
<circle cx="130.38" cy="259.5" r="0.72" fill="#fff" opacity="0.8"/>
<circle cx="146.41" cy="294" r="2.05" fill="#ff1a1a"/>
<circle cx="145.81" cy="293.4" r="0.72" fill="#fff" opacity="0.8"/>
<circle cx="161.84" cy="297.3" r="2.05" fill="#ff1a1a"/>
<circle cx="161.24" cy="296.7" r="0.72" fill="#fff" opacity="0.8"/>
<circle cx="177.27" cy="298.1" r="2.05" fill="#ff1a1a"/>
<circle cx="176.67" cy="297.5" r="0.72" fill="#fff" opacity="0.8"/>
<circle cx="192.69" cy="298.2" r="2.05" fill="#ff1a1a"/>
<circle cx="192.09" cy="297.6" r="0.72" fill="#fff" opacity="0.8"/>
<circle cx="208.12" cy="298.2" r="2.05" fill="#ff1a1a"/>
<circle cx="207.52" cy="297.6" r="0.72" fill="#fff" opacity="0.8"/>
<line x1="30.6" y1="172.4" x2="216.2" y2="172.4" stroke="#1e1e1e" stroke-width="1.05" />
<line x1="30.6" y1="311.4" x2="216.2" y2="311.4" stroke="#1e1e1e" stroke-width="1.1" />
<line x1="30.6" y1="172.4" x2="30.6" y2="311.9" stroke="#2020ff" stroke-width="1.15" />
<line x1="216.2" y1="172.4" x2="216.2" y2="311.9" stroke="#ff4040" stroke-width="1.0" />
<line x1="30.6" y1="311.4" x2="32" y2="311.4" stroke="#2020ff" stroke-width="1.0" />
<line x1="30.6" y1="308.66" x2="32" y2="308.66" stroke="#2020ff" stroke-width="1.0" />
<line x1="30.6" y1="305.92" x2="32" y2="305.92" stroke="#2020ff" stroke-width="1.0" />
<line x1="30.6" y1="303.18" x2="32" y2="303.18" stroke="#2020ff" stroke-width="1.0" />
<line x1="30.6" y1="300.44" x2="32" y2="300.44" stroke="#2020ff" stroke-width="1.0" />
<line x1="30.6" y1="297.7" x2="32" y2="297.7" stroke="#2020ff" stroke-width="1.0" />
<line x1="30.6" y1="294.96" x2="32" y2="294.96" stroke="#2020ff" stroke-width="1.0" />
<line x1="30.6" y1="292.22" x2="32" y2="292.22" stroke="#2020ff" stroke-width="1.0" />
<line x1="30.6" y1="289.48" x2="32" y2="289.48" stroke="#2020ff" stroke-width="1.0" />
<line x1="30.6" y1="286.74" x2="32" y2="286.74" stroke="#2020ff" stroke-width="1.0" />
<line x1="30.6" y1="284" x2="32" y2="284" stroke="#2020ff" stroke-width="1.0" />
<line x1="30.6" y1="281.26" x2="32" y2="281.26" stroke="#2020ff" stroke-width="1.0" />
<line x1="30.6" y1="278.52" x2="32" y2="278.52" stroke="#2020ff" stroke-width="1.0" />
<line x1="30.6" y1="275.78" x2="32" y2="275.78" stroke="#2020ff" stroke-width="1.0" />
<line x1="30.6" y1="273.04" x2="32" y2="273.04" stroke="#2020ff" stroke-width="1.0" />
<line x1="30.6" y1="270.3" x2="32" y2="270.3" stroke="#2020ff" stroke-width="1.0" />
<line x1="30.6" y1="267.56" x2="32" y2="267.56" stroke="#2020ff" stroke-width="1.0" />
<line x1="30.6" y1="264.82" x2="32" y2="264.82" stroke="#2020ff" stroke-width="1.0" />
<line x1="30.6" y1="262.08" x2="32" y2="262.08" stroke="#2020ff" stroke-width="1.0" />
<line x1="30.6" y1="259.34" x2="32" y2="259.34" stroke="#2020ff" stroke-width="1.0" />
<line x1="30.6" y1="256.6" x2="32" y2="256.6" stroke="#2020ff" stroke-width="1.0" />
<line x1="30.6" y1="253.86" x2="32" y2="253.86" stroke="#2020ff" stroke-width="1.0" />
<line x1="30.6" y1="251.12" x2="32" y2="251.12" stroke="#2020ff" stroke-width="1.0" />
<line x1="30.6" y1="248.38" x2="32" y2="248.38" stroke="#2020ff" stroke-width="1.0" />
<line x1="30.6" y1="245.64" x2="32" y2="245.64" stroke="#2020ff" stroke-width="1.0" />
<line x1="30.6" y1="242.9" x2="32" y2="242.9" stroke="#2020ff" stroke-width="1.0" />
<line x1="30.6" y1="240.16" x2="32" y2="240.16" stroke="#2020ff" stroke-width="1.0" />
<line x1="30.6" y1="237.42" x2="32" y2="237.42" stroke="#2020ff" stroke-width="1.0" />
<line x1="30.6" y1="234.68" x2="32" y2="234.68" stroke="#2020ff" stroke-width="1.0" />
<line x1="30.6" y1="231.94" x2="32" y2="231.94" stroke="#2020ff" stroke-width="1.0" />
<line x1="30.6" y1="229.2" x2="32" y2="229.2" stroke="#2020ff" stroke-width="1.0" />
<line x1="30.6" y1="226.46" x2="32" y2="226.46" stroke="#2020ff" stroke-width="1.0" />
<line x1="30.6" y1="223.72" x2="32" y2="223.72" stroke="#2020ff" stroke-width="1.0" />
<line x1="30.6" y1="220.98" x2="32" y2="220.98" stroke="#2020ff" stroke-width="1.0" />
<line x1="30.6" y1="218.24" x2="32" y2="218.24" stroke="#2020ff" stroke-width="1.0" />
<line x1="30.6" y1="215.5" x2="32" y2="215.5" stroke="#2020ff" stroke-width="1.0" />
<line x1="30.6" y1="212.76" x2="32" y2="212.76" stroke="#2020ff" stroke-width="1.0" />
<line x1="30.6" y1="210.02" x2="32" y2="210.02" stroke="#2020ff" stroke-width="1.0" />
<line x1="30.6" y1="207.28" x2="32" y2="207.28" stroke="#2020ff" stroke-width="1.0" />
<line x1="30.6" y1="204.54" x2="32" y2="204.54" stroke="#2020ff" stroke-width="1.0" />
<line x1="30.6" y1="201.8" x2="32" y2="201.8" stroke="#2020ff" stroke-width="1.0" />
<line x1="30.6" y1="199.06" x2="32" y2="199.06" stroke="#2020ff" stroke-width="1.0" />
<line x1="30.6" y1="196.32" x2="32" y2="196.32" stroke="#2020ff" stroke-width="1.0" />
<line x1="30.6" y1="193.58" x2="32" y2="193.58" stroke="#2020ff" stroke-width="1.0" />
<line x1="30.6" y1="190.84" x2="32" y2="190.84" stroke="#2020ff" stroke-width="1.0" />
<line x1="30.6" y1="188.1" x2="32" y2="188.1" stroke="#2020ff" stroke-width="1.0" />
<line x1="30.6" y1="185.36" x2="32" y2="185.36" stroke="#2020ff" stroke-width="1.0" />
<line x1="30.6" y1="182.62" x2="32" y2="182.62" stroke="#2020ff" stroke-width="1.0" />
<line x1="30.6" y1="179.88" x2="32" y2="179.88" stroke="#2020ff" stroke-width="1.0" />
<line x1="30.6" y1="177.14" x2="32" y2="177.14" stroke="#2020ff" stroke-width="1.0" />
<line x1="30.6" y1="174.4" x2="32" y2="174.4" stroke="#2020ff" stroke-width="1.0" />
<line x1="30.6" y1="311.4" x2="33.4" y2="311.4" stroke="#2020ff" stroke-width="1.0" />
<line x1="30.6" y1="297.7" x2="33.4" y2="297.7" stroke="#2020ff" stroke-width="1.0" />
<line x1="30.6" y1="284" x2="33.4" y2="284" stroke="#2020ff" stroke-width="1.0" />
<line x1="30.6" y1="270.3" x2="33.4" y2="270.3" stroke="#2020ff" stroke-width="1.0" />
<line x1="30.6" y1="256.6" x2="33.4" y2="256.6" stroke="#2020ff" stroke-width="1.0" />
<line x1="30.6" y1="242.9" x2="33.4" y2="242.9" stroke="#2020ff" stroke-width="1.0" />
<line x1="30.6" y1="229.2" x2="33.4" y2="229.2" stroke="#2020ff" stroke-width="1.0" />
<line x1="30.6" y1="215.5" x2="33.4" y2="215.5" stroke="#2020ff" stroke-width="1.0" />
<line x1="30.6" y1="201.8" x2="33.4" y2="201.8" stroke="#2020ff" stroke-width="1.0" />
<line x1="30.6" y1="188.1" x2="33.4" y2="188.1" stroke="#2020ff" stroke-width="1.0" />
<line x1="30.6" y1="174.4" x2="33.4" y2="174.4" stroke="#2020ff" stroke-width="1.0" />
<line x1="216.2" y1="311.4" x2="214.8" y2="311.4" stroke="#ff5050" stroke-width="1.0" />
<line x1="216.2" y1="309.82" x2="214.8" y2="309.82" stroke="#ff5050" stroke-width="1.0" />
<line x1="216.2" y1="308.24" x2="214.8" y2="308.24" stroke="#ff5050" stroke-width="1.0" />
<line x1="216.2" y1="306.66" x2="214.8" y2="306.66" stroke="#ff5050" stroke-width="1.0" />
<line x1="216.2" y1="305.08" x2="214.8" y2="305.08" stroke="#ff5050" stroke-width="1.0" />
<line x1="216.2" y1="303.5" x2="214.8" y2="303.5" stroke="#ff5050" stroke-width="1.0" />
<line x1="216.2" y1="301.92" x2="214.8" y2="301.92" stroke="#ff5050" stroke-width="1.0" />
<line x1="216.2" y1="300.34" x2="214.8" y2="300.34" stroke="#ff5050" stroke-width="1.0" />
<line x1="216.2" y1="298.76" x2="214.8" y2="298.76" stroke="#ff5050" stroke-width="1.0" />
<line x1="216.2" y1="297.18" x2="214.8" y2="297.18" stroke="#ff5050" stroke-width="1.0" />
<line x1="216.2" y1="295.6" x2="214.8" y2="295.6" stroke="#ff5050" stroke-width="1.0" />
<line x1="216.2" y1="294.03" x2="214.8" y2="294.03" stroke="#ff5050" stroke-width="1.0" />
<line x1="216.2" y1="292.45" x2="214.8" y2="292.45" stroke="#ff5050" stroke-width="1.0" />
<line x1="216.2" y1="290.87" x2="214.8" y2="290.87" stroke="#ff5050" stroke-width="1.0" />
<line x1="216.2" y1="289.29" x2="214.8" y2="289.29" stroke="#ff5050" stroke-width="1.0" />
<line x1="216.2" y1="287.71" x2="214.8" y2="287.71" stroke="#ff5050" stroke-width="1.0" />
<line x1="216.2" y1="286.13" x2="214.8" y2="286.13" stroke="#ff5050" stroke-width="1.0" />
<line x1="216.2" y1="284.55" x2="214.8" y2="284.55" stroke="#ff5050" stroke-width="1.0" />
<line x1="216.2" y1="282.97" x2="214.8" y2="282.97" stroke="#ff5050" stroke-width="1.0" />
<line x1="216.2" y1="281.39" x2="214.8" y2="281.39" stroke="#ff5050" stroke-width="1.0" />
<line x1="216.2" y1="279.81" x2="214.8" y2="279.81" stroke="#ff5050" stroke-width="1.0" />
<line x1="216.2" y1="278.23" x2="214.8" y2="278.23" stroke="#ff5050" stroke-width="1.0" />
<line x1="216.2" y1="276.65" x2="214.8" y2="276.65" stroke="#ff5050" stroke-width="1.0" />
<line x1="216.2" y1="275.07" x2="214.8" y2="275.07" stroke="#ff5050" stroke-width="1.0" />
<line x1="216.2" y1="273.49" x2="214.8" y2="273.49" stroke="#ff5050" stroke-width="1.0" />
<line x1="216.2" y1="271.91" x2="214.8" y2="271.91" stroke="#ff5050" stroke-width="1.0" />
<line x1="216.2" y1="270.33" x2="214.8" y2="270.33" stroke="#ff5050" stroke-width="1.0" />
<line x1="216.2" y1="268.75" x2="214.8" y2="268.75" stroke="#ff5050" stroke-width="1.0" />
<line x1="216.2" y1="267.17" x2="214.8" y2="267.17" stroke="#ff5050" stroke-width="1.0" />
<line x1="216.2" y1="265.59" x2="214.8" y2="265.59" stroke="#ff5050" stroke-width="1.0" />
<line x1="216.2" y1="264.01" x2="214.8" y2="264.01" stroke="#ff5050" stroke-width="1.0" />
<line x1="216.2" y1="262.44" x2="214.8" y2="262.44" stroke="#ff5050" stroke-width="1.0" />
<line x1="216.2" y1="260.86" x2="214.8" y2="260.86" stroke="#ff5050" stroke-width="1.0" />
<line x1="216.2" y1="259.28" x2="214.8" y2="259.28" stroke="#ff5050" stroke-width="1.0" />
<line x1="216.2" y1="257.7" x2="214.8" y2="257.7" stroke="#ff5050" stroke-width="1.0" />
<line x1="216.2" y1="256.12" x2="214.8" y2="256.12" stroke="#ff5050" stroke-width="1.0" />
<line x1="216.2" y1="254.54" x2="214.8" y2="254.54" stroke="#ff5050" stroke-width="1.0" />
<line x1="216.2" y1="252.96" x2="214.8" y2="252.96" stroke="#ff5050" stroke-width="1.0" />
<line x1="216.2" y1="251.38" x2="214.8" y2="251.38" stroke="#ff5050" stroke-width="1.0" />
<line x1="216.2" y1="249.8" x2="214.8" y2="249.8" stroke="#ff5050" stroke-width="1.0" />
<line x1="216.2" y1="248.22" x2="214.8" y2="248.22" stroke="#ff5050" stroke-width="1.0" />
<line x1="216.2" y1="246.64" x2="214.8" y2="246.64" stroke="#ff5050" stroke-width="1.0" />
<line x1="216.2" y1="245.06" x2="214.8" y2="245.06" stroke="#ff5050" stroke-width="1.0" />
<line x1="216.2" y1="243.48" x2="214.8" y2="243.48" stroke="#ff5050" stroke-width="1.0" />
<line x1="216.2" y1="241.9" x2="214.8" y2="241.9" stroke="#ff5050" stroke-width="1.0" />
<line x1="216.2" y1="240.32" x2="214.8" y2="240.32" stroke="#ff5050" stroke-width="1.0" />
<line x1="216.2" y1="238.74" x2="214.8" y2="238.74" stroke="#ff5050" stroke-width="1.0" />
<line x1="216.2" y1="237.16" x2="214.8" y2="237.16" stroke="#ff5050" stroke-width="1.0" />
<line x1="216.2" y1="235.58" x2="214.8" y2="235.58" stroke="#ff5050" stroke-width="1.0" />
<line x1="216.2" y1="234" x2="214.8" y2="234" stroke="#ff5050" stroke-width="1.0" />
<line x1="216.2" y1="232.42" x2="214.8" y2="232.42" stroke="#ff5050" stroke-width="1.0" />
<line x1="216.2" y1="230.85" x2="214.8" y2="230.85" stroke="#ff5050" stroke-width="1.0" />
<line x1="216.2" y1="229.27" x2="214.8" y2="229.27" stroke="#ff5050" stroke-width="1.0" />
<line x1="216.2" y1="227.69" x2="214.8" y2="227.69" stroke="#ff5050" stroke-width="1.0" />
<line x1="216.2" y1="226.11" x2="214.8" y2="226.11" stroke="#ff5050" stroke-width="1.0" />
<line x1="216.2" y1="224.53" x2="214.8" y2="224.53" stroke="#ff5050" stroke-width="1.0" />
<line x1="216.2" y1="222.95" x2="214.8" y2="222.95" stroke="#ff5050" stroke-width="1.0" />
<line x1="216.2" y1="221.37" x2="214.8" y2="221.37" stroke="#ff5050" stroke-width="1.0" />
<line x1="216.2" y1="219.79" x2="214.8" y2="219.79" stroke="#ff5050" stroke-width="1.0" />
<line x1="216.2" y1="218.21" x2="214.8" y2="218.21" stroke="#ff5050" stroke-width="1.0" />
<line x1="216.2" y1="216.63" x2="214.8" y2="216.63" stroke="#ff5050" stroke-width="1.0" />
<line x1="216.2" y1="215.05" x2="214.8" y2="215.05" stroke="#ff5050" stroke-width="1.0" />
<line x1="216.2" y1="213.47" x2="214.8" y2="213.47" stroke="#ff5050" stroke-width="1.0" />
<line x1="216.2" y1="211.89" x2="214.8" y2="211.89" stroke="#ff5050" stroke-width="1.0" />
<line x1="216.2" y1="210.31" x2="214.8" y2="210.31" stroke="#ff5050" stroke-width="1.0" />
<line x1="216.2" y1="208.73" x2="214.8" y2="208.73" stroke="#ff5050" stroke-width="1.0" />
<line x1="216.2" y1="207.15" x2="214.8" y2="207.15" stroke="#ff5050" stroke-width="1.0" />
<line x1="216.2" y1="205.57" x2="214.8" y2="205.57" stroke="#ff5050" stroke-width="1.0" />
<line x1="216.2" y1="203.99" x2="214.8" y2="203.99" stroke="#ff5050" stroke-width="1.0" />
<line x1="216.2" y1="202.41" x2="214.8" y2="202.41" stroke="#ff5050" stroke-width="1.0" />
<line x1="216.2" y1="200.83" x2="214.8" y2="200.83" stroke="#ff5050" stroke-width="1.0" />
<line x1="216.2" y1="199.26" x2="214.8" y2="199.26" stroke="#ff5050" stroke-width="1.0" />
<line x1="216.2" y1="197.68" x2="214.8" y2="197.68" stroke="#ff5050" stroke-width="1.0" />
<line x1="216.2" y1="196.1" x2="214.8" y2="196.1" stroke="#ff5050" stroke-width="1.0" />
<line x1="216.2" y1="194.52" x2="214.8" y2="194.52" stroke="#ff5050" stroke-width="1.0" />
<line x1="216.2" y1="192.94" x2="214.8" y2="192.94" stroke="#ff5050" stroke-width="1.0" />
<line x1="216.2" y1="191.36" x2="214.8" y2="191.36" stroke="#ff5050" stroke-width="1.0" />
<line x1="216.2" y1="189.78" x2="214.8" y2="189.78" stroke="#ff5050" stroke-width="1.0" />
<line x1="216.2" y1="188.2" x2="214.8" y2="188.2" stroke="#ff5050" stroke-width="1.0" />
<line x1="216.2" y1="186.62" x2="214.8" y2="186.62" stroke="#ff5050" stroke-width="1.0" />
<line x1="216.2" y1="185.04" x2="214.8" y2="185.04" stroke="#ff5050" stroke-width="1.0" />
<line x1="216.2" y1="183.46" x2="214.8" y2="183.46" stroke="#ff5050" stroke-width="1.0" />
<line x1="216.2" y1="181.88" x2="214.8" y2="181.88" stroke="#ff5050" stroke-width="1.0" />
<line x1="216.2" y1="180.3" x2="214.8" y2="180.3" stroke="#ff5050" stroke-width="1.0" />
<line x1="216.2" y1="178.72" x2="214.8" y2="178.72" stroke="#ff5050" stroke-width="1.0" />
<line x1="216.2" y1="177.14" x2="214.8" y2="177.14" stroke="#ff5050" stroke-width="1.0" />
<line x1="216.2" y1="175.56" x2="214.8" y2="175.56" stroke="#ff5050" stroke-width="1.0" />
<line x1="216.2" y1="173.98" x2="214.8" y2="173.98" stroke="#ff5050" stroke-width="1.0" />
<line x1="216.2" y1="172.4" x2="214.8" y2="172.4" stroke="#ff5050" stroke-width="1.0" />
<line x1="216.2" y1="311.4" x2="213.4" y2="311.4" stroke="#ff5050" stroke-width="1.0" />
<line x1="216.2" y1="298.76" x2="213.4" y2="298.76" stroke="#ff5050" stroke-width="1.0" />
<line x1="216.2" y1="286.13" x2="213.4" y2="286.13" stroke="#ff5050" stroke-width="1.0" />
<line x1="216.2" y1="273.49" x2="213.4" y2="273.49" stroke="#ff5050" stroke-width="1.0" />
<line x1="216.2" y1="260.86" x2="213.4" y2="260.86" stroke="#ff5050" stroke-width="1.0" />
<line x1="216.2" y1="248.22" x2="213.4" y2="248.22" stroke="#ff5050" stroke-width="1.0" />
<line x1="216.2" y1="235.58" x2="213.4" y2="235.58" stroke="#ff5050" stroke-width="1.0" />
<line x1="216.2" y1="222.95" x2="213.4" y2="222.95" stroke="#ff5050" stroke-width="1.0" />
<line x1="216.2" y1="210.31" x2="213.4" y2="210.31" stroke="#ff5050" stroke-width="1.0" />
<line x1="216.2" y1="197.68" x2="213.4" y2="197.68" stroke="#ff5050" stroke-width="1.0" />
<line x1="216.2" y1="185.04" x2="213.4" y2="185.04" stroke="#ff5050" stroke-width="1.0" />
<line x1="216.2" y1="172.4" x2="213.4" y2="172.4" stroke="#ff5050" stroke-width="1.0" />
<line x1="36.87" y1="311.4" x2="36.87" y2="310" stroke="#1e1e1e" stroke-width="1.0" />
<line x1="43.04" y1="311.4" x2="43.04" y2="310" stroke="#1e1e1e" stroke-width="1.0" />
<line x1="49.21" y1="311.4" x2="49.21" y2="310" stroke="#1e1e1e" stroke-width="1.0" />
<line x1="55.38" y1="311.4" x2="55.38" y2="310" stroke="#1e1e1e" stroke-width="1.0" />
<line x1="61.56" y1="311.4" x2="61.56" y2="310" stroke="#1e1e1e" stroke-width="1.0" />
<line x1="67.73" y1="311.4" x2="67.73" y2="310" stroke="#1e1e1e" stroke-width="1.0" />
<line x1="73.9" y1="311.4" x2="73.9" y2="310" stroke="#1e1e1e" stroke-width="1.0" />
<line x1="80.07" y1="311.4" x2="80.07" y2="310" stroke="#1e1e1e" stroke-width="1.0" />
<line x1="86.24" y1="311.4" x2="86.24" y2="310" stroke="#1e1e1e" stroke-width="1.0" />
<line x1="92.41" y1="311.4" x2="92.41" y2="310" stroke="#1e1e1e" stroke-width="1.0" />
<line x1="98.58" y1="311.4" x2="98.58" y2="310" stroke="#1e1e1e" stroke-width="1.0" />
<line x1="104.75" y1="311.4" x2="104.75" y2="310" stroke="#1e1e1e" stroke-width="1.0" />
<line x1="110.93" y1="311.4" x2="110.93" y2="310" stroke="#1e1e1e" stroke-width="1.0" />
<line x1="117.1" y1="311.4" x2="117.1" y2="310" stroke="#1e1e1e" stroke-width="1.0" />
<line x1="123.27" y1="311.4" x2="123.27" y2="310" stroke="#1e1e1e" stroke-width="1.0" />
<line x1="129.44" y1="311.4" x2="129.44" y2="310" stroke="#1e1e1e" stroke-width="1.0" />
<line x1="135.61" y1="311.4" x2="135.61" y2="310" stroke="#1e1e1e" stroke-width="1.0" />
<line x1="141.78" y1="311.4" x2="141.78" y2="310" stroke="#1e1e1e" stroke-width="1.0" />
<line x1="147.95" y1="311.4" x2="147.95" y2="310" stroke="#1e1e1e" stroke-width="1.0" />
<line x1="154.12" y1="311.4" x2="154.12" y2="310" stroke="#1e1e1e" stroke-width="1.0" />
<line x1="160.3" y1="311.4" x2="160.3" y2="310" stroke="#1e1e1e" stroke-width="1.0" />
<line x1="166.47" y1="311.4" x2="166.47" y2="310" stroke="#1e1e1e" stroke-width="1.0" />
<line x1="172.64" y1="311.4" x2="172.64" y2="310" stroke="#1e1e1e" stroke-width="1.0" />
<line x1="178.81" y1="311.4" x2="178.81" y2="310" stroke="#1e1e1e" stroke-width="1.0" />
<line x1="184.98" y1="311.4" x2="184.98" y2="310" stroke="#1e1e1e" stroke-width="1.0" />
<line x1="191.15" y1="311.4" x2="191.15" y2="310" stroke="#1e1e1e" stroke-width="1.0" />
<line x1="197.32" y1="311.4" x2="197.32" y2="310" stroke="#1e1e1e" stroke-width="1.0" />
<line x1="203.49" y1="311.4" x2="203.49" y2="310" stroke="#1e1e1e" stroke-width="1.0" />
<line x1="209.66" y1="311.4" x2="209.66" y2="310" stroke="#1e1e1e" stroke-width="1.0" />
<line x1="215.84" y1="311.4" x2="215.84" y2="310" stroke="#1e1e1e" stroke-width="1.0" />
<line x1="61.56" y1="311.4" x2="61.56" y2="308.6" stroke="#1e1e1e" stroke-width="1.0" />
<line x1="92.41" y1="311.4" x2="92.41" y2="308.6" stroke="#1e1e1e" stroke-width="1.0" />
<line x1="123.27" y1="311.4" x2="123.27" y2="308.6" stroke="#1e1e1e" stroke-width="1.0" />
<line x1="154.12" y1="311.4" x2="154.12" y2="308.6" stroke="#1e1e1e" stroke-width="1.0" />
<line x1="184.98" y1="311.4" x2="184.98" y2="308.6" stroke="#1e1e1e" stroke-width="1.0" />
<line x1="215.84" y1="311.4" x2="215.84" y2="308.6" stroke="#1e1e1e" stroke-width="1.0" />
<text x="27.3" y="178.8" font-size="10.2" text-anchor="end" fill="#1f1ff0" stroke="#1f1ff0" stroke-width="0.12" >1.1</text>
<text x="27.3" y="192.5" font-size="10.2" text-anchor="end" fill="#1f1ff0" stroke="#1f1ff0" stroke-width="0.12" >1.0</text>
<text x="27.3" y="206.2" font-size="10.2" text-anchor="end" fill="#1f1ff0" stroke="#1f1ff0" stroke-width="0.12" >0.9</text>
<text x="27.3" y="219.9" font-size="10.2" text-anchor="end" fill="#1f1ff0" stroke="#1f1ff0" stroke-width="0.12" >0.8</text>
<text x="27.3" y="233.6" font-size="10.2" text-anchor="end" fill="#1f1ff0" stroke="#1f1ff0" stroke-width="0.12" >0.7</text>
<text x="27.3" y="247.3" font-size="10.2" text-anchor="end" fill="#1f1ff0" stroke="#1f1ff0" stroke-width="0.12" >0.6</text>
<text x="27.3" y="261" font-size="10.2" text-anchor="end" fill="#1f1ff0" stroke="#1f1ff0" stroke-width="0.12" >0.5</text>
<text x="27.3" y="274.7" font-size="10.2" text-anchor="end" fill="#1f1ff0" stroke="#1f1ff0" stroke-width="0.12" >0.4</text>
<text x="27.3" y="288.4" font-size="10.2" text-anchor="end" fill="#1f1ff0" stroke="#1f1ff0" stroke-width="0.12" >0.3</text>
<text x="27.3" y="302.1" font-size="10.2" text-anchor="end" fill="#1f1ff0" stroke="#1f1ff0" stroke-width="0.12" >0.2</text>
<text x="27.3" y="315.8" font-size="10.2" text-anchor="end" fill="#1f1ff0" stroke="#1f1ff0" stroke-width="0.12" >0.1</text>
<text x="217.4" y="315.5" font-size="10" text-anchor="start" fill="#ff2020" stroke="#ff2020" stroke-width="0.12" >0</text>
<text x="217.4" y="302.56" font-size="10" text-anchor="start" fill="#ff2020" stroke="#ff2020" stroke-width="0.12" >2</text>
<text x="217.4" y="289.93" font-size="10" text-anchor="start" fill="#ff2020" stroke="#ff2020" stroke-width="0.12" >4</text>
<text x="217.4" y="277.29" font-size="10" text-anchor="start" fill="#ff2020" stroke="#ff2020" stroke-width="0.12" >6</text>
<text x="217.4" y="264.66" font-size="10" text-anchor="start" fill="#ff2020" stroke="#ff2020" stroke-width="0.12" >8</text>
<text x="217.4" y="252.02" font-size="10" text-anchor="start" fill="#ff2020" stroke="#ff2020" stroke-width="0.12" >10</text>
<text x="217.4" y="239.38" font-size="10" text-anchor="start" fill="#ff2020" stroke="#ff2020" stroke-width="0.12" >12</text>
<text x="217.4" y="226.75" font-size="10" text-anchor="start" fill="#ff2020" stroke="#ff2020" stroke-width="0.12" >14</text>
<text x="217.4" y="214.11" font-size="10" text-anchor="start" fill="#ff2020" stroke="#ff2020" stroke-width="0.12" >16</text>
<text x="217.4" y="201.48" font-size="10" text-anchor="start" fill="#ff2020" stroke="#ff2020" stroke-width="0.12" >18</text>
<text x="217.4" y="188.84" font-size="10" text-anchor="start" fill="#ff2020" stroke="#ff2020" stroke-width="0.12" >20</text>
<text x="217.4" y="176.9" font-size="10" text-anchor="start" fill="#ff2020" stroke="#ff2020" stroke-width="0.12" >22</text>
<text x="34.2" y="323.9" font-size="10.1" text-anchor="middle" fill="#111" stroke="#111" stroke-width="0.12" >240</text>
<text x="61.6" y="323.9" font-size="10.1" text-anchor="middle" fill="#111" stroke="#111" stroke-width="0.12" >280</text>
<text x="92.8" y="323.9" font-size="10.1" text-anchor="middle" fill="#111" stroke="#111" stroke-width="0.12" >320</text>
<text x="124" y="323.9" font-size="10.1" text-anchor="middle" fill="#111" stroke="#111" stroke-width="0.12" >360</text>
<text x="155.2" y="323.9" font-size="10.1" text-anchor="middle" fill="#111" stroke="#111" stroke-width="0.12" >400</text>
<text x="186.4" y="323.9" font-size="10.1" text-anchor="middle" fill="#111" stroke="#111" stroke-width="0.12" >440</text>
<text x="211.2" y="323.9" font-size="10.1" text-anchor="middle" fill="#111" stroke="#111" stroke-width="0.12" >480</text>
<text x="123.5" y="333.8" font-size="10.6" text-anchor="middle" fill="#111" stroke="#111" stroke-width="0.12" >Wavelength (nm)</text>
<text x="0" y="0" font-size="10.5" text-anchor="middle" fill="#1f1ff0" stroke="#1f1ff0" stroke-width="0.12" transform="translate(8.9,243.5) rotate(-90)">Responsivity (A/W)</text>
<text x="0" y="0" font-size="10.75" text-anchor="middle" fill="#ff2020" stroke="#ff2020" stroke-width="0.12" transform="translate(238.2,241.3) rotate(-90)">Detectivity (×10<tspan font-size="6.6" dy="-3.7">12</tspan><tspan dy="3.7"> Jones)</tspan></text>
<text x="0.4" y="179.3" font-size="16.2" text-anchor="start" fill="#111" stroke="#111" stroke-width="0.45" >d</text>
<text x="209.2" y="184.4" font-size="9" text-anchor="end" fill="#111" stroke="#111" stroke-width="0.12" >-2 V / 50 µW/cm<tspan font-size="5.8" dy="-3.4">2</tspan></text>
<circle cx="279.51" cy="246" r="2.1" fill="#2a2aff"/>
<circle cx="278.91" cy="245.3" r="0.8" fill="#fff" opacity="0.75"/>
<circle cx="294.94" cy="230.5" r="2.1" fill="#2a2aff"/>
<circle cx="294.34" cy="229.8" r="0.8" fill="#fff" opacity="0.75"/>
<circle cx="310.38" cy="223.3" r="2.1" fill="#2a2aff"/>
<circle cx="309.77" cy="222.6" r="0.8" fill="#fff" opacity="0.75"/>
<circle cx="325.81" cy="217.5" r="2.1" fill="#2a2aff"/>
<circle cx="325.2" cy="216.8" r="0.8" fill="#fff" opacity="0.75"/>
<circle cx="341.24" cy="212.8" r="2.1" fill="#2a2aff"/>
<circle cx="340.63" cy="212.1" r="0.8" fill="#fff" opacity="0.75"/>
<circle cx="356.67" cy="212.4" r="2.1" fill="#2a2aff"/>
<circle cx="356.06" cy="211.7" r="0.8" fill="#fff" opacity="0.75"/>
<circle cx="372.1" cy="220.7" r="2.1" fill="#2a2aff"/>
<circle cx="371.5" cy="220" r="0.8" fill="#fff" opacity="0.75"/>
<circle cx="387.52" cy="241.7" r="2.1" fill="#2a2aff"/>
<circle cx="386.92" cy="241" r="0.8" fill="#fff" opacity="0.75"/>
<circle cx="402.96" cy="251.7" r="2.1" fill="#2a2aff"/>
<circle cx="402.36" cy="251" r="0.8" fill="#fff" opacity="0.75"/>
<circle cx="418.38" cy="272.4" r="2.1" fill="#2a2aff"/>
<circle cx="417.78" cy="271.7" r="0.8" fill="#fff" opacity="0.75"/>
<circle cx="433.81" cy="278.6" r="2.1" fill="#2a2aff"/>
<circle cx="433.21" cy="277.9" r="0.8" fill="#fff" opacity="0.75"/>
<circle cx="449.25" cy="290" r="2.1" fill="#2a2aff"/>
<circle cx="448.64" cy="289.3" r="0.8" fill="#fff" opacity="0.75"/>
<rect x="271.6" y="172.4" width="185.8" height="139" fill="none" stroke="#1e1e1e" stroke-width="1.05"/>
<line x1="271.6" y1="311.4" x2="274.4" y2="311.4" stroke="#1e1e1e" stroke-width="1.0" />
<line x1="271.6" y1="304.43" x2="273" y2="304.43" stroke="#1e1e1e" stroke-width="1.0" />
<line x1="271.6" y1="300.35" x2="273" y2="300.35" stroke="#1e1e1e" stroke-width="1.0" />
<line x1="271.6" y1="297.45" x2="273" y2="297.45" stroke="#1e1e1e" stroke-width="1.0" />
<line x1="271.6" y1="295.2" x2="273" y2="295.2" stroke="#1e1e1e" stroke-width="1.0" />
<line x1="271.6" y1="293.37" x2="273" y2="293.37" stroke="#1e1e1e" stroke-width="1.0" />
<line x1="271.6" y1="291.82" x2="273" y2="291.82" stroke="#1e1e1e" stroke-width="1.0" />
<line x1="271.6" y1="290.48" x2="273" y2="290.48" stroke="#1e1e1e" stroke-width="1.0" />
<line x1="271.6" y1="289.29" x2="273" y2="289.29" stroke="#1e1e1e" stroke-width="1.0" />
<line x1="271.6" y1="288.23" x2="274.4" y2="288.23" stroke="#1e1e1e" stroke-width="1.0" />
<line x1="271.6" y1="281.26" x2="273" y2="281.26" stroke="#1e1e1e" stroke-width="1.0" />
<line x1="271.6" y1="277.18" x2="273" y2="277.18" stroke="#1e1e1e" stroke-width="1.0" />
<line x1="271.6" y1="274.28" x2="273" y2="274.28" stroke="#1e1e1e" stroke-width="1.0" />
<line x1="271.6" y1="272.03" x2="273" y2="272.03" stroke="#1e1e1e" stroke-width="1.0" />
<line x1="271.6" y1="270.2" x2="273" y2="270.2" stroke="#1e1e1e" stroke-width="1.0" />
<line x1="271.6" y1="268.65" x2="273" y2="268.65" stroke="#1e1e1e" stroke-width="1.0" />
<line x1="271.6" y1="267.31" x2="273" y2="267.31" stroke="#1e1e1e" stroke-width="1.0" />
<line x1="271.6" y1="266.12" x2="273" y2="266.12" stroke="#1e1e1e" stroke-width="1.0" />
<line x1="271.6" y1="265.06" x2="274.4" y2="265.06" stroke="#1e1e1e" stroke-width="1.0" />
<line x1="271.6" y1="258.09" x2="273" y2="258.09" stroke="#1e1e1e" stroke-width="1.0" />
<line x1="271.6" y1="254.01" x2="273" y2="254.01" stroke="#1e1e1e" stroke-width="1.0" />
<line x1="271.6" y1="251.11" x2="273" y2="251.11" stroke="#1e1e1e" stroke-width="1.0" />
<line x1="271.6" y1="248.86" x2="273" y2="248.86" stroke="#1e1e1e" stroke-width="1.0" />
<line x1="271.6" y1="247.03" x2="273" y2="247.03" stroke="#1e1e1e" stroke-width="1.0" />
<line x1="271.6" y1="245.48" x2="273" y2="245.48" stroke="#1e1e1e" stroke-width="1.0" />
<line x1="271.6" y1="244.14" x2="273" y2="244.14" stroke="#1e1e1e" stroke-width="1.0" />
<line x1="271.6" y1="242.95" x2="273" y2="242.95" stroke="#1e1e1e" stroke-width="1.0" />
<line x1="271.6" y1="241.89" x2="274.4" y2="241.89" stroke="#1e1e1e" stroke-width="1.0" />
<line x1="271.6" y1="234.92" x2="273" y2="234.92" stroke="#1e1e1e" stroke-width="1.0" />
<line x1="271.6" y1="230.84" x2="273" y2="230.84" stroke="#1e1e1e" stroke-width="1.0" />
<line x1="271.6" y1="227.94" x2="273" y2="227.94" stroke="#1e1e1e" stroke-width="1.0" />
<line x1="271.6" y1="225.69" x2="273" y2="225.69" stroke="#1e1e1e" stroke-width="1.0" />
<line x1="271.6" y1="223.86" x2="273" y2="223.86" stroke="#1e1e1e" stroke-width="1.0" />
<line x1="271.6" y1="222.31" x2="273" y2="222.31" stroke="#1e1e1e" stroke-width="1.0" />
<line x1="271.6" y1="220.97" x2="273" y2="220.97" stroke="#1e1e1e" stroke-width="1.0" />
<line x1="271.6" y1="219.78" x2="273" y2="219.78" stroke="#1e1e1e" stroke-width="1.0" />
<line x1="271.6" y1="218.72" x2="274.4" y2="218.72" stroke="#1e1e1e" stroke-width="1.0" />
<line x1="271.6" y1="211.75" x2="273" y2="211.75" stroke="#1e1e1e" stroke-width="1.0" />
<line x1="271.6" y1="207.67" x2="273" y2="207.67" stroke="#1e1e1e" stroke-width="1.0" />
<line x1="271.6" y1="204.77" x2="273" y2="204.77" stroke="#1e1e1e" stroke-width="1.0" />
<line x1="271.6" y1="202.52" x2="273" y2="202.52" stroke="#1e1e1e" stroke-width="1.0" />
<line x1="271.6" y1="200.69" x2="273" y2="200.69" stroke="#1e1e1e" stroke-width="1.0" />
<line x1="271.6" y1="199.14" x2="273" y2="199.14" stroke="#1e1e1e" stroke-width="1.0" />
<line x1="271.6" y1="197.8" x2="273" y2="197.8" stroke="#1e1e1e" stroke-width="1.0" />
<line x1="271.6" y1="196.61" x2="273" y2="196.61" stroke="#1e1e1e" stroke-width="1.0" />
<line x1="271.6" y1="195.55" x2="274.4" y2="195.55" stroke="#1e1e1e" stroke-width="1.0" />
<line x1="271.6" y1="188.58" x2="273" y2="188.58" stroke="#1e1e1e" stroke-width="1.0" />
<line x1="271.6" y1="184.5" x2="273" y2="184.5" stroke="#1e1e1e" stroke-width="1.0" />
<line x1="271.6" y1="181.6" x2="273" y2="181.6" stroke="#1e1e1e" stroke-width="1.0" />
<line x1="271.6" y1="179.35" x2="273" y2="179.35" stroke="#1e1e1e" stroke-width="1.0" />
<line x1="271.6" y1="177.52" x2="273" y2="177.52" stroke="#1e1e1e" stroke-width="1.0" />
<line x1="271.6" y1="175.97" x2="273" y2="175.97" stroke="#1e1e1e" stroke-width="1.0" />
<line x1="271.6" y1="174.63" x2="273" y2="174.63" stroke="#1e1e1e" stroke-width="1.0" />
<line x1="271.6" y1="173.44" x2="273" y2="173.44" stroke="#1e1e1e" stroke-width="1.0" />
<line x1="271.6" y1="172.38" x2="274.4" y2="172.38" stroke="#1e1e1e" stroke-width="1.0" />
<line x1="277.97" y1="311.4" x2="277.97" y2="310" stroke="#1e1e1e" stroke-width="1.0" />
<line x1="284.14" y1="311.4" x2="284.14" y2="310" stroke="#1e1e1e" stroke-width="1.0" />
<line x1="290.32" y1="311.4" x2="290.32" y2="310" stroke="#1e1e1e" stroke-width="1.0" />
<line x1="296.49" y1="311.4" x2="296.49" y2="310" stroke="#1e1e1e" stroke-width="1.0" />
<line x1="302.66" y1="311.4" x2="302.66" y2="310" stroke="#1e1e1e" stroke-width="1.0" />
<line x1="308.83" y1="311.4" x2="308.83" y2="310" stroke="#1e1e1e" stroke-width="1.0" />
<line x1="315" y1="311.4" x2="315" y2="310" stroke="#1e1e1e" stroke-width="1.0" />
<line x1="321.18" y1="311.4" x2="321.18" y2="310" stroke="#1e1e1e" stroke-width="1.0" />
<line x1="327.35" y1="311.4" x2="327.35" y2="310" stroke="#1e1e1e" stroke-width="1.0" />
<line x1="333.52" y1="311.4" x2="333.52" y2="310" stroke="#1e1e1e" stroke-width="1.0" />
<line x1="339.69" y1="311.4" x2="339.69" y2="310" stroke="#1e1e1e" stroke-width="1.0" />
<line x1="345.86" y1="311.4" x2="345.86" y2="310" stroke="#1e1e1e" stroke-width="1.0" />
<line x1="352.04" y1="311.4" x2="352.04" y2="310" stroke="#1e1e1e" stroke-width="1.0" />
<line x1="358.21" y1="311.4" x2="358.21" y2="310" stroke="#1e1e1e" stroke-width="1.0" />
<line x1="364.38" y1="311.4" x2="364.38" y2="310" stroke="#1e1e1e" stroke-width="1.0" />
<line x1="370.55" y1="311.4" x2="370.55" y2="310" stroke="#1e1e1e" stroke-width="1.0" />
<line x1="376.72" y1="311.4" x2="376.72" y2="310" stroke="#1e1e1e" stroke-width="1.0" />
<line x1="382.9" y1="311.4" x2="382.9" y2="310" stroke="#1e1e1e" stroke-width="1.0" />
<line x1="389.07" y1="311.4" x2="389.07" y2="310" stroke="#1e1e1e" stroke-width="1.0" />
<line x1="395.24" y1="311.4" x2="395.24" y2="310" stroke="#1e1e1e" stroke-width="1.0" />
<line x1="401.41" y1="311.4" x2="401.41" y2="310" stroke="#1e1e1e" stroke-width="1.0" />
<line x1="407.58" y1="311.4" x2="407.58" y2="310" stroke="#1e1e1e" stroke-width="1.0" />
<line x1="413.76" y1="311.4" x2="413.76" y2="310" stroke="#1e1e1e" stroke-width="1.0" />
<line x1="419.93" y1="311.4" x2="419.93" y2="310" stroke="#1e1e1e" stroke-width="1.0" />
<line x1="426.1" y1="311.4" x2="426.1" y2="310" stroke="#1e1e1e" stroke-width="1.0" />
<line x1="432.27" y1="311.4" x2="432.27" y2="310" stroke="#1e1e1e" stroke-width="1.0" />
<line x1="438.44" y1="311.4" x2="438.44" y2="310" stroke="#1e1e1e" stroke-width="1.0" />
<line x1="444.62" y1="311.4" x2="444.62" y2="310" stroke="#1e1e1e" stroke-width="1.0" />
<line x1="450.79" y1="311.4" x2="450.79" y2="310" stroke="#1e1e1e" stroke-width="1.0" />
<line x1="456.96" y1="311.4" x2="456.96" y2="310" stroke="#1e1e1e" stroke-width="1.0" />
<line x1="302.66" y1="311.4" x2="302.66" y2="308.6" stroke="#1e1e1e" stroke-width="1.0" />
<line x1="333.52" y1="311.4" x2="333.52" y2="308.6" stroke="#1e1e1e" stroke-width="1.0" />
<line x1="364.38" y1="311.4" x2="364.38" y2="308.6" stroke="#1e1e1e" stroke-width="1.0" />
<line x1="395.24" y1="311.4" x2="395.24" y2="308.6" stroke="#1e1e1e" stroke-width="1.0" />
<line x1="426.1" y1="311.4" x2="426.1" y2="308.6" stroke="#1e1e1e" stroke-width="1.0" />
<line x1="456.96" y1="311.4" x2="456.96" y2="308.6" stroke="#1e1e1e" stroke-width="1.0" />
<text x="270" y="316.35" font-size="10.2" text-anchor="end" fill="#111" stroke="#111" stroke-width="0.12">10<tspan font-size="6.12" dy="-3.6">0</tspan></text>
<text x="270" y="291.98" font-size="10.2" text-anchor="end" fill="#111" stroke="#111" stroke-width="0.12">10<tspan font-size="6.12" dy="-3.6">1</tspan></text>
<text x="270" y="268.81" font-size="10.2" text-anchor="end" fill="#111" stroke="#111" stroke-width="0.12">10<tspan font-size="6.12" dy="-3.6">2</tspan></text>
<text x="270" y="245.64" font-size="10.2" text-anchor="end" fill="#111" stroke="#111" stroke-width="0.12">10<tspan font-size="6.12" dy="-3.6">3</tspan></text>
<text x="270" y="222.47" font-size="10.2" text-anchor="end" fill="#111" stroke="#111" stroke-width="0.12">10<tspan font-size="6.12" dy="-3.6">4</tspan></text>
<text x="270" y="199.3" font-size="10.2" text-anchor="end" fill="#111" stroke="#111" stroke-width="0.12">10<tspan font-size="6.12" dy="-3.6">5</tspan></text>
<text x="270" y="175.53" font-size="10.2" text-anchor="end" fill="#111" stroke="#111" stroke-width="0.12">10<tspan font-size="6.12" dy="-3.6">6</tspan></text>
<text x="274" y="324.6" font-size="10.3" text-anchor="middle" fill="#111" stroke="#111" stroke-width="0.12" >240</text>
<text x="302.9" y="324.6" font-size="10.3" text-anchor="middle" fill="#111" stroke="#111" stroke-width="0.12" >280</text>
<text x="334.2" y="324.6" font-size="10.3" text-anchor="middle" fill="#111" stroke="#111" stroke-width="0.12" >320</text>
<text x="365.8" y="324.6" font-size="10.3" text-anchor="middle" fill="#111" stroke="#111" stroke-width="0.12" >360</text>
<text x="397.1" y="324.6" font-size="10.3" text-anchor="middle" fill="#111" stroke="#111" stroke-width="0.12" >400</text>
<text x="428.6" y="324.6" font-size="10.3" text-anchor="middle" fill="#111" stroke="#111" stroke-width="0.12" >440</text>
<text x="455.7" y="324.6" font-size="10.3" text-anchor="middle" fill="#111" stroke="#111" stroke-width="0.12" >480</text>
<text x="364.3" y="333.8" font-size="10.6" text-anchor="middle" fill="#111" stroke="#111" stroke-width="0.12" >Wavelength (nm)</text>
<text x="0" y="0" font-size="11.8" text-anchor="middle" fill="#111" stroke="#111" stroke-width="0.12" transform="translate(250.5,241.2) rotate(-90)">I<tspan font-size="7.2" dy="2.8">on</tspan><tspan dy="-2.8">/I</tspan><tspan font-size="7.2" dy="2.8">off</tspan></text>
<text x="237.6" y="180.2" font-size="16.2" text-anchor="start" fill="#111" stroke="#111" stroke-width="0.45" >e</text>
<text x="452.4" y="183.9" font-size="9" text-anchor="end" fill="#111" stroke="#111" stroke-width="0.12" >-2 V / 50 µW/cm<tspan font-size="5.8" dy="-3.4">2</tspan></text>
<rect x="491.5" y="172.4" width="185.5" height="138.9" fill="none" stroke="#1e1e1e" stroke-width="1.05"/>
<rect x="582.4" y="170.9" width="3.2" height="3" fill="#fff"/>
<line x1="581.4" y1="173.8" x2="583.4" y2="170.8" stroke="#1e1e1e" stroke-width="0.8" />
<line x1="583.8" y1="173.8" x2="585.8" y2="170.8" stroke="#1e1e1e" stroke-width="0.8" />
<rect x="582.4" y="309.8" width="3.2" height="3" fill="#fff"/>
<line x1="581.4" y1="312.7" x2="583.4" y2="309.7" stroke="#1e1e1e" stroke-width="0.8" />
<line x1="583.8" y1="312.7" x2="585.8" y2="309.7" stroke="#1e1e1e" stroke-width="0.8" />
<line x1="491.3" y1="311.3" x2="491.3" y2="308.5" stroke="#1e1e1e" stroke-width="1.0" />
<line x1="495.02" y1="311.3" x2="495.02" y2="309.9" stroke="#1e1e1e" stroke-width="1.0" />
<line x1="498.74" y1="311.3" x2="498.74" y2="309.9" stroke="#1e1e1e" stroke-width="1.0" />
<line x1="502.46" y1="311.3" x2="502.46" y2="309.9" stroke="#1e1e1e" stroke-width="1.0" />
<line x1="506.18" y1="311.3" x2="506.18" y2="309.9" stroke="#1e1e1e" stroke-width="1.0" />
<line x1="509.9" y1="311.3" x2="509.9" y2="308.5" stroke="#1e1e1e" stroke-width="1.0" />
<line x1="513.62" y1="311.3" x2="513.62" y2="309.9" stroke="#1e1e1e" stroke-width="1.0" />
<line x1="517.34" y1="311.3" x2="517.34" y2="309.9" stroke="#1e1e1e" stroke-width="1.0" />
<line x1="521.06" y1="311.3" x2="521.06" y2="309.9" stroke="#1e1e1e" stroke-width="1.0" />
<line x1="524.78" y1="311.3" x2="524.78" y2="309.9" stroke="#1e1e1e" stroke-width="1.0" />
<line x1="528.5" y1="311.3" x2="528.5" y2="308.5" stroke="#1e1e1e" stroke-width="1.0" />
<line x1="532.22" y1="311.3" x2="532.22" y2="309.9" stroke="#1e1e1e" stroke-width="1.0" />
<line x1="535.94" y1="311.3" x2="535.94" y2="309.9" stroke="#1e1e1e" stroke-width="1.0" />
<line x1="539.66" y1="311.3" x2="539.66" y2="309.9" stroke="#1e1e1e" stroke-width="1.0" />
<line x1="543.38" y1="311.3" x2="543.38" y2="309.9" stroke="#1e1e1e" stroke-width="1.0" />
<line x1="547.1" y1="311.3" x2="547.1" y2="308.5" stroke="#1e1e1e" stroke-width="1.0" />
<line x1="550.82" y1="311.3" x2="550.82" y2="309.9" stroke="#1e1e1e" stroke-width="1.0" />
<line x1="554.54" y1="311.3" x2="554.54" y2="309.9" stroke="#1e1e1e" stroke-width="1.0" />
<line x1="558.26" y1="311.3" x2="558.26" y2="309.9" stroke="#1e1e1e" stroke-width="1.0" />
<line x1="561.98" y1="311.3" x2="561.98" y2="309.9" stroke="#1e1e1e" stroke-width="1.0" />
<line x1="565.7" y1="311.3" x2="565.7" y2="308.5" stroke="#1e1e1e" stroke-width="1.0" />
<line x1="569.42" y1="311.3" x2="569.42" y2="309.9" stroke="#1e1e1e" stroke-width="1.0" />
<line x1="573.14" y1="311.3" x2="573.14" y2="309.9" stroke="#1e1e1e" stroke-width="1.0" />
<line x1="576.86" y1="311.3" x2="576.86" y2="309.9" stroke="#1e1e1e" stroke-width="1.0" />
<line x1="580.58" y1="311.3" x2="580.58" y2="309.9" stroke="#1e1e1e" stroke-width="1.0" />
<line x1="589.5" y1="311.3" x2="589.5" y2="309.9" stroke="#1e1e1e" stroke-width="1.0" />
<line x1="593.1" y1="311.3" x2="593.1" y2="309.9" stroke="#1e1e1e" stroke-width="1.0" />
<line x1="596.7" y1="311.3" x2="596.7" y2="309.9" stroke="#1e1e1e" stroke-width="1.0" />
<line x1="600.3" y1="311.3" x2="600.3" y2="309.9" stroke="#1e1e1e" stroke-width="1.0" />
<line x1="603.9" y1="311.3" x2="603.9" y2="308.5" stroke="#1e1e1e" stroke-width="1.0" />
<line x1="607.5" y1="311.3" x2="607.5" y2="309.9" stroke="#1e1e1e" stroke-width="1.0" />
<line x1="611.1" y1="311.3" x2="611.1" y2="309.9" stroke="#1e1e1e" stroke-width="1.0" />
<line x1="614.7" y1="311.3" x2="614.7" y2="309.9" stroke="#1e1e1e" stroke-width="1.0" />
<line x1="618.3" y1="311.3" x2="618.3" y2="309.9" stroke="#1e1e1e" stroke-width="1.0" />
<line x1="621.9" y1="311.3" x2="621.9" y2="308.5" stroke="#1e1e1e" stroke-width="1.0" />
<line x1="625.5" y1="311.3" x2="625.5" y2="309.9" stroke="#1e1e1e" stroke-width="1.0" />
<line x1="629.1" y1="311.3" x2="629.1" y2="309.9" stroke="#1e1e1e" stroke-width="1.0" />
<line x1="632.7" y1="311.3" x2="632.7" y2="309.9" stroke="#1e1e1e" stroke-width="1.0" />
<line x1="636.3" y1="311.3" x2="636.3" y2="309.9" stroke="#1e1e1e" stroke-width="1.0" />
<line x1="639.9" y1="311.3" x2="639.9" y2="308.5" stroke="#1e1e1e" stroke-width="1.0" />
<line x1="643.5" y1="311.3" x2="643.5" y2="309.9" stroke="#1e1e1e" stroke-width="1.0" />
<line x1="647.1" y1="311.3" x2="647.1" y2="309.9" stroke="#1e1e1e" stroke-width="1.0" />
<line x1="650.7" y1="311.3" x2="650.7" y2="309.9" stroke="#1e1e1e" stroke-width="1.0" />
<line x1="654.3" y1="311.3" x2="654.3" y2="309.9" stroke="#1e1e1e" stroke-width="1.0" />
<line x1="657.9" y1="311.3" x2="657.9" y2="308.5" stroke="#1e1e1e" stroke-width="1.0" />
<line x1="661.5" y1="311.3" x2="661.5" y2="309.9" stroke="#1e1e1e" stroke-width="1.0" />
<line x1="665.1" y1="311.3" x2="665.1" y2="309.9" stroke="#1e1e1e" stroke-width="1.0" />
<line x1="668.7" y1="311.3" x2="668.7" y2="309.9" stroke="#1e1e1e" stroke-width="1.0" />
<line x1="672.3" y1="311.3" x2="672.3" y2="309.9" stroke="#1e1e1e" stroke-width="1.0" />
<line x1="675.9" y1="311.3" x2="675.9" y2="308.5" stroke="#1e1e1e" stroke-width="1.0" />
<line x1="491.5" y1="311.3" x2="494.3" y2="311.3" stroke="#1e1e1e" stroke-width="1.0" />
<line x1="491.5" y1="305.51" x2="492.9" y2="305.51" stroke="#1e1e1e" stroke-width="1.0" />
<line x1="491.5" y1="299.72" x2="492.9" y2="299.72" stroke="#1e1e1e" stroke-width="1.0" />
<line x1="491.5" y1="293.93" x2="492.9" y2="293.93" stroke="#1e1e1e" stroke-width="1.0" />
<line x1="491.5" y1="288.14" x2="494.3" y2="288.14" stroke="#1e1e1e" stroke-width="1.0" />
<line x1="491.5" y1="282.35" x2="492.9" y2="282.35" stroke="#1e1e1e" stroke-width="1.0" />
<line x1="491.5" y1="276.56" x2="492.9" y2="276.56" stroke="#1e1e1e" stroke-width="1.0" />
<line x1="491.5" y1="270.77" x2="492.9" y2="270.77" stroke="#1e1e1e" stroke-width="1.0" />
<line x1="491.5" y1="264.98" x2="494.3" y2="264.98" stroke="#1e1e1e" stroke-width="1.0" />
<line x1="491.5" y1="259.19" x2="492.9" y2="259.19" stroke="#1e1e1e" stroke-width="1.0" />
<line x1="491.5" y1="253.4" x2="492.9" y2="253.4" stroke="#1e1e1e" stroke-width="1.0" />
<line x1="491.5" y1="247.61" x2="492.9" y2="247.61" stroke="#1e1e1e" stroke-width="1.0" />
<line x1="491.5" y1="241.82" x2="494.3" y2="241.82" stroke="#1e1e1e" stroke-width="1.0" />
<line x1="491.5" y1="236.03" x2="492.9" y2="236.03" stroke="#1e1e1e" stroke-width="1.0" />
<line x1="491.5" y1="230.24" x2="492.9" y2="230.24" stroke="#1e1e1e" stroke-width="1.0" />
<line x1="491.5" y1="224.45" x2="492.9" y2="224.45" stroke="#1e1e1e" stroke-width="1.0" />
<line x1="491.5" y1="218.66" x2="494.3" y2="218.66" stroke="#1e1e1e" stroke-width="1.0" />
<line x1="491.5" y1="212.87" x2="492.9" y2="212.87" stroke="#1e1e1e" stroke-width="1.0" />
<line x1="491.5" y1="207.08" x2="492.9" y2="207.08" stroke="#1e1e1e" stroke-width="1.0" />
<line x1="491.5" y1="201.29" x2="492.9" y2="201.29" stroke="#1e1e1e" stroke-width="1.0" />
<line x1="491.5" y1="195.5" x2="494.3" y2="195.5" stroke="#1e1e1e" stroke-width="1.0" />
<line x1="491.5" y1="189.71" x2="492.9" y2="189.71" stroke="#1e1e1e" stroke-width="1.0" />
<line x1="491.5" y1="183.92" x2="492.9" y2="183.92" stroke="#1e1e1e" stroke-width="1.0" />
<line x1="491.5" y1="178.13" x2="492.9" y2="178.13" stroke="#1e1e1e" stroke-width="1.0" />
<text x="491.3" y="323.2" font-size="9.8" text-anchor="middle" fill="#111" stroke="#111" stroke-width="0.12" >0</text>
<text x="509.9" y="323.2" font-size="9.8" text-anchor="middle" fill="#111" stroke="#111" stroke-width="0.12" >10</text>
<text x="528.5" y="323.2" font-size="9.8" text-anchor="middle" fill="#111" stroke="#111" stroke-width="0.12" >20</text>
<text x="547.1" y="323.2" font-size="9.8" text-anchor="middle" fill="#111" stroke="#111" stroke-width="0.12" >30</text>
<text x="565.7" y="323.2" font-size="9.8" text-anchor="middle" fill="#111" stroke="#111" stroke-width="0.12" >40</text>
<text x="603.9" y="323.2" font-size="9.8" text-anchor="middle" fill="#111" stroke="#111" stroke-width="0.12" >80</text>
<text x="621.9" y="323.2" font-size="9.8" text-anchor="middle" fill="#111" stroke="#111" stroke-width="0.12" >90</text>
<text x="639.9" y="323.2" font-size="9.8" text-anchor="middle" fill="#111" stroke="#111" stroke-width="0.12" >100</text>
<text x="657.9" y="323.2" font-size="9.8" text-anchor="middle" fill="#111" stroke="#111" stroke-width="0.12" >110</text>
<text x="675.9" y="323.2" font-size="9.8" text-anchor="middle" fill="#111" stroke="#111" stroke-width="0.12" >120</text>
<text x="584.3" y="333.6" font-size="10.5" text-anchor="middle" fill="#111" stroke="#111" stroke-width="0.12" >Time (ns)</text>
<text x="0" y="0" font-size="10.5" text-anchor="middle" fill="#111" stroke="#111" stroke-width="0.12" transform="translate(478.7,242) rotate(-90)">Intensity (arb. units)</text>
<text x="470.4" y="180.8" font-size="16.2" text-anchor="start" fill="#111" stroke="#111" stroke-width="0.45" >f</text>
<text x="673.3" y="184.6" font-size="9" text-anchor="end" fill="#111" stroke="#111" stroke-width="0.12" >330 nm / -2 V / 50 µW/cm<tspan font-size="5.8" dy="-3.4">2</tspan></text>
<line x1="505" y1="218.2" x2="677" y2="218.2" stroke="#111" stroke-width="1.15" stroke-dasharray="2.9,1.4"/>
<line x1="493.5" y1="218.2" x2="505" y2="218.2" stroke="#222" stroke-width="1.3" />
<path d="M491.9,218.2L496.8,216.2L496.8,220.2Z" fill="#222"/>
<line x1="505" y1="277.2" x2="677" y2="277.2" stroke="#111" stroke-width="1.15" stroke-dasharray="2.9,1.4"/>
<line x1="493.5" y1="277.2" x2="505" y2="277.2" stroke="#222" stroke-width="1.3" />
<path d="M491.9,277.2L496.8,275.2L496.8,279.2Z" fill="#222"/>
<text x="498.9" y="215" font-size="9" text-anchor="start" fill="#111" stroke="#111" stroke-width="0.12" >90%</text>
<text x="499.2" y="273.6" font-size="9" text-anchor="start" fill="#111" stroke="#111" stroke-width="0.12" >10%</text>
<line x1="529.5" y1="199.5" x2="529.5" y2="285" stroke="#30b4a2" stroke-width="1.25" stroke-dasharray="3.4,1.4"/>
<line x1="542.5" y1="199.5" x2="542.5" y2="224" stroke="#30b4a2" stroke-width="1.25" stroke-dasharray="3.4,1.4"/>
<line x1="614.7" y1="199.5" x2="614.7" y2="222" stroke="#30b4a2" stroke-width="1.25" stroke-dasharray="3.4,1.4"/>
<line x1="646.9" y1="199.5" x2="646.9" y2="286" stroke="#30b4a2" stroke-width="1.25" stroke-dasharray="3.4,1.4"/>
<text x="517.8" y="196.6" font-size="9.4" text-anchor="start" fill="#30b4a2" stroke="#30b4a2" stroke-width="0.12" xml:space="preserve">τ<tspan font-size="6.2" dy="2.2">r</tspan><tspan dy="-2.2"> = 6.8 ns</tspan></text>
<text x="612.4" y="196.6" font-size="9.4" text-anchor="start" fill="#30b4a2" stroke="#30b4a2" stroke-width="0.12" xml:space="preserve">τ<tspan font-size="6.2" dy="2.2">f</tspan><tspan dy="-2.2"> = 17.7 ns</tspan></text>
<text x="547.6" y="255.3" font-size="11.5" text-anchor="start" fill="#48a898" stroke="#48a898" stroke-width="0.12" >Rise</text>
<text x="596" y="255.1" font-size="11.5" text-anchor="start" fill="#48a898" stroke="#48a898" stroke-width="0.12" >Fall</text>
<line x1="536.8" y1="262" x2="542.17" y2="240.85" stroke="#48b8a8" stroke-width="1.6" />
<path d="M543.4,236L544.69,241.49L539.65,240.21Z" fill="#48b8a8"/>
<line x1="614" y1="236.3" x2="625.22" y2="254.92" stroke="#48b8a8" stroke-width="1.6" />
<path d="M627.8,259.2L622.99,256.26L627.45,253.58Z" fill="#48b8a8"/>
<circle cx="492.2" cy="285.7" r="1.25" fill="#f6a8f6" stroke="#e844e8" stroke-width="0.8"/>
<circle cx="494" cy="285.2" r="1.25" fill="#f6a8f6" stroke="#e844e8" stroke-width="0.8"/>
<circle cx="496" cy="284.5" r="1.25" fill="#f6a8f6" stroke="#e844e8" stroke-width="0.8"/>
<circle cx="498" cy="283.9" r="1.25" fill="#f6a8f6" stroke="#e844e8" stroke-width="0.8"/>
<circle cx="500" cy="283.4" r="1.25" fill="#f6a8f6" stroke="#e844e8" stroke-width="0.8"/>
<circle cx="502" cy="283" r="1.25" fill="#f6a8f6" stroke="#e844e8" stroke-width="0.8"/>
<circle cx="504" cy="282.8" r="1.25" fill="#f6a8f6" stroke="#e844e8" stroke-width="0.8"/>
<circle cx="506.3" cy="282.7" r="1.25" fill="#f6a8f6" stroke="#e844e8" stroke-width="0.8"/>
<circle cx="508.5" cy="282.8" r="1.25" fill="#f6a8f6" stroke="#e844e8" stroke-width="0.8"/>
<circle cx="510.5" cy="283" r="1.25" fill="#f6a8f6" stroke="#e844e8" stroke-width="0.8"/>
<circle cx="512.5" cy="283.5" r="1.25" fill="#f6a8f6" stroke="#e844e8" stroke-width="0.8"/>
<circle cx="514.5" cy="284.3" r="1.25" fill="#f6a8f6" stroke="#e844e8" stroke-width="0.8"/>
<circle cx="516.5" cy="285.3" r="1.25" fill="#f6a8f6" stroke="#e844e8" stroke-width="0.8"/>
<circle cx="518.5" cy="286.4" r="1.25" fill="#f6a8f6" stroke="#e844e8" stroke-width="0.8"/>
<circle cx="520.5" cy="287.5" r="1.25" fill="#f6a8f6" stroke="#e844e8" stroke-width="0.8"/>
<circle cx="522.3" cy="288.2" r="1.25" fill="#f6a8f6" stroke="#e844e8" stroke-width="0.8"/>
<circle cx="524" cy="288.1" r="1.25" fill="#f6a8f6" stroke="#e844e8" stroke-width="0.8"/>
<circle cx="525.7" cy="287.5" r="1.25" fill="#f6a8f6" stroke="#e844e8" stroke-width="0.8"/>
<circle cx="527.3" cy="286.3" r="1.25" fill="#f6a8f6" stroke="#e844e8" stroke-width="0.8"/>
<circle cx="528.6" cy="284.5" r="1.25" fill="#f6a8f6" stroke="#e844e8" stroke-width="0.8"/>
<circle cx="529.7" cy="280.4" r="1.25" fill="#f6a8f6" stroke="#e844e8" stroke-width="0.8"/>
<circle cx="530.5" cy="277.2" r="1.25" fill="#f6a8f6" stroke="#e844e8" stroke-width="0.8"/>
<circle cx="531.5" cy="273.3" r="1.25" fill="#f6a8f6" stroke="#e844e8" stroke-width="0.8"/>
<circle cx="533.4" cy="266.2" r="1.25" fill="#f6a8f6" stroke="#e844e8" stroke-width="0.8"/>
<circle cx="535.5" cy="257.5" r="1.25" fill="#f6a8f6" stroke="#e844e8" stroke-width="0.8"/>
<circle cx="537.3" cy="248.1" r="1.25" fill="#f6a8f6" stroke="#e844e8" stroke-width="0.8"/>
<circle cx="539.1" cy="238.5" r="1.25" fill="#f6a8f6" stroke="#e844e8" stroke-width="0.8"/>
<circle cx="540.8" cy="230.6" r="1.25" fill="#f6a8f6" stroke="#e844e8" stroke-width="0.8"/>
<circle cx="542.3" cy="223" r="1.25" fill="#f6a8f6" stroke="#e844e8" stroke-width="0.8"/>
<circle cx="544.5" cy="217.4" r="1.25" fill="#f6a8f6" stroke="#e844e8" stroke-width="0.8"/>
<circle cx="546.2" cy="213.2" r="1.25" fill="#f6a8f6" stroke="#e844e8" stroke-width="0.8"/>
<circle cx="548" cy="211.2" r="1.25" fill="#f6a8f6" stroke="#e844e8" stroke-width="0.8"/>
<circle cx="550" cy="209.6" r="1.25" fill="#f6a8f6" stroke="#e844e8" stroke-width="0.8"/>
<circle cx="552" cy="208.4" r="1.25" fill="#f6a8f6" stroke="#e844e8" stroke-width="0.8"/>
<circle cx="554" cy="207.4" r="1.25" fill="#f6a8f6" stroke="#e844e8" stroke-width="0.8"/>
<circle cx="556" cy="206.5" r="1.25" fill="#f6a8f6" stroke="#e844e8" stroke-width="0.8"/>
<circle cx="558" cy="205.6" r="1.25" fill="#f6a8f6" stroke="#e844e8" stroke-width="0.8"/>
<circle cx="560" cy="204.9" r="1.25" fill="#f6a8f6" stroke="#e844e8" stroke-width="0.8"/>
<circle cx="562" cy="204.3" r="1.25" fill="#f6a8f6" stroke="#e844e8" stroke-width="0.8"/>
<circle cx="564" cy="203.8" r="1.25" fill="#f6a8f6" stroke="#e844e8" stroke-width="0.8"/>
<circle cx="566" cy="203.7" r="1.25" fill="#f6a8f6" stroke="#e844e8" stroke-width="0.8"/>
<circle cx="568" cy="203.9" r="1.25" fill="#f6a8f6" stroke="#e844e8" stroke-width="0.8"/>
<circle cx="570" cy="204.4" r="1.25" fill="#f6a8f6" stroke="#e844e8" stroke-width="0.8"/>
<circle cx="572" cy="205" r="1.25" fill="#f6a8f6" stroke="#e844e8" stroke-width="0.8"/>
<circle cx="574" cy="205.5" r="1.25" fill="#f6a8f6" stroke="#e844e8" stroke-width="0.8"/>
<circle cx="576" cy="205.9" r="1.25" fill="#f6a8f6" stroke="#e844e8" stroke-width="0.8"/>
<circle cx="578" cy="206" r="1.25" fill="#f6a8f6" stroke="#e844e8" stroke-width="0.8"/>
<circle cx="580" cy="205.6" r="1.25" fill="#f6a8f6" stroke="#e844e8" stroke-width="0.8"/>
<circle cx="581.8" cy="204.8" r="1.25" fill="#f6a8f6" stroke="#e844e8" stroke-width="0.8"/>
<circle cx="586.2" cy="203.8" r="1.25" fill="#f6a8f6" stroke="#e844e8" stroke-width="0.8"/>
<circle cx="588" cy="203.3" r="1.25" fill="#f6a8f6" stroke="#e844e8" stroke-width="0.8"/>
<circle cx="590" cy="202.8" r="1.25" fill="#f6a8f6" stroke="#e844e8" stroke-width="0.8"/>
<circle cx="592" cy="202.5" r="1.25" fill="#f6a8f6" stroke="#e844e8" stroke-width="0.8"/>
<circle cx="594" cy="202.4" r="1.25" fill="#f6a8f6" stroke="#e844e8" stroke-width="0.8"/>
<circle cx="596" cy="202.6" r="1.25" fill="#f6a8f6" stroke="#e844e8" stroke-width="0.8"/>
<circle cx="598" cy="203.2" r="1.25" fill="#f6a8f6" stroke="#e844e8" stroke-width="0.8"/>
<circle cx="600" cy="204" r="1.25" fill="#f6a8f6" stroke="#e844e8" stroke-width="0.8"/>
<circle cx="602" cy="205.2" r="1.25" fill="#f6a8f6" stroke="#e844e8" stroke-width="0.8"/>
<circle cx="604" cy="206.7" r="1.25" fill="#f6a8f6" stroke="#e844e8" stroke-width="0.8"/>
<circle cx="606" cy="208.3" r="1.25" fill="#f6a8f6" stroke="#e844e8" stroke-width="0.8"/>
<circle cx="608" cy="210.2" r="1.25" fill="#f6a8f6" stroke="#e844e8" stroke-width="0.8"/>
<circle cx="610" cy="212.3" r="1.25" fill="#f6a8f6" stroke="#e844e8" stroke-width="0.8"/>
<circle cx="612" cy="214.5" r="1.25" fill="#f6a8f6" stroke="#e844e8" stroke-width="0.8"/>
<circle cx="614" cy="217" r="1.25" fill="#f6a8f6" stroke="#e844e8" stroke-width="0.8"/>
<circle cx="615.5" cy="219.4" r="1.25" fill="#f6a8f6" stroke="#e844e8" stroke-width="0.8"/>
<circle cx="616.9" cy="221.2" r="1.25" fill="#f6a8f6" stroke="#e844e8" stroke-width="0.8"/>
<circle cx="619.8" cy="225.2" r="1.25" fill="#f6a8f6" stroke="#e844e8" stroke-width="0.8"/>
<circle cx="622" cy="228.6" r="1.25" fill="#f6a8f6" stroke="#e844e8" stroke-width="0.8"/>
<circle cx="624.2" cy="232.5" r="1.25" fill="#f6a8f6" stroke="#e844e8" stroke-width="0.8"/>
<circle cx="626.9" cy="237.4" r="1.25" fill="#f6a8f6" stroke="#e844e8" stroke-width="0.8"/>
<circle cx="631.6" cy="245.8" r="1.25" fill="#f6a8f6" stroke="#e844e8" stroke-width="0.8"/>
<circle cx="636" cy="253.9" r="1.25" fill="#f6a8f6" stroke="#e844e8" stroke-width="0.8"/>
<circle cx="640.5" cy="262" r="1.25" fill="#f6a8f6" stroke="#e844e8" stroke-width="0.8"/>
<circle cx="643.5" cy="268.2" r="1.25" fill="#f6a8f6" stroke="#e844e8" stroke-width="0.8"/>
<circle cx="646.2" cy="274.2" r="1.25" fill="#f6a8f6" stroke="#e844e8" stroke-width="0.8"/>
<circle cx="649" cy="278.3" r="1.25" fill="#f6a8f6" stroke="#e844e8" stroke-width="0.8"/>
<circle cx="651.7" cy="282.1" r="1.25" fill="#f6a8f6" stroke="#e844e8" stroke-width="0.8"/>
<circle cx="654" cy="284.6" r="1.25" fill="#f6a8f6" stroke="#e844e8" stroke-width="0.8"/>
<circle cx="656" cy="286.3" r="1.25" fill="#f6a8f6" stroke="#e844e8" stroke-width="0.8"/>
<circle cx="658" cy="287.5" r="1.25" fill="#f6a8f6" stroke="#e844e8" stroke-width="0.8"/>
<circle cx="660" cy="288" r="1.25" fill="#f6a8f6" stroke="#e844e8" stroke-width="0.8"/>
<circle cx="662" cy="288" r="1.25" fill="#f6a8f6" stroke="#e844e8" stroke-width="0.8"/>
<circle cx="664" cy="287.6" r="1.25" fill="#f6a8f6" stroke="#e844e8" stroke-width="0.8"/>
<circle cx="666" cy="286.8" r="1.25" fill="#f6a8f6" stroke="#e844e8" stroke-width="0.8"/>
<circle cx="668" cy="285.8" r="1.25" fill="#f6a8f6" stroke="#e844e8" stroke-width="0.8"/>
<circle cx="670" cy="284.6" r="1.25" fill="#f6a8f6" stroke="#e844e8" stroke-width="0.8"/>
<circle cx="672" cy="283.4" r="1.25" fill="#f6a8f6" stroke="#e844e8" stroke-width="0.8"/>
<circle cx="674" cy="282.3" r="1.25" fill="#f6a8f6" stroke="#e844e8" stroke-width="0.8"/>
<circle cx="676" cy="281.3" r="1.25" fill="#f6a8f6" stroke="#e844e8" stroke-width="0.8"/>
</svg>
</body></html>
